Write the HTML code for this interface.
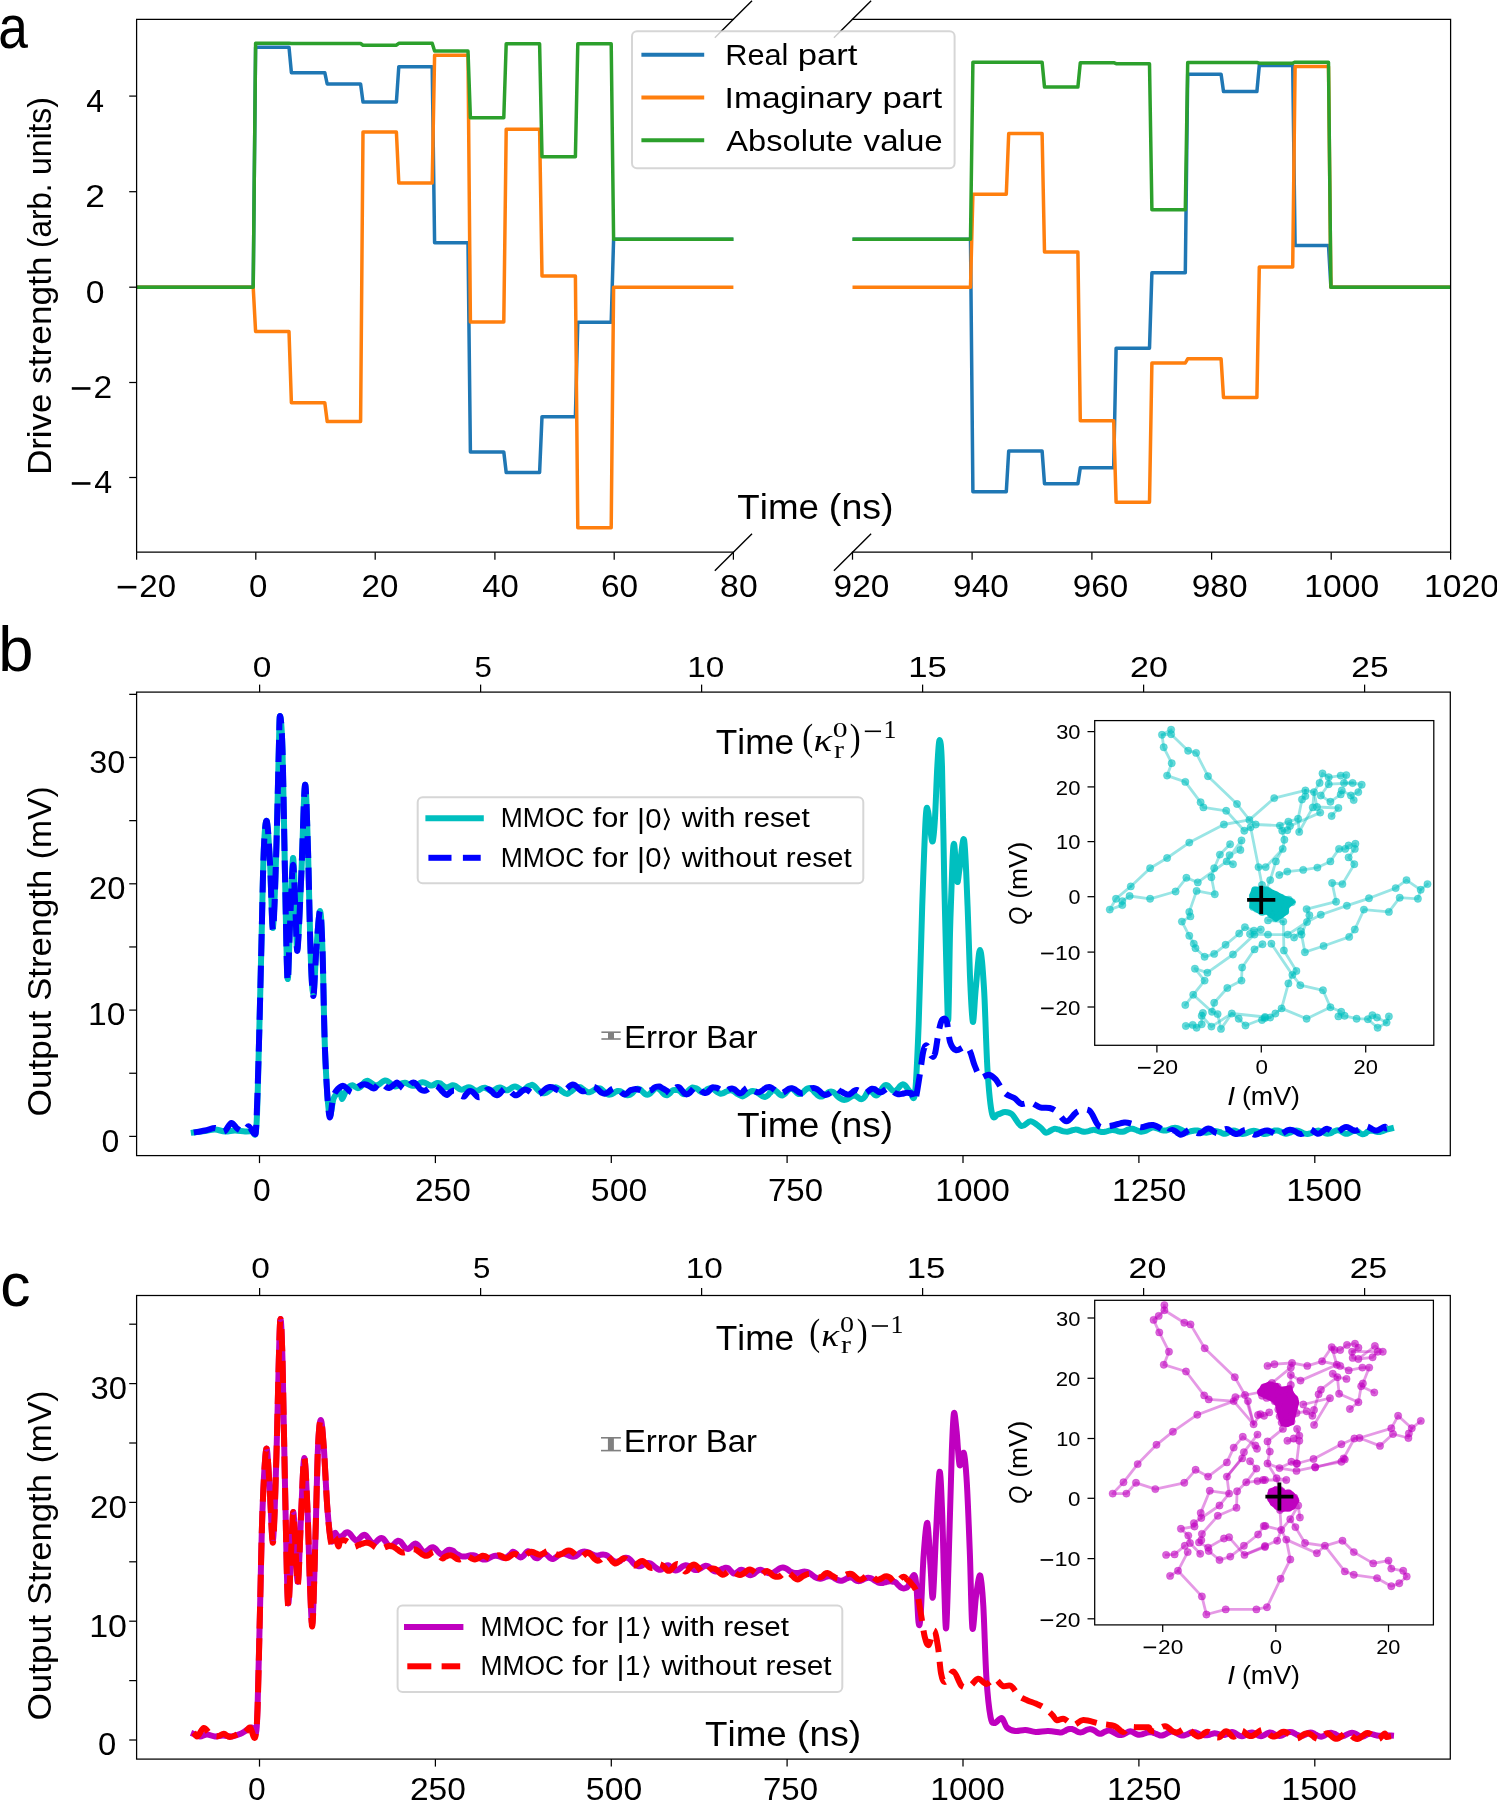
<!DOCTYPE html>
<html><head><meta charset="utf-8"><title>Figure</title><style>html,body{margin:0;padding:0;background:#fff;}svg{display:block;will-change:transform;} text{font-kerning:none;}</style></head><body><svg width="1497" height="1800" viewBox="0 0 1497 1800"><rect width="1497" height="1800" fill="#fff"/><defs><clipPath id="ca1"><rect x="136.6" y="19.3" width="596.8" height="532.9000000000001"/></clipPath><clipPath id="ca2"><rect x="852.5" y="19.3" width="598.0999999999999" height="532.9000000000001"/></clipPath></defs>
<g clip-path="url(#ca1)" fill="none" stroke-width="3.5" stroke-linejoin="round">
<polyline points="131.6,287.2 253.2,287.2 255.6,47.2 289,47.2 291.4,72.7 324.8,72.7 327.2,84 360.6,84 363,102 396.4,102 398.8,66.7 432.2,66.7 434.6,242.7 468,242.7 470.4,452 503.8,452 506.2,472.5 539.6,472.5 542,416.7 575.4,416.7 577.8,322.2 611.2,322.2 613.6,239.2 738.4,239.2" stroke="#1f77b4"/>
<polyline points="131.6,287.2 253.2,287.2 255.6,331.5 289,331.5 291.4,402.7 324.8,402.7 327.2,421.5 360.6,421.5 363,132 396.4,132 398.8,183 432.2,183 434.6,55.2 468,55.2 470.4,322 503.8,322 506.2,129.3 539.6,129.3 542,276 575.4,276 577.8,527.7 611.2,527.7 613.6,287.2 738.4,287.2" stroke="#ff7f0e"/>
<polyline points="131.6,287.2 253.2,287.2 255.6,43.3 289,43.3 291.4,43.5 324.8,43.5 327.2,43.5 360.6,43.5 363,45.2 396.4,45.2 398.8,43.3 432.2,43.3 434.6,51 468,51 470.4,117.7 503.8,117.7 506.2,43.8 539.6,43.8 542,156.7 575.4,156.7 577.8,43.8 611.2,43.8 613.6,239.2 738.4,239.2" stroke="#2ca02c"/>
</g>
<g clip-path="url(#ca2)" fill="none" stroke-width="3.5" stroke-linejoin="round">
<polyline points="847.5,239.2 970.5,239.2 972.9,491.7 1006.3,491.7 1008.7,451 1042.1,451 1044.5,483.7 1077.9,483.7 1080.3,467.7 1113.7,467.7 1116.1,348.3 1149.5,348.3 1151.9,272.7 1185.3,272.7 1187.7,74.2 1221.1,74.2 1223.5,91.5 1256.9,91.5 1259.3,65.5 1292.7,65.5 1295.1,245.5 1328.5,245.5 1330.9,287.2 1455.6,287.2" stroke="#1f77b4"/>
<polyline points="847.5,287.2 970.5,287.2 972.9,194.2 1006.3,194.2 1008.7,133.5 1042.1,133.5 1044.5,252 1077.9,252 1080.3,420.7 1113.7,420.7 1116.1,502.2 1149.5,502.2 1151.9,363 1185.3,363 1187.7,358.8 1221.1,358.8 1223.5,397.5 1256.9,397.5 1259.3,267 1292.7,267 1295.1,66.5 1328.5,66.5 1330.9,287.2 1455.6,287.2" stroke="#ff7f0e"/>
<polyline points="847.5,239.2 970.5,239.2 972.9,62.2 1006.3,62.2 1008.7,62.2 1042.1,62.2 1044.5,87 1077.9,87 1080.3,62.7 1113.7,62.7 1116.1,63.7 1149.5,63.7 1151.9,209.7 1185.3,209.7 1187.7,62.5 1221.1,62.5 1223.5,62.5 1256.9,62.5 1259.3,63.2 1292.7,63.2 1295.1,62.2 1328.5,62.2 1330.9,287.2 1455.6,287.2" stroke="#2ca02c"/>
</g>
<g stroke="#000" stroke-width="1.25" fill="none" stroke-linecap="square">
<polyline points="733.4,19.3 136.6,19.3 136.6,552.2 733.4,552.2"/>
<polyline points="852.5,19.3 1450.6,19.3 1450.6,552.2 852.5,552.2"/>
</g>
<line x1="714.8" y1="37.8" x2="752" y2="0.8" stroke="#000" stroke-width="1.4" />
<line x1="714.8" y1="570.7" x2="752" y2="533.7" stroke="#000" stroke-width="1.4" />
<line x1="833.9" y1="37.8" x2="871.1" y2="0.8" stroke="#000" stroke-width="1.4" />
<line x1="833.9" y1="570.7" x2="871.1" y2="533.7" stroke="#000" stroke-width="1.4" />
<line x1="129.2" y1="96.1" x2="136.6" y2="96.1" stroke="#000" stroke-width="1.25" />
<line x1="129.2" y1="191.7" x2="136.6" y2="191.7" stroke="#000" stroke-width="1.25" />
<line x1="129.2" y1="287.2" x2="136.6" y2="287.2" stroke="#000" stroke-width="1.25" />
<line x1="129.2" y1="382.5" x2="136.6" y2="382.5" stroke="#000" stroke-width="1.25" />
<line x1="129.2" y1="477.5" x2="136.6" y2="477.5" stroke="#000" stroke-width="1.25" />
<line x1="136.6" y1="552.2" x2="136.6" y2="559.7" stroke="#000" stroke-width="1.25" />
<line x1="255.8" y1="552.2" x2="255.8" y2="559.7" stroke="#000" stroke-width="1.25" />
<line x1="375.2" y1="552.2" x2="375.2" y2="559.7" stroke="#000" stroke-width="1.25" />
<line x1="494.9" y1="552.2" x2="494.9" y2="559.7" stroke="#000" stroke-width="1.25" />
<line x1="614.2" y1="552.2" x2="614.2" y2="559.7" stroke="#000" stroke-width="1.25" />
<line x1="733.4" y1="552.2" x2="733.4" y2="559.7" stroke="#000" stroke-width="1.25" />
<line x1="852.5" y1="552.2" x2="852.5" y2="559.7" stroke="#000" stroke-width="1.25" />
<line x1="972.1" y1="552.2" x2="972.1" y2="559.7" stroke="#000" stroke-width="1.25" />
<line x1="1091.9" y1="552.2" x2="1091.9" y2="559.7" stroke="#000" stroke-width="1.25" />
<line x1="1211.6" y1="552.2" x2="1211.6" y2="559.7" stroke="#000" stroke-width="1.25" />
<line x1="1331.2" y1="552.2" x2="1331.2" y2="559.7" stroke="#000" stroke-width="1.25" />
<line x1="1450.6" y1="552.2" x2="1450.6" y2="559.7" stroke="#000" stroke-width="1.25" />
<text x="86.27" y="111.50" textLength="17.77" lengthAdjust="spacingAndGlyphs" style="font-family:'Liberation Sans';font-size:31.80px;" fill="#000" >4</text>
<text x="85.22" y="207.10" textLength="19.65" lengthAdjust="spacingAndGlyphs" style="font-family:'Liberation Sans';font-size:31.80px;" fill="#000" >2</text>
<text x="85.68" y="302.60" textLength="18.73" lengthAdjust="spacingAndGlyphs" style="font-family:'Liberation Sans';font-size:31.80px;" fill="#000" >0</text>
<rect x="71.8" y="387.17" width="18.65" height="2.6" fill="#000"/>
<text x="93.42" y="397.90" textLength="18.67" lengthAdjust="spacingAndGlyphs" style="font-family:'Liberation Sans';font-size:31.80px;" fill="#000" >2</text>
<rect x="71.8" y="482.17" width="18.65" height="2.6" fill="#000"/>
<text x="94.37" y="492.90" textLength="17.87" lengthAdjust="spacingAndGlyphs" style="font-family:'Liberation Sans';font-size:31.80px;" fill="#000" >4</text>
<rect x="117.7" y="585.87" width="18.65" height="2.6" fill="#000"/>
<text x="139.35" y="596.60" textLength="36.74" lengthAdjust="spacingAndGlyphs" style="font-family:'Liberation Sans';font-size:31.80px;" fill="#000" >20</text>
<text x="249.11" y="596.60" textLength="18.38" lengthAdjust="spacingAndGlyphs" style="font-family:'Liberation Sans';font-size:31.80px;" fill="#000" >0</text>
<text x="361.53" y="596.60" textLength="36.86" lengthAdjust="spacingAndGlyphs" style="font-family:'Liberation Sans';font-size:31.80px;" fill="#000" >20</text>
<text x="482.25" y="596.60" textLength="36.54" lengthAdjust="spacingAndGlyphs" style="font-family:'Liberation Sans';font-size:31.80px;" fill="#000" >40</text>
<text x="601.00" y="596.60" textLength="37.21" lengthAdjust="spacingAndGlyphs" style="font-family:'Liberation Sans';font-size:31.80px;" fill="#000" >60</text>
<text x="720.13" y="596.60" textLength="37.59" lengthAdjust="spacingAndGlyphs" style="font-family:'Liberation Sans';font-size:31.80px;" fill="#000" >80</text>
<text x="833.63" y="596.60" textLength="55.77" lengthAdjust="spacingAndGlyphs" style="font-family:'Liberation Sans';font-size:31.80px;" fill="#000" >920</text>
<text x="953.14" y="596.60" textLength="55.67" lengthAdjust="spacingAndGlyphs" style="font-family:'Liberation Sans';font-size:31.80px;" fill="#000" >940</text>
<text x="1072.74" y="596.60" textLength="55.56" lengthAdjust="spacingAndGlyphs" style="font-family:'Liberation Sans';font-size:31.80px;" fill="#000" >960</text>
<text x="1191.73" y="596.60" textLength="55.98" lengthAdjust="spacingAndGlyphs" style="font-family:'Liberation Sans';font-size:31.80px;" fill="#000" >980</text>
<text x="1304.23" y="596.60" textLength="74.98" lengthAdjust="spacingAndGlyphs" style="font-family:'Liberation Sans';font-size:31.80px;" fill="#000" >1000</text>
<text x="1424.13" y="596.60" textLength="74.98" lengthAdjust="spacingAndGlyphs" style="font-family:'Liberation Sans';font-size:31.80px;" fill="#000" >1020</text>
<text x="-1.77" y="47.80" textLength="29.67" lengthAdjust="spacingAndGlyphs" style="font-family:'Liberation Sans';font-size:61.51px;" fill="#000" >a</text>
<text x="737.38" y="518.90" textLength="81.56" lengthAdjust="spacingAndGlyphs" style="font-family:'Liberation Sans';font-size:34.88px;" fill="#000" >Time</text>
<text x="828.87" y="518.90" textLength="64.76" lengthAdjust="spacingAndGlyphs" style="font-family:'Liberation Sans';font-size:34.88px;" fill="#000" >(ns)</text>
<g transform="translate(50.75,0) rotate(-90)"><text x="-474.85" y="0.00" textLength="81.09" lengthAdjust="spacingAndGlyphs" style="font-family:'Liberation Sans';font-size:32.41px;" fill="#000" >Drive</text><text x="-383.98" y="0.00" textLength="127.58" lengthAdjust="spacingAndGlyphs" style="font-family:'Liberation Sans';font-size:32.41px;" fill="#000" >strength</text><text x="-247.95" y="0.00" textLength="64.51" lengthAdjust="spacingAndGlyphs" style="font-family:'Liberation Sans';font-size:32.41px;" fill="#000" >(arb.</text><text x="-175.07" y="0.00" textLength="77.95" lengthAdjust="spacingAndGlyphs" style="font-family:'Liberation Sans';font-size:32.41px;" fill="#000" >units)</text></g>
<rect x="632" y="31.3" width="322.6" height="137" rx="5" ry="5" fill="#fff" fill-opacity="0.8" stroke="#cccccc" stroke-opacity="0.8" stroke-width="2"/>
<line x1="641.4" y1="54.8" x2="704.2" y2="54.8" stroke="#1f77b4" stroke-width="3.9" />
<line x1="641.4" y1="97.5" x2="704.2" y2="97.5" stroke="#ff7f0e" stroke-width="3.9" />
<line x1="641.4" y1="140.3" x2="704.2" y2="140.3" stroke="#2ca02c" stroke-width="3.9" />
<text x="725.18" y="65.20" textLength="63.28" lengthAdjust="spacingAndGlyphs" style="font-family:'Liberation Sans';font-size:29.07px;" fill="#000" >Real</text>
<text x="797.66" y="65.20" textLength="59.79" lengthAdjust="spacingAndGlyphs" style="font-family:'Liberation Sans';font-size:29.07px;" fill="#000" >part</text>
<text x="724.60" y="108.30" textLength="147.57" lengthAdjust="spacingAndGlyphs" style="font-family:'Liberation Sans';font-size:29.07px;" fill="#000" >Imaginary</text>
<text x="882.46" y="108.30" textLength="59.79" lengthAdjust="spacingAndGlyphs" style="font-family:'Liberation Sans';font-size:29.07px;" fill="#000" >part</text>
<text x="726.34" y="150.80" textLength="126.91" lengthAdjust="spacingAndGlyphs" style="font-family:'Liberation Sans';font-size:29.07px;" fill="#000" >Absolute</text>
<text x="863.59" y="150.80" textLength="79.18" lengthAdjust="spacingAndGlyphs" style="font-family:'Liberation Sans';font-size:29.07px;" fill="#000" >value</text>
<defs><clipPath id="cb"><rect x="136.6" y="692.1" width="1313.7" height="463.4999999999999"/></clipPath></defs>
<g clip-path="url(#cb)" fill="none" stroke-width="6.0" stroke-linejoin="round">
<path d="M193.8,1132.5 C195.67,1132.25 201.47,1131.5 205,1131 C208.53,1130.5 211.67,1129.42 215,1129.5 C218.33,1129.58 221.67,1131.33 225,1131.5 C228.33,1131.67 231.67,1130.5 235,1130.5 C238.33,1130.5 242.17,1131.42 245,1131.5 C247.83,1131.58 250.12,1131.58 252,1131 C253.88,1130.42 255.17,1141.5 256.3,1128 C257.43,1114.5 257.97,1079.67 258.8,1050 C259.63,1020.33 260.47,983.33 261.3,950 C262.13,916.67 262.88,871.5 263.8,850 C264.72,828.5 265.77,818.92 266.8,821 C267.83,823.08 268.97,844.67 270,862.5 C271.03,880.33 271.95,930.08 273,928 C274.05,925.92 275.33,879.67 276.3,850 C277.27,820.33 278.18,772.33 278.8,750 C279.42,727.67 279.38,716 280,716 C280.62,716 281.67,723.5 282.5,750 C283.33,776.5 284.17,837 285,875 C285.83,913 286.67,969.67 287.5,978 C288.33,986.33 289.08,945 290,925 C290.92,905 292.08,860.08 293,858 C293.92,855.92 294.75,897.5 295.5,912.5 C296.25,927.5 296.53,954.25 297.5,948 C298.47,941.75 300.05,902.17 301.3,875 C302.55,847.83 303.88,789.17 305,785 C306.12,780.83 307.08,822.5 308,850 C308.92,877.5 309.62,926 310.5,950 C311.38,974 312.33,994 313.3,994 C314.27,994 315.18,963.83 316.3,950 C317.42,936.17 318.97,911 320,911 C321.03,911 321.67,926.83 322.5,950 C323.33,973.17 323.87,1022.67 325,1050 C326.13,1077.33 327.83,1106 329.3,1114 C330.77,1122 332.02,1101.67 333.8,1098 C335.58,1094.33 338.63,1091.83 340,1092 C341.37,1092.17 341.17,1098.83 342,1099 C342.83,1099.17 344.08,1094.64 345,1093.04 C345.92,1091.45 346.67,1090.6 347.5,1089.44 C348.33,1088.28 349.17,1086.79 350,1086.07 C350.83,1085.36 351.67,1085.07 352.5,1085.17 C353.33,1085.26 354.17,1086.14 355,1086.64 C355.83,1087.14 356.67,1088.02 357.5,1088.15 C358.33,1088.28 359.17,1088 360,1087.41 C360.83,1086.81 361.67,1085.54 362.5,1084.58 C363.33,1083.62 364.17,1082.29 365,1081.65 C365.83,1081 366.67,1080.61 367.5,1080.69 C368.33,1080.77 369.17,1081.63 370,1082.15 C370.83,1082.68 371.67,1083.33 372.5,1083.85 C373.33,1084.36 374.17,1085 375,1085.22 C375.83,1085.44 376.67,1085.43 377.5,1085.17 C378.33,1084.92 379.17,1084.28 380,1083.71 C380.83,1083.13 381.67,1082.27 382.5,1081.74 C383.33,1081.21 384.17,1080.62 385,1080.52 C385.83,1080.43 386.67,1080.74 387.5,1081.17 C388.33,1081.6 389.17,1082.41 390,1083.09 C390.83,1083.77 391.67,1084.69 392.5,1085.25 C393.33,1085.81 394.17,1086.33 395,1086.45 C395.83,1086.58 396.67,1086.35 397.5,1086 C398.33,1085.64 399.17,1084.79 400,1084.32 C400.83,1083.85 401.67,1083.41 402.5,1083.17 C403.33,1082.93 404.17,1082.78 405,1082.86 C405.83,1082.93 406.67,1083.29 407.5,1083.64 C408.33,1083.98 409.17,1084.58 410,1084.94 C410.83,1085.31 411.67,1085.71 412.5,1085.82 C413.33,1085.93 414.17,1085.85 415,1085.61 C415.83,1085.37 416.67,1084.84 417.5,1084.4 C418.33,1083.96 419.17,1083.33 420,1082.98 C420.83,1082.62 421.67,1082.32 422.5,1082.29 C423.33,1082.26 424.17,1082.49 425,1082.79 C425.83,1083.09 426.67,1083.66 427.5,1084.1 C428.33,1084.55 429.17,1085.24 430,1085.45 C430.83,1085.67 431.67,1085.61 432.5,1085.38 C433.33,1085.15 434.17,1084.47 435,1084.06 C435.83,1083.66 436.67,1083.07 437.5,1082.95 C438.33,1082.83 439.17,1082.97 440,1083.34 C440.83,1083.71 441.67,1084.54 442.5,1085.14 C443.33,1085.73 444.17,1086.55 445,1086.91 C445.83,1087.27 446.67,1087.4 447.5,1087.29 C448.33,1087.19 449.17,1086.64 450,1086.31 C450.83,1085.98 451.67,1085.42 452.5,1085.32 C453.33,1085.22 454.17,1085.35 455,1085.71 C455.83,1086.06 456.67,1086.88 457.5,1087.47 C458.33,1088.07 459.17,1088.9 460,1089.26 C460.83,1089.62 461.67,1089.77 462.5,1089.65 C463.33,1089.54 464.17,1088.95 465,1088.56 C465.83,1088.17 466.67,1087.51 467.5,1087.3 C468.33,1087.1 469.17,1087.08 470,1087.32 C470.83,1087.57 471.67,1088.27 472.5,1088.78 C473.33,1089.29 474.17,1090.07 475,1090.39 C475.83,1090.71 476.67,1090.84 477.5,1090.69 C478.33,1090.54 479.17,1089.92 480,1089.47 C480.83,1089.02 481.67,1088.27 482.5,1087.98 C483.33,1087.69 484.17,1087.55 485,1087.72 C485.83,1087.88 486.67,1088.49 487.5,1088.95 C488.33,1089.42 489.17,1090.18 490,1090.5 C490.83,1090.81 491.67,1090.97 492.5,1090.82 C493.33,1090.67 494.17,1090.07 495,1089.59 C495.83,1089.12 496.67,1088.32 497.5,1087.96 C498.33,1087.6 499.17,1087.37 500,1087.45 C500.83,1087.54 501.67,1088.06 502.5,1088.47 C503.33,1088.88 504.17,1089.61 505,1089.9 C505.83,1090.18 506.67,1090.35 507.5,1090.19 C508.33,1090.02 509.17,1089.41 510,1088.89 C510.83,1088.38 511.67,1087.52 512.5,1087.1 C513.33,1086.68 514.17,1086.36 515,1086.39 C515.83,1086.43 516.67,1086.91 517.5,1087.32 C518.33,1087.73 519.17,1088.3 520,1088.87 C520.83,1089.44 521.67,1090.71 522.5,1090.75 C523.33,1090.78 524.17,1089.75 525,1089.07 C525.83,1088.4 526.67,1087.26 527.5,1086.69 C528.33,1086.12 529.17,1085.96 530,1085.66 C530.83,1085.36 531.67,1084.7 532.5,1084.88 C533.33,1085.05 534.17,1085.93 535,1086.72 C535.83,1087.5 536.67,1088.73 537.5,1089.57 C538.33,1090.41 539.17,1091.17 540,1091.76 C540.83,1092.35 541.67,1092.88 542.5,1093.1 C543.33,1093.32 544.17,1093.27 545,1093.1 C545.83,1092.93 546.67,1092.6 547.5,1092.08 C548.33,1091.57 549.17,1090.66 550,1090.02 C550.83,1089.37 551.67,1088.63 552.5,1088.19 C553.33,1087.75 554.17,1087.43 555,1087.38 C555.83,1087.33 556.67,1087.55 557.5,1087.92 C558.33,1088.29 559.17,1088.96 560,1089.59 C560.83,1090.22 561.67,1091.07 562.5,1091.7 C563.33,1092.33 564.17,1093.01 565,1093.38 C565.83,1093.74 566.67,1094.08 567.5,1093.88 C568.33,1093.68 569.17,1092.76 570,1092.17 C570.83,1091.57 571.67,1090.97 572.5,1090.31 C573.33,1089.66 574.17,1088.79 575,1088.23 C575.83,1087.68 576.67,1087.16 577.5,1086.98 C578.33,1086.8 579.17,1086.89 580,1087.17 C580.83,1087.44 581.67,1088.08 582.5,1088.65 C583.33,1089.23 584.17,1090.06 585,1090.62 C585.83,1091.17 586.67,1091.76 587.5,1092.01 C588.33,1092.26 589.17,1092.29 590,1092.11 C590.83,1091.94 591.67,1091.44 592.5,1090.98 C593.33,1090.51 594.17,1089.79 595,1089.32 C595.83,1088.86 596.67,1088.36 597.5,1088.21 C598.33,1088.06 599.17,1088.12 600,1088.41 C600.83,1088.71 601.67,1089.35 602.5,1090 C603.33,1090.65 604.17,1091.58 605,1092.31 C605.83,1093.03 606.67,1093.97 607.5,1094.35 C608.33,1094.72 609.17,1094.68 610,1094.57 C610.83,1094.46 611.67,1094.1 612.5,1093.7 C613.33,1093.29 614.17,1092.59 615,1092.15 C615.83,1091.71 616.67,1091.21 617.5,1091.05 C618.33,1090.89 619.17,1090.96 620,1091.21 C620.83,1091.47 621.67,1092.06 622.5,1092.58 C623.33,1093.09 624.17,1093.85 625,1094.29 C625.83,1094.73 626.67,1095.16 627.5,1095.23 C628.33,1095.29 629.17,1095.09 630,1094.71 C630.83,1094.33 631.67,1093.7 632.5,1092.96 C633.33,1092.22 634.17,1090.98 635,1090.27 C635.83,1089.57 636.67,1088.88 637.5,1088.72 C638.33,1088.57 639.17,1088.86 640,1089.33 C640.83,1089.81 641.67,1090.82 642.5,1091.59 C643.33,1092.36 644.17,1093.4 645,1093.94 C645.83,1094.48 646.67,1094.87 647.5,1094.82 C648.33,1094.76 649.17,1094.23 650,1093.6 C650.83,1092.97 651.67,1091.84 652.5,1091.03 C653.33,1090.23 654.17,1089.22 655,1088.75 C655.83,1088.29 656.67,1088.05 657.5,1088.23 C658.33,1088.41 659.17,1089.11 660,1089.83 C660.83,1090.56 661.67,1091.76 662.5,1092.59 C663.33,1093.41 664.17,1094.37 665,1094.79 C665.83,1095.2 666.67,1095.32 667.5,1095.07 C668.33,1094.82 669.17,1094.04 670,1093.28 C670.83,1092.51 671.67,1091.03 672.5,1090.49 C673.33,1089.95 674.17,1090.1 675,1090.03 C675.83,1089.95 676.67,1089.84 677.5,1090.03 C678.33,1090.23 679.17,1090.59 680,1091.21 C680.83,1091.82 681.67,1093.26 682.5,1093.73 C683.33,1094.2 684.17,1094.36 685,1094.01 C685.83,1093.66 686.67,1092.42 687.5,1091.61 C688.33,1090.81 689.17,1089.86 690,1089.17 C690.83,1088.48 691.67,1087.64 692.5,1087.46 C693.33,1087.28 694.17,1087.83 695,1088.08 C695.83,1088.34 696.67,1088.49 697.5,1089.01 C698.33,1089.53 699.17,1090.66 700,1091.21 C700.83,1091.77 701.67,1092.32 702.5,1092.32 C703.33,1092.32 704.17,1091.76 705,1091.22 C705.83,1090.68 706.67,1089.58 707.5,1089.07 C708.33,1088.56 709.17,1088.24 710,1088.17 C710.83,1088.1 711.67,1088.29 712.5,1088.65 C713.33,1089.01 714.17,1089.71 715,1090.32 C715.83,1090.93 716.67,1091.77 717.5,1092.31 C718.33,1092.85 719.17,1093.37 720,1093.56 C720.83,1093.76 721.67,1093.69 722.5,1093.47 C723.33,1093.25 724.17,1092.68 725,1092.26 C725.83,1091.84 726.67,1091.27 727.5,1090.93 C728.33,1090.6 729.17,1090.29 730,1090.24 C730.83,1090.2 731.67,1090.36 732.5,1090.68 C733.33,1091 734.17,1091.59 735,1092.15 C735.83,1092.7 736.67,1093.46 737.5,1094 C738.33,1094.54 739.17,1094.98 740,1095.38 C740.83,1095.79 741.67,1096.44 742.5,1096.42 C743.33,1096.39 744.17,1095.71 745,1095.22 C745.83,1094.73 746.67,1094.04 747.5,1093.47 C748.33,1092.9 749.17,1092.24 750,1091.82 C750.83,1091.41 751.67,1091.07 752.5,1090.98 C753.33,1090.9 754.17,1091.03 755,1091.31 C755.83,1091.6 756.67,1092.16 757.5,1092.7 C758.33,1093.25 759.17,1094.01 760,1094.59 C760.83,1095.18 761.67,1095.83 762.5,1096.22 C763.33,1096.6 764.17,1096.99 765,1096.91 C765.83,1096.82 766.67,1096.37 767.5,1095.72 C768.33,1095.06 769.17,1093.8 770,1092.96 C770.83,1092.11 771.67,1091.07 772.5,1090.65 C773.33,1090.23 774.17,1090.17 775,1090.45 C775.83,1090.73 776.67,1091.63 777.5,1092.33 C778.33,1093.04 779.17,1094.15 780,1094.66 C780.83,1095.18 781.67,1095.57 782.5,1095.43 C783.33,1095.29 784.17,1094.58 785,1093.83 C785.83,1093.08 786.67,1091.77 787.5,1090.92 C788.33,1090.08 789.17,1089.11 790,1088.77 C790.83,1088.42 791.67,1088.5 792.5,1088.87 C793.33,1089.24 794.17,1090.24 795,1090.99 C795.83,1091.74 796.67,1092.85 797.5,1093.36 C798.33,1093.87 799.17,1094.17 800,1094.07 C800.83,1093.97 801.67,1093.4 802.5,1092.78 C803.33,1092.16 804.17,1091.08 805,1090.37 C805.83,1089.66 806.67,1088.93 807.5,1088.53 C808.33,1088.13 809.17,1087.75 810,1087.97 C810.83,1088.19 811.67,1089.07 812.5,1089.83 C813.33,1090.6 814.17,1091.69 815,1092.57 C815.83,1093.45 816.67,1094.46 817.5,1095.12 C818.33,1095.77 819.17,1096.31 820,1096.51 C820.83,1096.71 821.67,1096.6 822.5,1096.32 C823.33,1096.04 824.17,1095.4 825,1094.83 C825.83,1094.26 826.67,1093.44 827.5,1092.91 C828.33,1092.37 829.17,1091.81 830,1091.62 C830.83,1091.43 831.67,1091.45 832.5,1091.76 C833.33,1092.07 834.17,1092.73 835,1093.48 C835.83,1094.23 836.67,1095.44 837.5,1096.25 C838.33,1097.06 839.17,1097.76 840,1098.33 C840.83,1098.9 841.67,1099.4 842.5,1099.65 C843.33,1099.9 844.17,1099.96 845,1099.84 C845.83,1099.73 846.67,1099.35 847.5,1098.95 C848.33,1098.54 849.17,1097.93 850,1097.44 C850.83,1096.95 851.67,1096.35 852.5,1096.01 C853.33,1095.68 854.17,1095.26 855,1095.43 C855.83,1095.6 856.67,1096.43 857.5,1097.02 C858.33,1097.6 859.17,1098.62 860,1098.92 C860.83,1099.23 861.67,1099.23 862.5,1098.84 C863.33,1098.44 864.17,1097.66 865,1096.56 C865.83,1095.46 866.67,1093.24 867.5,1092.25 C868.33,1091.26 869.17,1090.59 870,1090.63 C870.83,1090.66 871.67,1091.72 872.5,1092.46 C873.33,1093.2 874.17,1094.65 875,1095.06 C875.83,1095.48 876.67,1095.48 877.5,1094.95 C878.33,1094.42 879.17,1093.08 880,1091.91 C880.83,1090.74 881.67,1089.01 882.5,1087.91 C883.33,1086.81 884.17,1085.71 885,1085.31 C885.83,1084.91 886.67,1085.07 887.5,1085.51 C888.33,1085.95 889.17,1087.11 890,1087.94 C890.83,1088.78 891.67,1089.99 892.5,1090.52 C893.33,1091.05 894.17,1091.35 895,1091.13 C895.83,1090.92 896.67,1090.05 897.5,1089.23 C898.33,1088.41 899.17,1087.01 900,1086.19 C900.83,1085.38 901.67,1084.49 902.5,1084.34 C903.33,1084.18 904.17,1084.55 905,1085.26 C905.83,1085.98 906.67,1087.56 907.5,1088.62 C908.33,1089.69 908.75,1090.86 910,1091.64 C911.25,1092.42 913.55,1104.69 915,1093.3 C916.45,1081.91 917.5,1054.4 918.7,1023.3 C919.9,992.2 921.03,940.92 922.2,906.7 C923.37,872.48 924.73,833.95 925.7,818 C926.67,802.05 927.23,809.05 928,811 C928.77,812.95 929.52,824.65 930.3,829.7 C931.08,834.75 931.92,843.25 932.7,841.3 C933.48,839.35 934.23,830.43 935,818 C935.77,805.57 936.53,779.7 937.3,766.7 C938.07,753.7 938.82,740 939.6,740 C940.38,740 941.22,742.82 942,766.7 C942.78,790.58 943.53,848.3 944.3,883.3 C945.07,918.3 945.93,954.08 946.6,976.7 C947.27,999.32 947.72,1026.78 948.3,1019 C948.88,1011.22 949.4,956.5 950.1,930 C950.8,903.5 951.8,874.17 952.5,860 C953.2,845.83 953.53,841.5 954.3,845 C955.07,848.5 956.23,876.95 957.1,881 C957.97,885.05 958.33,876.13 959.5,869.3 C960.67,862.47 962.75,833.77 964.1,840 C965.45,846.23 966.62,883.92 967.6,906.7 C968.58,929.48 969.13,957.48 970,976.7 C970.87,995.92 971.83,1020.07 972.8,1022 C973.77,1023.93 974.6,1000.3 975.8,988.3 C977,976.3 978.63,950 980,950 C981.37,950 982.75,968.3 984,988.3 C985.25,1008.3 986.15,1049.05 987.5,1070 C988.85,1090.95 990.35,1106.62 992.1,1114 C993.85,1121.38 995.85,1114.63 998,1114.3 C1000.15,1113.97 1002.67,1112 1005,1112 C1007.33,1112 1009.28,1111.97 1012,1114.3 C1014.72,1116.63 1018.2,1124.83 1021.3,1126 C1024.4,1127.17 1027.48,1121.1 1030.6,1121.3 C1033.72,1121.5 1037.6,1125.38 1040,1127.2 C1042.4,1129.02 1043.75,1131.38 1045,1132.24 C1046.25,1133.1 1046.67,1132.55 1047.5,1132.34 C1048.33,1132.13 1049.17,1131.45 1050,1130.97 C1050.83,1130.5 1051.67,1129.89 1052.5,1129.5 C1053.33,1129.11 1054.17,1128.67 1055,1128.63 C1055.83,1128.6 1056.67,1129.06 1057.5,1129.3 C1058.33,1129.55 1059.17,1129.77 1060,1130.08 C1060.83,1130.4 1061.67,1130.92 1062.5,1131.17 C1063.33,1131.42 1064.17,1131.51 1065,1131.6 C1065.83,1131.69 1066.67,1131.8 1067.5,1131.72 C1068.33,1131.64 1069.17,1131.36 1070,1131.11 C1070.83,1130.86 1071.67,1130.45 1072.5,1130.2 C1073.33,1129.96 1074.17,1129.7 1075,1129.64 C1075.83,1129.58 1076.67,1129.66 1077.5,1129.82 C1078.33,1129.99 1079.17,1130.35 1080,1130.64 C1080.83,1130.92 1081.67,1131.31 1082.5,1131.52 C1083.33,1131.72 1084.17,1131.87 1085,1131.86 C1085.83,1131.85 1086.67,1131.66 1087.5,1131.45 C1088.33,1131.24 1089.17,1130.85 1090,1130.59 C1090.83,1130.34 1091.67,1130.04 1092.5,1129.93 C1093.33,1129.82 1094.17,1129.83 1095,1129.95 C1095.83,1130.08 1096.67,1130.42 1097.5,1130.69 C1098.33,1130.95 1099.17,1131.33 1100,1131.55 C1100.83,1131.78 1101.67,1131.98 1102.5,1132.02 C1103.33,1132.06 1104.17,1131.96 1105,1131.82 C1105.83,1131.68 1106.67,1131.41 1107.5,1131.16 C1108.33,1130.91 1109.17,1130.52 1110,1130.31 C1110.83,1130.11 1111.67,1129.95 1112.5,1129.95 C1113.33,1129.94 1114.17,1130.12 1115,1130.31 C1115.83,1130.5 1116.67,1130.87 1117.5,1131.11 C1118.33,1131.34 1119.17,1131.63 1120,1131.72 C1120.83,1131.81 1121.67,1131.77 1122.5,1131.66 C1123.33,1131.55 1124.17,1131.4 1125,1131.09 C1125.83,1130.78 1126.67,1130.17 1127.5,1129.81 C1128.33,1129.44 1129.17,1129.08 1130,1128.91 C1130.83,1128.75 1131.67,1128.71 1132.5,1128.81 C1133.33,1128.91 1134.17,1129.21 1135,1129.5 C1135.83,1129.8 1136.67,1130.26 1137.5,1130.59 C1138.33,1130.91 1139.17,1131.29 1140,1131.46 C1140.83,1131.63 1141.67,1131.71 1142.5,1131.62 C1143.33,1131.53 1144.17,1131.23 1145,1130.91 C1145.83,1130.6 1146.67,1130.16 1147.5,1129.75 C1148.33,1129.33 1149.17,1128.77 1150,1128.41 C1150.83,1128.06 1151.67,1127.74 1152.5,1127.62 C1153.33,1127.5 1154.17,1127.55 1155,1127.69 C1155.83,1127.83 1156.67,1128.16 1157.5,1128.46 C1158.33,1128.76 1159.17,1129.19 1160,1129.51 C1160.83,1129.82 1161.67,1130.17 1162.5,1130.34 C1163.33,1130.52 1164.17,1130.61 1165,1130.58 C1165.83,1130.54 1166.67,1130.34 1167.5,1130.11 C1168.33,1129.88 1169.17,1129.49 1170,1129.19 C1170.83,1128.88 1171.67,1128.49 1172.5,1128.27 C1173.33,1128.04 1174.17,1127.85 1175,1127.83 C1175.83,1127.81 1176.67,1127.94 1177.5,1128.16 C1178.33,1128.38 1179.17,1128.76 1180,1129.15 C1180.83,1129.53 1181.67,1130.05 1182.5,1130.47 C1183.33,1130.9 1184.17,1131.37 1185,1131.7 C1185.83,1132.02 1186.67,1132.46 1187.5,1132.43 C1188.33,1132.4 1189.17,1131.75 1190,1131.5 C1190.83,1131.26 1191.67,1131.12 1192.5,1130.95 C1193.33,1130.79 1194.17,1130.56 1195,1130.49 C1195.83,1130.42 1196.67,1130.43 1197.5,1130.53 C1198.33,1130.64 1199.17,1130.9 1200,1131.15 C1200.83,1131.39 1201.67,1131.76 1202.5,1132 C1203.33,1132.23 1204.17,1132.48 1205,1132.58 C1205.83,1132.67 1206.67,1132.66 1207.5,1132.56 C1208.33,1132.47 1209.17,1132.22 1210,1132.02 C1210.83,1131.82 1211.67,1131.51 1212.5,1131.36 C1213.33,1131.2 1214.17,1131.06 1215,1131.07 C1215.83,1131.08 1216.67,1131.21 1217.5,1131.39 C1218.33,1131.57 1219.17,1131.8 1220,1132.14 C1220.83,1132.48 1221.67,1133.16 1222.5,1133.44 C1223.33,1133.71 1224.17,1133.85 1225,1133.78 C1225.83,1133.71 1226.67,1133.36 1227.5,1133 C1228.33,1132.65 1229.17,1132.04 1230,1131.65 C1230.83,1131.26 1231.67,1130.81 1232.5,1130.65 C1233.33,1130.48 1234.17,1130.5 1235,1130.68 C1235.83,1130.86 1236.67,1131.33 1237.5,1131.74 C1238.33,1132.15 1239.17,1132.77 1240,1133.14 C1240.83,1133.5 1241.67,1133.86 1242.5,1133.94 C1243.33,1134.02 1244.17,1133.83 1245,1133.63 C1245.83,1133.42 1246.67,1133.03 1247.5,1132.7 C1248.33,1132.36 1249.17,1131.91 1250,1131.61 C1250.83,1131.31 1251.67,1131.01 1252.5,1130.88 C1253.33,1130.75 1254.17,1130.74 1255,1130.85 C1255.83,1130.95 1256.67,1131.24 1257.5,1131.53 C1258.33,1131.83 1259.17,1132.27 1260,1132.62 C1260.83,1132.97 1261.67,1133.37 1262.5,1133.61 C1263.33,1133.84 1264.17,1134.02 1265,1134.03 C1265.83,1134.04 1266.67,1133.89 1267.5,1133.67 C1268.33,1133.44 1269.17,1133.04 1270,1132.68 C1270.83,1132.31 1271.67,1131.82 1272.5,1131.47 C1273.33,1131.11 1274.17,1130.69 1275,1130.53 C1275.83,1130.37 1276.67,1130.37 1277.5,1130.51 C1278.33,1130.65 1279.17,1131.03 1280,1131.38 C1280.83,1131.73 1281.67,1132.27 1282.5,1132.62 C1283.33,1132.98 1284.17,1133.36 1285,1133.51 C1285.83,1133.67 1286.67,1133.68 1287.5,1133.54 C1288.33,1133.4 1289.17,1133.03 1290,1132.69 C1290.83,1132.34 1291.67,1131.82 1292.5,1131.47 C1293.33,1131.12 1294.17,1130.74 1295,1130.6 C1295.83,1130.45 1296.67,1130.46 1297.5,1130.6 C1298.33,1130.75 1299.17,1131.1 1300,1131.45 C1300.83,1131.8 1301.67,1132.31 1302.5,1132.69 C1303.33,1133.07 1304.17,1133.5 1305,1133.72 C1305.83,1133.94 1306.67,1134.07 1307.5,1134.02 C1308.33,1133.98 1309.17,1133.73 1310,1133.45 C1310.83,1133.18 1311.67,1132.73 1312.5,1132.36 C1313.33,1131.99 1314.17,1131.54 1315,1131.25 C1315.83,1130.96 1316.67,1130.69 1317.5,1130.63 C1318.33,1130.56 1319.17,1130.64 1320,1130.86 C1320.83,1131.07 1321.67,1131.52 1322.5,1131.89 C1323.33,1132.27 1324.17,1132.79 1325,1133.09 C1325.83,1133.39 1326.67,1133.67 1327.5,1133.71 C1328.33,1133.75 1329.17,1133.6 1330,1133.36 C1330.83,1133.11 1331.67,1132.62 1332.5,1132.22 C1333.33,1131.82 1334.17,1131.28 1335,1130.97 C1335.83,1130.66 1336.67,1130.39 1337.5,1130.35 C1338.33,1130.31 1339.17,1130.43 1340,1130.73 C1340.83,1131.03 1341.67,1131.7 1342.5,1132.17 C1343.33,1132.64 1344.17,1133.29 1345,1133.55 C1345.83,1133.82 1346.67,1133.91 1347.5,1133.76 C1348.33,1133.61 1349.17,1133.09 1350,1132.66 C1350.83,1132.24 1351.67,1131.54 1352.5,1131.21 C1353.33,1130.87 1354.17,1130.64 1355,1130.64 C1355.83,1130.64 1356.67,1130.79 1357.5,1131.2 C1358.33,1131.61 1359.17,1132.59 1360,1133.1 C1360.83,1133.61 1361.67,1134.17 1362.5,1134.26 C1363.33,1134.36 1364.17,1134.09 1365,1133.66 C1365.83,1133.24 1366.67,1132.17 1367.5,1131.71 C1368.33,1131.26 1369.17,1131.09 1370,1130.92 C1370.83,1130.76 1371.67,1130.66 1372.5,1130.71 C1373.33,1130.77 1374.17,1131.05 1375,1131.25 C1375.83,1131.45 1376.67,1131.79 1377.5,1131.92 C1378.33,1132.05 1379.17,1132.12 1380,1132.01 C1380.83,1131.9 1381.67,1131.59 1382.5,1131.28 C1383.33,1130.98 1384.37,1130.44 1385,1130.18 C1385.63,1129.92 1385.3,1129.98 1386.3,1129.7 C1387.3,1129.42 1390.22,1128.7 1391,1128.5" stroke="#00bfbf" stroke-linecap="square"/>
<path d="M193.8,1132.5 C195.67,1132.17 201.47,1131.25 205,1130.5 C208.53,1129.75 212.5,1127.92 215,1128 C217.5,1128.08 218.33,1130.5 220,1131 C221.67,1131.5 223.12,1132.33 225,1131 C226.88,1129.67 229.22,1123.37 231.3,1123 C233.38,1122.63 235.42,1127.42 237.5,1128.8 C239.58,1130.18 241.92,1131.72 243.8,1131.3 C245.68,1130.88 247.02,1125.88 248.8,1126.3 C250.58,1126.72 253.25,1134.18 254.5,1133.8 C255.75,1133.42 255.58,1137.97 256.3,1124 C257.02,1110.03 257.97,1079 258.8,1050 C259.63,1021 260.47,983.33 261.3,950 C262.13,916.67 262.88,871.5 263.8,850 C264.72,828.5 265.77,818.92 266.8,821 C267.83,823.08 268.97,844.33 270,862.5 C271.03,880.67 271.95,932.08 273,930 C274.05,927.92 275.33,880 276.3,850 C277.27,820 278.18,772.33 278.8,750 C279.42,727.67 279.38,716 280,716 C280.62,716 281.67,723.5 282.5,750 C283.33,776.5 284.17,836.67 285,875 C285.83,913.33 286.67,971.67 287.5,980 C288.33,988.33 289.08,944.17 290,925 C290.92,905.83 292.08,867.08 293,865 C293.92,862.92 294.75,898.33 295.5,912.5 C296.25,926.67 296.53,956.25 297.5,950 C298.47,943.75 300.05,902.5 301.3,875 C302.55,847.5 303.88,789.17 305,785 C306.12,780.83 307.08,822.5 308,850 C308.92,877.5 309.62,925.67 310.5,950 C311.38,974.33 312.33,996 313.3,996 C314.27,996 315.18,964.17 316.3,950 C317.42,935.83 318.97,911 320,911 C321.03,911 321.67,926.83 322.5,950 C323.33,973.17 323.87,1022.33 325,1050 C326.13,1077.67 327.83,1108.5 329.3,1116 C330.77,1123.5 331.68,1100 333.8,1095 C335.92,1090 339.8,1087.09 342,1086 C344.2,1084.91 345.75,1087.63 347,1088.46 C348.25,1089.3 348.67,1090.36 349.5,1091.03 C350.33,1091.69 351.17,1092.43 352,1092.47 C352.83,1092.51 353.67,1092.05 354.5,1091.29 C355.33,1090.54 356.17,1088.85 357,1087.96 C357.83,1087.07 358.67,1086.52 359.5,1085.96 C360.33,1085.4 361.17,1084.9 362,1084.6 C362.83,1084.29 363.67,1084.1 364.5,1084.14 C365.33,1084.19 366.17,1084.53 367,1084.88 C367.83,1085.23 368.67,1085.71 369.5,1086.22 C370.33,1086.73 371.17,1087.56 372,1087.92 C372.83,1088.28 373.67,1088.78 374.5,1088.37 C375.33,1087.96 376.17,1086.37 377,1085.46 C377.83,1084.55 378.67,1083.18 379.5,1082.89 C380.33,1082.61 381.17,1083.32 382,1083.76 C382.83,1084.21 383.67,1084.95 384.5,1085.58 C385.33,1086.22 386.17,1087.18 387,1087.57 C387.83,1087.95 388.67,1088.12 389.5,1087.91 C390.33,1087.7 391.17,1086.93 392,1086.32 C392.83,1085.71 393.67,1084.88 394.5,1084.26 C395.33,1083.64 396.17,1082.53 397,1082.59 C397.83,1082.65 398.67,1083.8 399.5,1084.6 C400.33,1085.4 401.17,1086.66 402,1087.37 C402.83,1088.09 403.67,1088.79 404.5,1088.89 C405.33,1089 406.17,1088.59 407,1088.01 C407.83,1087.42 408.67,1086.24 409.5,1085.38 C410.33,1084.52 411.17,1083.28 412,1082.83 C412.83,1082.37 413.67,1082.27 414.5,1082.64 C415.33,1083.02 416.17,1084.12 417,1085.09 C417.83,1086.06 418.67,1087.63 419.5,1088.49 C420.33,1089.35 421.17,1089.89 422,1090.26 C422.83,1090.63 423.67,1090.78 424.5,1090.7 C425.33,1090.61 426.17,1090.21 427,1089.76 C427.83,1089.31 428.67,1088.57 429.5,1088 C430.33,1087.42 431.17,1086.71 432,1086.3 C432.83,1085.89 433.67,1085.56 434.5,1085.55 C435.33,1085.55 436.17,1085.79 437,1086.25 C437.83,1086.71 438.67,1087.5 439.5,1088.31 C440.33,1089.11 441.17,1090.19 442,1091.08 C442.83,1091.97 443.67,1092.97 444.5,1093.64 C445.33,1094.3 446.17,1095.21 447,1095.08 C447.83,1094.94 448.67,1093.47 449.5,1092.81 C450.33,1092.15 451.17,1091.5 452,1091.13 C452.83,1090.76 453.67,1090.44 454.5,1090.59 C455.33,1090.74 456.17,1091.39 457,1092.04 C457.83,1092.7 458.67,1093.84 459.5,1094.51 C460.33,1095.18 461.17,1095.76 462,1096.06 C462.83,1096.36 463.67,1096.77 464.5,1096.31 C465.33,1095.85 466.17,1094.2 467,1093.33 C467.83,1092.46 468.67,1091.39 469.5,1091.08 C470.33,1090.77 471.17,1091 472,1091.48 C472.83,1091.95 473.67,1093.07 474.5,1093.91 C475.33,1094.75 476.17,1095.96 477,1096.51 C477.83,1097.06 478.67,1097.3 479.5,1097.2 C480.33,1097.1 481.17,1096.66 482,1095.9 C482.83,1095.14 483.67,1093.65 484.5,1092.63 C485.33,1091.62 486.17,1090.34 487,1089.82 C487.83,1089.3 488.67,1089.19 489.5,1089.51 C490.33,1089.82 491.17,1090.89 492,1091.7 C492.83,1092.52 493.67,1093.81 494.5,1094.38 C495.33,1094.95 496.17,1095.24 497,1095.15 C497.83,1095.05 498.67,1094.48 499.5,1093.81 C500.33,1093.14 501.17,1091.95 502,1091.13 C502.83,1090.3 503.67,1089.3 504.5,1088.86 C505.33,1088.41 506.17,1088.21 507,1088.48 C507.83,1088.74 508.67,1089.71 509.5,1090.47 C510.33,1091.23 511.17,1092.28 512,1093.04 C512.83,1093.79 513.67,1094.63 514.5,1094.98 C515.33,1095.33 516.17,1095.38 517,1095.13 C517.83,1094.87 518.67,1094.13 519.5,1093.46 C520.33,1092.79 521.17,1091.76 522,1091.13 C522.83,1090.49 523.67,1089.85 524.5,1089.66 C525.33,1089.48 526.17,1089.74 527,1090.03 C527.83,1090.32 528.67,1090.91 529.5,1091.43 C530.33,1091.95 531.17,1092.67 532,1093.17 C532.83,1093.68 533.67,1094.18 534.5,1094.44 C535.33,1094.7 536.17,1094.83 537,1094.73 C537.83,1094.63 538.67,1094.29 539.5,1093.84 C540.33,1093.38 541.17,1092.67 542,1091.99 C542.83,1091.31 543.67,1090.46 544.5,1089.78 C545.33,1089.1 546.17,1088.38 547,1087.92 C547.83,1087.46 548.67,1087.11 549.5,1086.99 C550.33,1086.88 551.17,1086.99 552,1087.21 C552.83,1087.44 553.67,1087.92 554.5,1088.36 C555.33,1088.8 556.17,1089.41 557,1089.85 C557.83,1090.29 558.67,1090.76 559.5,1090.99 C560.33,1091.22 561.17,1091.33 562,1091.22 C562.83,1091.11 563.67,1090.78 564.5,1090.35 C565.33,1089.92 566.17,1089.32 567,1088.62 C567.83,1087.93 568.67,1086.84 569.5,1086.19 C570.33,1085.54 571.17,1084.9 572,1084.71 C572.83,1084.52 573.67,1084.66 574.5,1085.05 C575.33,1085.43 576.17,1086.28 577,1087.02 C577.83,1087.77 578.67,1088.84 579.5,1089.53 C580.33,1090.21 581.17,1090.88 582,1091.15 C582.83,1091.43 583.67,1091.39 584.5,1091.18 C585.33,1090.96 586.17,1090.39 587,1089.87 C587.83,1089.36 588.67,1088.57 589.5,1088.07 C590.33,1087.57 591.17,1087.04 592,1086.86 C592.83,1086.69 593.67,1086.73 594.5,1087.03 C595.33,1087.32 596.17,1087.97 597,1088.63 C597.83,1089.29 598.67,1090.25 599.5,1090.98 C600.33,1091.71 601.17,1092.54 602,1093 C602.83,1093.46 603.67,1093.76 604.5,1093.75 C605.33,1093.75 606.17,1093.4 607,1092.95 C607.83,1092.51 608.67,1091.71 609.5,1091.08 C610.33,1090.45 611.17,1089.65 612,1089.18 C612.83,1088.71 613.67,1088.33 614.5,1088.28 C615.33,1088.23 616.17,1088.49 617,1088.89 C617.83,1089.29 618.67,1090.02 619.5,1090.7 C620.33,1091.38 621.17,1092.32 622,1092.96 C622.83,1093.59 623.67,1094.44 624.5,1094.52 C625.33,1094.59 626.17,1094.02 627,1093.41 C627.83,1092.8 628.67,1091.45 629.5,1090.85 C630.33,1090.25 631.17,1090.09 632,1089.8 C632.83,1089.51 633.67,1089.22 634.5,1089.12 C635.33,1089.02 636.17,1089.08 637,1089.21 C637.83,1089.33 638.67,1089.62 639.5,1089.88 C640.33,1090.13 641.17,1090.5 642,1090.76 C642.83,1091.01 643.67,1091.28 644.5,1091.39 C645.33,1091.51 646.17,1091.53 647,1091.43 C647.83,1091.33 648.67,1091.08 649.5,1090.78 C650.33,1090.48 651.17,1090.18 652,1089.63 C652.83,1089.08 653.67,1087.96 654.5,1087.46 C655.33,1086.96 656.17,1086.78 657,1086.62 C657.83,1086.46 658.67,1086.26 659.5,1086.49 C660.33,1086.72 661.17,1087.5 662,1087.98 C662.83,1088.47 663.67,1088.94 664.5,1089.42 C665.33,1089.91 666.17,1090.26 667,1090.91 C667.83,1091.56 668.67,1093.11 669.5,1093.31 C670.33,1093.52 671.17,1092.81 672,1092.14 C672.83,1091.48 673.67,1090.13 674.5,1089.3 C675.33,1088.47 676.17,1087.46 677,1087.18 C677.83,1086.89 678.67,1087.07 679.5,1087.6 C680.33,1088.12 681.17,1089.39 682,1090.36 C682.83,1091.32 683.67,1092.71 684.5,1093.38 C685.33,1094.05 686.17,1094.44 687,1094.38 C687.83,1094.32 688.67,1093.73 689.5,1093.02 C690.33,1092.32 691.17,1091.07 692,1090.17 C692.83,1089.27 693.67,1088.16 694.5,1087.63 C695.33,1087.09 696.17,1086.82 697,1086.97 C697.83,1087.12 698.67,1087.82 699.5,1088.52 C700.33,1089.21 701.17,1090.38 702,1091.12 C702.83,1091.86 703.67,1092.69 704.5,1092.96 C705.33,1093.22 706.17,1093.11 707,1092.69 C707.83,1092.26 708.67,1091.26 709.5,1090.39 C710.33,1089.53 711.17,1087.98 712,1087.5 C712.83,1087.01 713.67,1087.42 714.5,1087.48 C715.33,1087.54 716.17,1087.56 717,1087.86 C717.83,1088.16 718.67,1088.77 719.5,1089.27 C720.33,1089.77 721.17,1090.45 722,1090.84 C722.83,1091.23 723.67,1091.63 724.5,1091.6 C725.33,1091.57 726.17,1091.09 727,1090.67 C727.83,1090.25 728.67,1089.44 729.5,1089.06 C730.33,1088.68 731.17,1088.36 732,1088.41 C732.83,1088.46 733.67,1088.84 734.5,1089.37 C735.33,1089.89 736.17,1090.91 737,1091.59 C737.83,1092.26 738.67,1093.24 739.5,1093.42 C740.33,1093.6 741.17,1093.22 742,1092.65 C742.83,1092.07 743.67,1090.74 744.5,1089.95 C745.33,1089.16 746.17,1088.27 747,1087.9 C747.83,1087.53 748.67,1087.47 749.5,1087.72 C750.33,1087.97 751.17,1088.85 752,1089.42 C752.83,1089.99 753.67,1090.68 754.5,1091.15 C755.33,1091.61 756.17,1092.05 757,1092.2 C757.83,1092.35 758.67,1092.29 759.5,1092.05 C760.33,1091.8 761.17,1091.25 762,1090.72 C762.83,1090.19 763.67,1089.42 764.5,1088.86 C765.33,1088.3 766.17,1087.68 767,1087.37 C767.83,1087.06 768.67,1086.9 769.5,1087 C770.33,1087.1 771.17,1087.5 772,1087.98 C772.83,1088.47 773.67,1089.25 774.5,1089.91 C775.33,1090.57 776.17,1091.4 777,1091.94 C777.83,1092.49 778.67,1092.98 779.5,1093.17 C780.33,1093.37 781.17,1093.32 782,1093.09 C782.83,1092.86 783.67,1092.32 784.5,1091.8 C785.33,1091.28 786.17,1090.52 787,1089.97 C787.83,1089.43 788.67,1088.83 789.5,1088.53 C790.33,1088.24 791.17,1088.1 792,1088.2 C792.83,1088.31 793.67,1088.7 794.5,1089.15 C795.33,1089.6 796.17,1090.33 797,1090.92 C797.83,1091.5 798.67,1092.22 799.5,1092.66 C800.33,1093.09 801.17,1093.44 802,1093.51 C802.83,1093.58 803.67,1093.39 804.5,1093.06 C805.33,1092.72 806.17,1092.08 807,1091.5 C807.83,1090.92 808.67,1090.13 809.5,1089.58 C810.33,1089.03 811.17,1088.47 812,1088.22 C812.83,1087.97 813.67,1087.92 814.5,1088.08 C815.33,1088.23 816.17,1088.66 817,1089.14 C817.83,1089.63 818.67,1090.3 819.5,1091 C820.33,1091.7 821.17,1092.7 822,1093.33 C822.83,1093.95 823.67,1094.52 824.5,1094.75 C825.33,1094.98 826.17,1094.95 827,1094.71 C827.83,1094.47 828.67,1093.88 829.5,1093.3 C830.33,1092.72 831.17,1091.86 832,1091.21 C832.83,1090.57 833.67,1089.83 834.5,1089.42 C835.33,1089.02 836.17,1088.57 837,1088.78 C837.83,1088.99 838.67,1090.15 839.5,1090.68 C840.33,1091.21 841.17,1091.49 842,1091.94 C842.83,1092.39 843.67,1092.97 844.5,1093.38 C845.33,1093.79 846.17,1094.24 847,1094.4 C847.83,1094.56 848.67,1094.64 849.5,1094.34 C850.33,1094.04 851.17,1093.22 852,1092.61 C852.83,1092 853.67,1091.08 854.5,1090.66 C855.33,1090.24 856.17,1090 857,1090.1 C857.83,1090.21 858.67,1090.8 859.5,1091.29 C860.33,1091.78 861.17,1092.66 862,1093.04 C862.83,1093.42 863.67,1093.71 864.5,1093.59 C865.33,1093.48 866.17,1092.91 867,1092.34 C867.83,1091.76 868.67,1090.75 869.5,1090.14 C870.33,1089.54 871.17,1088.88 872,1088.71 C872.83,1088.54 873.67,1088.75 874.5,1089.1 C875.33,1089.44 876.17,1090.27 877,1090.78 C877.83,1091.29 878.67,1091.97 879.5,1092.16 C880.33,1092.34 881.17,1092.23 882,1091.91 C882.83,1091.59 883.67,1090.78 884.5,1090.23 C885.33,1089.68 886.17,1088.87 887,1088.59 C887.83,1088.31 888.67,1088.26 889.5,1088.54 C890.33,1088.83 891.17,1089.62 892,1090.3 C892.83,1090.98 893.67,1092.02 894.5,1092.6 C895.33,1093.18 896.17,1093.51 897,1093.77 C897.83,1094.03 898.67,1094.15 899.5,1094.16 C900.33,1094.17 901.17,1094 902,1093.84 C902.83,1093.69 903.67,1093.38 904.5,1093.21 C905.33,1093.04 906.17,1092.84 907,1092.82 C907.83,1092.8 908.67,1092.98 909.5,1093.12 C910.33,1093.27 911.05,1092.51 912,1093.7 C912.95,1094.9 913.9,1103.47 915.2,1100.3 C916.5,1097.13 918.45,1082.87 919.8,1074.7 C921.15,1066.53 922.13,1056.17 923.3,1051.3 C924.47,1046.43 925.43,1044.72 926.8,1045.5 C928.17,1046.28 930.13,1054.63 931.5,1056 C932.87,1057.37 933.83,1057.58 935,1053.7 C936.17,1049.82 937.33,1038.32 938.5,1032.7 C939.67,1027.08 940.65,1021.95 942,1020 C943.35,1018.05 945.25,1017.33 946.6,1021 C947.95,1024.67 948.53,1037.13 950.1,1042 C951.67,1046.87 953.47,1049.42 956,1050.2 C958.53,1050.98 962.97,1046.52 965.3,1046.7 C967.63,1046.88 968.45,1048.2 970,1051.3 C971.55,1054.4 972.85,1061.02 974.6,1065.3 C976.35,1069.58 978.17,1075.43 980.5,1077 C982.83,1078.57 986.08,1074.32 988.6,1074.7 C991.12,1075.08 992.87,1076.2 995.6,1079.3 C998.33,1082.4 1001.88,1090.18 1005,1093.3 C1008.12,1096.42 1011.58,1096.25 1014.3,1098 C1017.02,1099.75 1018.58,1103.02 1021.3,1103.8 C1024.02,1104.58 1027.48,1102.12 1030.6,1102.7 C1033.72,1103.28 1036.83,1106.42 1040,1107.3 C1043.17,1108.18 1046.8,1107.27 1049.6,1108 C1052.4,1108.73 1053.98,1109.48 1056.8,1111.7 C1059.62,1113.92 1063.08,1121.3 1066.5,1121.3 C1069.92,1121.3 1073.5,1113.5 1077.3,1111.7 C1081.1,1109.9 1085.7,1108.1 1089.3,1110.5 C1092.9,1112.9 1095.5,1123.5 1098.9,1126.1 C1102.3,1128.7 1105.48,1126.7 1109.7,1126.1 C1113.92,1125.5 1120.58,1122.9 1124.2,1122.5 C1127.82,1122.1 1128.6,1122.9 1131.4,1123.7 C1134.2,1124.5 1137.4,1127.08 1141,1127.3 C1144.6,1127.52 1148.58,1124.18 1153,1125 C1157.42,1125.82 1164.67,1131.25 1167.5,1132.2 C1170.33,1133.15 1169.17,1131.07 1170,1130.7 C1170.83,1130.33 1171.67,1129.93 1172.5,1129.97 C1173.33,1130.02 1174.17,1130.47 1175,1130.98 C1175.83,1131.48 1176.67,1132.38 1177.5,1132.98 C1178.33,1133.57 1179.17,1134.33 1180,1134.54 C1180.83,1134.76 1181.67,1134.57 1182.5,1134.28 C1183.33,1133.98 1184.17,1133.36 1185,1132.78 C1185.83,1132.2 1186.67,1131.32 1187.5,1130.8 C1188.33,1130.28 1189.17,1129.77 1190,1129.65 C1190.83,1129.52 1191.67,1129.71 1192.5,1130.03 C1193.33,1130.35 1194.17,1131.07 1195,1131.57 C1195.83,1132.08 1196.67,1132.76 1197.5,1133.05 C1198.33,1133.34 1199.17,1133.46 1200,1133.29 C1200.83,1133.11 1201.67,1132.56 1202.5,1132.01 C1203.33,1131.46 1204.17,1130.56 1205,1129.99 C1205.83,1129.42 1206.67,1128.79 1207.5,1128.6 C1208.33,1128.4 1209.17,1128.5 1210,1128.81 C1210.83,1129.12 1211.67,1129.87 1212.5,1130.46 C1213.33,1131.06 1214.17,1131.91 1215,1132.37 C1215.83,1132.83 1216.67,1133.19 1217.5,1133.2 C1218.33,1133.21 1219.17,1132.85 1220,1132.43 C1220.83,1132.01 1221.67,1131.2 1222.5,1130.67 C1223.33,1130.13 1224.17,1129.47 1225,1129.22 C1225.83,1128.98 1226.67,1128.95 1227.5,1129.19 C1228.33,1129.43 1229.17,1130.12 1230,1130.68 C1230.83,1131.23 1231.67,1132.02 1232.5,1132.54 C1233.33,1133.07 1234.17,1133.62 1235,1133.83 C1235.83,1134.05 1236.67,1134.05 1237.5,1133.85 C1238.33,1133.65 1239.17,1133.12 1240,1132.64 C1240.83,1132.16 1241.67,1131.43 1242.5,1130.96 C1243.33,1130.49 1244.17,1129.99 1245,1129.84 C1245.83,1129.7 1246.67,1129.77 1247.5,1130.1 C1248.33,1130.43 1249.17,1131.2 1250,1131.82 C1250.83,1132.44 1251.67,1133.34 1252.5,1133.82 C1253.33,1134.3 1254.17,1134.66 1255,1134.71 C1255.83,1134.76 1256.67,1134.43 1257.5,1134.13 C1258.33,1133.84 1259.17,1133.36 1260,1132.93 C1260.83,1132.51 1261.67,1131.97 1262.5,1131.59 C1263.33,1131.2 1264.17,1130.83 1265,1130.65 C1265.83,1130.47 1266.67,1130.41 1267.5,1130.5 C1268.33,1130.59 1269.17,1130.88 1270,1131.21 C1270.83,1131.55 1271.67,1132.06 1272.5,1132.5 C1273.33,1132.94 1274.17,1133.47 1275,1133.85 C1275.83,1134.23 1276.67,1134.66 1277.5,1134.78 C1278.33,1134.9 1279.17,1134.8 1280,1134.58 C1280.83,1134.35 1281.67,1133.87 1282.5,1133.4 C1283.33,1132.94 1284.17,1132.29 1285,1131.78 C1285.83,1131.27 1286.67,1130.68 1287.5,1130.34 C1288.33,1130 1289.17,1129.75 1290,1129.71 C1290.83,1129.68 1291.67,1129.85 1292.5,1130.13 C1293.33,1130.4 1294.17,1130.91 1295,1131.36 C1295.83,1131.81 1296.67,1132.41 1297.5,1132.83 C1298.33,1133.25 1299.17,1133.71 1300,1133.87 C1300.83,1134.03 1301.67,1134.09 1302.5,1133.79 C1303.33,1133.49 1304.17,1132.7 1305,1132.08 C1305.83,1131.46 1306.67,1130.52 1307.5,1130.06 C1308.33,1129.59 1309.17,1129.24 1310,1129.28 C1310.83,1129.33 1311.67,1129.83 1312.5,1130.35 C1313.33,1130.86 1314.17,1131.81 1315,1132.38 C1315.83,1132.94 1316.67,1133.58 1317.5,1133.74 C1318.33,1133.89 1319.17,1133.71 1320,1133.32 C1320.83,1132.93 1321.67,1132.04 1322.5,1131.4 C1323.33,1130.75 1324.17,1129.84 1325,1129.42 C1325.83,1129 1326.67,1128.76 1327.5,1128.87 C1328.33,1128.98 1329.17,1129.56 1330,1130.07 C1330.83,1130.58 1331.67,1131.48 1332.5,1131.94 C1333.33,1132.39 1334.17,1132.73 1335,1132.78 C1335.83,1132.84 1336.67,1132.64 1337.5,1132.27 C1338.33,1131.9 1339.17,1131.19 1340,1130.56 C1340.83,1129.93 1341.67,1129.06 1342.5,1128.49 C1343.33,1127.92 1344.17,1127.36 1345,1127.13 C1345.83,1126.9 1346.67,1126.92 1347.5,1127.12 C1348.33,1127.31 1349.17,1127.85 1350,1128.31 C1350.83,1128.78 1351.67,1129.47 1352.5,1129.89 C1353.33,1130.3 1354.17,1130.75 1355,1130.8 C1355.83,1130.84 1356.67,1130.49 1357.5,1130.17 C1358.33,1129.85 1359.17,1129.34 1360,1128.86 C1360.83,1128.39 1361.67,1127.72 1362.5,1127.31 C1363.33,1126.9 1364.17,1126.5 1365,1126.38 C1365.83,1126.26 1366.67,1126.36 1367.5,1126.6 C1368.33,1126.85 1369.17,1127.38 1370,1127.86 C1370.83,1128.33 1371.67,1129 1372.5,1129.44 C1373.33,1129.87 1374.17,1130.3 1375,1130.45 C1375.83,1130.6 1376.67,1130.55 1377.5,1130.34 C1378.33,1130.12 1379.17,1129.62 1380,1129.17 C1380.83,1128.72 1381.67,1128.06 1382.5,1127.64 C1383.33,1127.21 1384.37,1126.48 1385,1126.63 C1385.63,1126.77 1385.3,1128.44 1386.3,1128.5 C1387.3,1128.56 1390.22,1127.25 1391,1127" stroke="#0000ff" stroke-dasharray="22.2 9.6" stroke-linecap="butt"/>
</g>
<rect x="136.6" y="692.1" width="1313.7" height="463.5" fill="none" stroke="#000" stroke-width="1.25"/>
<line x1="129.2" y1="1136.4" x2="136.6" y2="1136.4" stroke="#000" stroke-width="1.25" />
<line x1="129.2" y1="1073.25" x2="136.6" y2="1073.25" stroke="#000" stroke-width="1.25" />
<line x1="129.2" y1="1010.1" x2="136.6" y2="1010.1" stroke="#000" stroke-width="1.25" />
<line x1="129.2" y1="946.95" x2="136.6" y2="946.95" stroke="#000" stroke-width="1.25" />
<line x1="129.2" y1="883.8" x2="136.6" y2="883.8" stroke="#000" stroke-width="1.25" />
<line x1="129.2" y1="820.65" x2="136.6" y2="820.65" stroke="#000" stroke-width="1.25" />
<line x1="129.2" y1="757.5" x2="136.6" y2="757.5" stroke="#000" stroke-width="1.25" />
<line x1="129.2" y1="694.35" x2="136.6" y2="694.35" stroke="#000" stroke-width="1.25" />
<text x="101.55" y="1151.70" textLength="17.80" lengthAdjust="spacingAndGlyphs" style="font-family:'Liberation Sans';font-size:31.80px;" fill="#000" >0</text>
<text x="88.04" y="1025.40" textLength="37.37" lengthAdjust="spacingAndGlyphs" style="font-family:'Liberation Sans';font-size:31.80px;" fill="#000" >10</text>
<text x="88.95" y="899.10" textLength="36.43" lengthAdjust="spacingAndGlyphs" style="font-family:'Liberation Sans';font-size:31.80px;" fill="#000" >20</text>
<text x="89.37" y="772.80" textLength="36.00" lengthAdjust="spacingAndGlyphs" style="font-family:'Liberation Sans';font-size:31.80px;" fill="#000" >30</text>
<line x1="259.5" y1="1155.6" x2="259.5" y2="1163.1" stroke="#000" stroke-width="1.25" />
<text x="253.06" y="1200.60" textLength="17.68" lengthAdjust="spacingAndGlyphs" style="font-family:'Liberation Sans';font-size:31.80px;" fill="#000" >0</text>
<line x1="435.4" y1="1155.6" x2="435.4" y2="1163.1" stroke="#000" stroke-width="1.25" />
<text x="414.92" y="1200.60" textLength="55.89" lengthAdjust="spacingAndGlyphs" style="font-family:'Liberation Sans';font-size:31.80px;" fill="#000" >250</text>
<line x1="611.3" y1="1155.6" x2="611.3" y2="1163.1" stroke="#000" stroke-width="1.25" />
<text x="590.85" y="1200.60" textLength="56.37" lengthAdjust="spacingAndGlyphs" style="font-family:'Liberation Sans';font-size:31.80px;" fill="#000" >500</text>
<line x1="787.1" y1="1155.6" x2="787.1" y2="1163.1" stroke="#000" stroke-width="1.25" />
<text x="768.01" y="1200.60" textLength="55.08" lengthAdjust="spacingAndGlyphs" style="font-family:'Liberation Sans';font-size:31.80px;" fill="#000" >750</text>
<line x1="963" y1="1155.6" x2="963" y2="1163.1" stroke="#000" stroke-width="1.25" />
<text x="935.35" y="1200.60" textLength="74.46" lengthAdjust="spacingAndGlyphs" style="font-family:'Liberation Sans';font-size:31.80px;" fill="#000" >1000</text>
<line x1="1138.9" y1="1155.6" x2="1138.9" y2="1163.1" stroke="#000" stroke-width="1.25" />
<text x="1112.05" y="1200.60" textLength="74.35" lengthAdjust="spacingAndGlyphs" style="font-family:'Liberation Sans';font-size:31.80px;" fill="#000" >1250</text>
<line x1="1314.8" y1="1155.6" x2="1314.8" y2="1163.1" stroke="#000" stroke-width="1.25" />
<text x="1286.21" y="1200.60" textLength="75.72" lengthAdjust="spacingAndGlyphs" style="font-family:'Liberation Sans';font-size:31.80px;" fill="#000" >1500</text>
<line x1="259.6" y1="692.1" x2="259.6" y2="684.6" stroke="#000" stroke-width="1.25" />
<text x="252.79" y="677.30" textLength="18.61" lengthAdjust="spacingAndGlyphs" style="font-family:'Liberation Sans';font-size:29.00px;" fill="#000" >0</text>
<line x1="480.6" y1="692.1" x2="480.6" y2="684.6" stroke="#000" stroke-width="1.25" />
<text x="474.55" y="677.30" textLength="17.36" lengthAdjust="spacingAndGlyphs" style="font-family:'Liberation Sans';font-size:29.00px;" fill="#000" >5</text>
<line x1="701.6" y1="692.1" x2="701.6" y2="684.6" stroke="#000" stroke-width="1.25" />
<text x="687.26" y="677.30" textLength="37.04" lengthAdjust="spacingAndGlyphs" style="font-family:'Liberation Sans';font-size:29.00px;" fill="#000" >10</text>
<line x1="922.6" y1="692.1" x2="922.6" y2="684.6" stroke="#000" stroke-width="1.25" />
<text x="908.26" y="677.30" textLength="38.60" lengthAdjust="spacingAndGlyphs" style="font-family:'Liberation Sans';font-size:29.00px;" fill="#000" >15</text>
<line x1="1143.6" y1="692.1" x2="1143.6" y2="684.6" stroke="#000" stroke-width="1.25" />
<text x="1130.09" y="677.30" textLength="37.84" lengthAdjust="spacingAndGlyphs" style="font-family:'Liberation Sans';font-size:29.00px;" fill="#000" >20</text>
<line x1="1364.6" y1="692.1" x2="1364.6" y2="684.6" stroke="#000" stroke-width="1.25" />
<text x="1351.32" y="677.30" textLength="37.19" lengthAdjust="spacingAndGlyphs" style="font-family:'Liberation Sans';font-size:29.00px;" fill="#000" >25</text>
<text x="-1.88" y="671.39" textLength="35.25" lengthAdjust="spacingAndGlyphs" style="font-family:'Liberation Sans';font-size:62.23px;" fill="#000" >b</text>
<g transform="translate(50.7,0) rotate(-90)"><text x="-1116.42" y="0.00" textLength="105.57" lengthAdjust="spacingAndGlyphs" style="font-family:'Liberation Sans';font-size:32.41px;" fill="#000" >Output</text><text x="-1000.87" y="0.00" textLength="131.02" lengthAdjust="spacingAndGlyphs" style="font-family:'Liberation Sans';font-size:32.41px;" fill="#000" >Strength</text><text x="-859.19" y="0.00" textLength="72.87" lengthAdjust="spacingAndGlyphs" style="font-family:'Liberation Sans';font-size:32.41px;" fill="#000" >(mV)</text></g>
<defs><clipPath id="cc"><rect x="136.6" y="1295.5" width="1313.7" height="463.5999999999999"/></clipPath></defs>
<g clip-path="url(#cc)" fill="none" stroke-width="6.0" stroke-linejoin="round">
<path d="M193.8,1734 C194.83,1734.42 197.8,1736.42 200,1736.5 C202.2,1736.58 204.5,1734.5 207,1734.5 C209.5,1734.5 212.33,1736.33 215,1736.5 C217.67,1736.67 220.17,1735.5 223,1735.5 C225.83,1735.5 229.17,1736.75 232,1736.5 C234.83,1736.25 237.5,1735.08 240,1734 C242.5,1732.92 245,1731.08 247,1730 C249,1728.92 250.5,1727 252,1727.5 C253.5,1728 255.08,1735.92 256,1733 C256.92,1730.08 256.83,1730.5 257.5,1710 C258.17,1689.5 259.17,1643.33 260,1610 C260.83,1576.67 261.45,1536.83 262.5,1510 C263.55,1483.17 265.13,1453.17 266.3,1449 C267.47,1444.83 268.38,1469.83 269.5,1485 C270.62,1500.17 271.87,1544.17 273,1540 C274.13,1535.83 275.33,1490 276.3,1460 C277.27,1430 278.1,1383.5 278.8,1360 C279.5,1336.5 279.88,1319 280.5,1319 C281.12,1319 281.75,1332.33 282.5,1360 C283.25,1387.67 284.08,1444.67 285,1485 C285.92,1525.33 286.95,1591.58 288,1602 C289.05,1612.42 290.42,1562.5 291.3,1547.5 C292.18,1532.5 292.6,1512 293.3,1512 C294,1512 294.72,1536 295.5,1547.5 C296.28,1559 297.03,1587.25 298,1581 C298.97,1574.75 300.25,1530.5 301.3,1510 C302.35,1489.5 303.27,1458 304.3,1458 C305.33,1458 306.55,1488.83 307.5,1510 C308.45,1531.17 309.17,1566.33 310,1585 C310.83,1603.67 311.58,1630.33 312.5,1622 C313.42,1613.67 314.58,1564.08 315.5,1535 C316.42,1505.92 317.12,1466.67 318,1447.5 C318.88,1428.33 319.83,1420 320.8,1420 C321.77,1420 322.68,1432.5 323.8,1447.5 C324.92,1462.5 326.25,1494.42 327.5,1510 C328.75,1525.58 330.05,1537.17 331.3,1541 C332.55,1544.83 333.88,1533.61 335,1533 C336.12,1532.39 337.08,1536.75 338,1537.35 C338.92,1537.96 339.67,1536.98 340.5,1536.63 C341.33,1536.29 342.17,1535.93 343,1535.3 C343.83,1534.67 344.67,1533.38 345.5,1532.87 C346.33,1532.37 347.17,1532.02 348,1532.28 C348.83,1532.53 349.67,1533.47 350.5,1534.39 C351.33,1535.31 352.17,1536.86 353,1537.82 C353.83,1538.77 354.67,1539.8 355.5,1540.14 C356.33,1540.47 357.17,1540.27 358,1539.82 C358.83,1539.37 359.67,1538.2 360.5,1537.42 C361.33,1536.65 362.17,1535.55 363,1535.17 C363.83,1534.8 364.67,1534.74 365.5,1535.18 C366.33,1535.61 367.17,1536.77 368,1537.78 C368.83,1538.8 369.67,1540.37 370.5,1541.28 C371.33,1542.2 372.17,1543.06 373,1543.27 C373.83,1543.48 374.67,1543.08 375.5,1542.54 C376.33,1542 377.17,1540.77 378,1540.02 C378.83,1539.27 379.67,1538.3 380.5,1538.06 C381.33,1537.81 382.17,1537.98 383,1538.55 C383.83,1539.11 384.67,1540.41 385.5,1541.45 C386.33,1542.49 387.17,1544 388,1544.8 C388.83,1545.61 389.67,1546.25 390.5,1546.29 C391.33,1546.33 392.17,1545.71 393,1545.06 C393.83,1544.41 394.67,1543.12 395.5,1542.4 C396.33,1541.68 397.17,1540.85 398,1540.73 C398.83,1540.61 399.67,1540.99 400.5,1541.67 C401.33,1542.35 402.17,1543.75 403,1544.8 C403.83,1545.85 404.67,1547.27 405.5,1547.96 C406.33,1548.66 407.17,1549.07 408,1548.98 C408.83,1548.88 409.67,1548.08 410.5,1547.38 C411.33,1546.67 412.17,1545.4 413,1544.76 C413.83,1544.13 414.67,1543.5 415.5,1543.55 C416.33,1543.6 417.17,1544.24 418,1545.06 C418.83,1545.88 419.67,1547.41 420.5,1548.47 C421.33,1549.54 422.17,1550.95 423,1551.46 C423.83,1551.98 424.67,1551.81 425.5,1551.56 C426.33,1551.32 427.17,1550.61 428,1550 C428.83,1549.39 429.67,1548.35 430.5,1547.89 C431.33,1547.43 432.17,1547.07 433,1547.23 C433.83,1547.39 434.67,1548.1 435.5,1548.85 C436.33,1549.6 437.17,1550.91 438,1551.75 C438.83,1552.6 439.67,1553.56 440.5,1553.92 C441.33,1554.28 442.17,1554.23 443,1553.91 C443.83,1553.58 444.67,1552.64 445.5,1551.98 C446.33,1551.31 447.17,1550.28 448,1549.93 C448.83,1549.58 449.67,1549.73 450.5,1549.88 C451.33,1550.04 452.17,1550.34 453,1550.87 C453.83,1551.4 454.67,1552.43 455.5,1553.06 C456.33,1553.7 457.17,1554.2 458,1554.68 C458.83,1555.17 459.67,1555.66 460.5,1555.98 C461.33,1556.3 462.17,1556.51 463,1556.59 C463.83,1556.67 464.67,1556.58 465.5,1556.46 C466.33,1556.34 467.17,1556.07 468,1555.88 C468.83,1555.69 469.67,1555.42 470.5,1555.32 C471.33,1555.21 472.17,1555.13 473,1555.23 C473.83,1555.33 474.67,1555.59 475.5,1555.91 C476.33,1556.24 477.17,1556.76 478,1557.2 C478.83,1557.65 479.67,1558.2 480.5,1558.58 C481.33,1558.96 482.17,1559.32 483,1559.47 C483.83,1559.62 484.67,1559.62 485.5,1559.49 C486.33,1559.35 487.17,1559.01 488,1558.66 C488.83,1558.31 489.67,1557.79 490.5,1557.39 C491.33,1556.99 492.17,1556.54 493,1556.27 C493.83,1556 494.67,1555.82 495.5,1555.78 C496.33,1555.75 497.17,1555.89 498,1556.06 C498.83,1556.24 499.67,1556.55 500.5,1556.84 C501.33,1557.13 502.17,1557.66 503,1557.8 C503.83,1557.93 504.67,1557.91 505.5,1557.65 C506.33,1557.38 507.17,1556.78 508,1556.22 C508.83,1555.66 509.67,1555.04 510.5,1554.3 C511.33,1553.55 512.17,1551.95 513,1551.75 C513.83,1551.56 514.67,1552.44 515.5,1553.15 C516.33,1553.86 517.17,1555.28 518,1556.02 C518.83,1556.76 519.67,1557.54 520.5,1557.59 C521.33,1557.64 522.17,1557.04 523,1556.32 C523.83,1555.61 524.67,1554.14 525.5,1553.3 C526.33,1552.45 527.17,1551.44 528,1551.24 C528.83,1551.04 529.67,1551.42 530.5,1552.08 C531.33,1552.74 532.17,1554.21 533,1555.19 C533.83,1556.16 534.67,1557.46 535.5,1557.95 C536.33,1558.43 537.17,1558.47 538,1558.1 C538.83,1557.73 539.67,1556.42 540.5,1555.72 C541.33,1555.03 542.17,1554.24 543,1553.94 C543.83,1553.64 544.67,1553.59 545.5,1553.92 C546.33,1554.25 547.17,1555.18 548,1555.91 C548.83,1556.64 549.67,1557.78 550.5,1558.3 C551.33,1558.82 552.17,1559.18 553,1559.06 C553.83,1558.93 554.67,1558.11 555.5,1557.55 C556.33,1556.99 557.17,1556.26 558,1555.69 C558.83,1555.12 559.67,1554.49 560.5,1554.14 C561.33,1553.79 562.17,1553.6 563,1553.58 C563.83,1553.56 564.67,1553.76 565.5,1554.01 C566.33,1554.27 567.17,1554.75 568,1555.12 C568.83,1555.49 569.67,1555.98 570.5,1556.25 C571.33,1556.52 572.17,1556.75 573,1556.74 C573.83,1556.73 574.67,1556.59 575.5,1556.2 C576.33,1555.82 577.17,1555.04 578,1554.45 C578.83,1553.86 579.67,1553.12 580.5,1552.68 C581.33,1552.24 582.17,1551.97 583,1551.8 C583.83,1551.62 584.67,1551.56 585.5,1551.63 C586.33,1551.71 587.17,1551.95 588,1552.24 C588.83,1552.53 589.67,1552.98 590.5,1553.37 C591.33,1553.76 592.17,1554.24 593,1554.59 C593.83,1554.94 594.67,1555.31 595.5,1555.48 C596.33,1555.65 597.17,1555.68 598,1555.59 C598.83,1555.5 599.67,1555.13 600.5,1554.93 C601.33,1554.74 602.17,1554.44 603,1554.44 C603.83,1554.43 604.67,1554.65 605.5,1554.93 C606.33,1555.21 607.17,1555.52 608,1556.12 C608.83,1556.73 609.67,1557.81 610.5,1558.56 C611.33,1559.3 612.17,1560.09 613,1560.6 C613.83,1561.11 614.67,1561.49 615.5,1561.64 C616.33,1561.8 617.17,1561.7 618,1561.55 C618.83,1561.4 619.67,1561.2 620.5,1560.75 C621.33,1560.31 622.17,1559.4 623,1558.9 C623.83,1558.39 624.67,1557.89 625.5,1557.74 C626.33,1557.59 627.17,1557.63 628,1557.99 C628.83,1558.36 629.67,1559.13 630.5,1559.94 C631.33,1560.74 632.17,1562 633,1562.83 C633.83,1563.66 634.67,1564.39 635.5,1564.94 C636.33,1565.49 637.17,1565.93 638,1566.11 C638.83,1566.29 639.67,1566.21 640.5,1566.01 C641.33,1565.81 642.17,1565.32 643,1564.92 C643.83,1564.52 644.67,1563.94 645.5,1563.62 C646.33,1563.3 647.17,1563 648,1562.99 C648.83,1562.98 649.67,1563.19 650.5,1563.57 C651.33,1563.95 652.17,1564.63 653,1565.27 C653.83,1565.92 654.67,1566.8 655.5,1567.45 C656.33,1568.11 657.17,1568.81 658,1569.2 C658.83,1569.6 659.67,1569.94 660.5,1569.81 C661.33,1569.68 662.17,1569.05 663,1568.44 C663.83,1567.82 664.67,1566.65 665.5,1566.11 C666.33,1565.58 667.17,1565.13 668,1565.24 C668.83,1565.35 669.67,1566.09 670.5,1566.77 C671.33,1567.45 672.17,1568.7 673,1569.33 C673.83,1569.95 674.67,1570.44 675.5,1570.5 C676.33,1570.57 677.17,1570.16 678,1569.74 C678.83,1569.32 679.67,1568.57 680.5,1567.97 C681.33,1567.36 682.17,1566.59 683,1566.13 C683.83,1565.67 684.67,1565.28 685.5,1565.21 C686.33,1565.13 687.17,1565.33 688,1565.68 C688.83,1566.02 689.67,1566.72 690.5,1567.27 C691.33,1567.83 692.17,1568.55 693,1569 C693.83,1569.46 694.67,1569.88 695.5,1570.01 C696.33,1570.15 697.17,1570.06 698,1569.81 C698.83,1569.56 699.67,1569.01 700.5,1568.52 C701.33,1568.04 702.17,1567.35 703,1566.9 C703.83,1566.44 704.67,1565.89 705.5,1565.79 C706.33,1565.69 707.17,1565.91 708,1566.3 C708.83,1566.69 709.67,1567.47 710.5,1568.15 C711.33,1568.84 712.17,1569.87 713,1570.42 C713.83,1570.96 714.67,1571.32 715.5,1571.43 C716.33,1571.54 717.17,1571.34 718,1571.06 C718.83,1570.78 719.67,1570.15 720.5,1569.74 C721.33,1569.34 722.17,1568.95 723,1568.63 C723.83,1568.3 724.67,1567.86 725.5,1567.77 C726.33,1567.69 727.17,1567.64 728,1568.11 C728.83,1568.58 729.67,1569.76 730.5,1570.58 C731.33,1571.4 732.17,1572.57 733,1573.04 C733.83,1573.5 734.67,1573.61 735.5,1573.37 C736.33,1573.13 737.17,1572.18 738,1571.58 C738.83,1570.98 739.67,1570.04 740.5,1569.79 C741.33,1569.54 742.17,1569.65 743,1570.09 C743.83,1570.54 744.67,1571.76 745.5,1572.46 C746.33,1573.16 747.17,1573.84 748,1574.29 C748.83,1574.73 749.67,1575.13 750.5,1575.16 C751.33,1575.19 752.17,1574.93 753,1574.48 C753.83,1574.04 754.67,1573.15 755.5,1572.49 C756.33,1571.83 757.17,1570.96 758,1570.51 C758.83,1570.06 759.67,1569.77 760.5,1569.8 C761.33,1569.84 762.17,1570.35 763,1570.71 C763.83,1571.07 764.67,1571.56 765.5,1571.95 C766.33,1572.33 767.17,1572.78 768,1573.02 C768.83,1573.26 769.67,1573.41 770.5,1573.36 C771.33,1573.31 772.17,1573.06 773,1572.71 C773.83,1572.35 774.67,1571.77 775.5,1571.23 C776.33,1570.69 777.17,1569.98 778,1569.45 C778.83,1568.93 779.67,1568.37 780.5,1568.06 C781.33,1567.75 782.17,1567.56 783,1567.6 C783.83,1567.63 784.67,1567.89 785.5,1568.25 C786.33,1568.61 787.17,1569.21 788,1569.77 C788.83,1570.32 789.67,1571.12 790.5,1571.58 C791.33,1572.04 792.17,1572.29 793,1572.54 C793.83,1572.79 794.67,1573.03 795.5,1573.09 C796.33,1573.16 797.17,1573.06 798,1572.93 C798.83,1572.8 799.67,1572.52 800.5,1572.32 C801.33,1572.12 802.17,1571.84 803,1571.73 C803.83,1571.61 804.67,1571.54 805.5,1571.64 C806.33,1571.74 807.17,1571.98 808,1572.34 C808.83,1572.7 809.67,1573.24 810.5,1573.79 C811.33,1574.34 812.17,1575.05 813,1575.64 C813.83,1576.23 814.67,1576.88 815.5,1577.35 C816.33,1577.82 817.17,1578.23 818,1578.45 C818.83,1578.67 819.67,1578.75 820.5,1578.68 C821.33,1578.61 822.17,1578.31 823,1578.03 C823.83,1577.76 824.67,1577.31 825.5,1577.02 C826.33,1576.73 827.17,1576.41 828,1576.31 C828.83,1576.21 829.67,1576.23 830.5,1576.41 C831.33,1576.59 832.17,1576.98 833,1577.38 C833.83,1577.79 834.67,1578.39 835.5,1578.85 C836.33,1579.31 837.17,1579.84 838,1580.15 C838.83,1580.46 839.67,1580.68 840.5,1580.7 C841.33,1580.73 842.17,1580.55 843,1580.29 C843.83,1580.03 844.67,1579.55 845.5,1579.15 C846.33,1578.76 847.17,1578.24 848,1577.9 C848.83,1577.57 849.67,1577.09 850.5,1577.14 C851.33,1577.18 852.17,1577.67 853,1578.16 C853.83,1578.65 854.67,1579.58 855.5,1580.07 C856.33,1580.56 857.17,1581.01 858,1581.13 C858.83,1581.25 859.67,1581.03 860.5,1580.79 C861.33,1580.56 862.17,1580.09 863,1579.71 C863.83,1579.32 864.67,1578.8 865.5,1578.48 C866.33,1578.16 867.17,1577.85 868,1577.79 C868.83,1577.72 869.67,1577.82 870.5,1578.08 C871.33,1578.33 872.17,1578.82 873,1579.3 C873.83,1579.79 874.67,1580.46 875.5,1580.98 C876.33,1581.5 877.17,1582.07 878,1582.42 C878.83,1582.77 879.67,1583 880.5,1583.09 C881.33,1583.17 882.17,1583.09 883,1582.95 C883.83,1582.81 884.67,1582.49 885.5,1582.25 C886.33,1582 887.17,1581.66 888,1581.49 C888.83,1581.32 889.67,1581.17 890.5,1581.21 C891.33,1581.25 892.17,1581.54 893,1581.72 C893.83,1581.9 894.67,1581.75 895.5,1582.28 C896.33,1582.81 897.17,1584.07 898,1584.89 C898.83,1585.71 899.67,1586.63 900.5,1587.21 C901.33,1587.79 902.17,1588.24 903,1588.37 C903.83,1588.5 904.67,1588.33 905.5,1588 C906.33,1587.68 906.58,1588.57 908,1586.4 C909.42,1584.23 912.58,1574.85 914,1575 C915.42,1575.15 915.75,1579.47 916.5,1587.3 C917.25,1595.13 917.82,1617.22 918.5,1622 C919.18,1626.78 919.73,1627.27 920.6,1616 C921.47,1604.73 922.57,1569.9 923.7,1554.4 C924.83,1538.9 926.28,1521.28 927.4,1523 C928.52,1524.72 929.48,1552.37 930.4,1564.7 C931.32,1577.03 931.97,1602.13 932.9,1597 C933.83,1591.87 934.9,1554.73 936,1533.9 C937.1,1513.07 938.47,1475.43 939.5,1472 C940.53,1468.57 941.42,1494.42 942.2,1513.3 C942.98,1532.18 943.52,1566.35 944.2,1585.3 C944.88,1604.25 945.43,1635.57 946.3,1627 C947.17,1618.43 948.48,1563.12 949.4,1533.9 C950.32,1504.68 951.05,1471.77 951.8,1451.7 C952.55,1431.63 953.1,1416.93 953.9,1413.5 C954.7,1410.07 955.65,1422.52 956.6,1431.1 C957.55,1439.68 958.4,1461.35 959.6,1465 C960.8,1468.65 962.6,1450.08 963.8,1453 C965,1455.92 965.78,1465.6 966.8,1482.5 C967.82,1499.4 968.97,1530.15 969.9,1554.4 C970.83,1578.65 971.37,1621.15 972.4,1628 C973.43,1634.85 974.8,1604.25 976.1,1595.5 C977.4,1586.75 979,1573.78 980.2,1575.5 C981.4,1577.22 982.27,1588.75 983.3,1605.8 C984.33,1622.85 985.2,1659.3 986.4,1677.8 C987.6,1696.3 989.13,1709.27 990.5,1716.8 C991.87,1724.33 992.72,1722.8 994.6,1723 C996.48,1723.2 999.75,1717.25 1001.8,1718 C1003.85,1718.75 1004.67,1725.33 1006.9,1727.5 C1009.13,1729.67 1012.12,1730.58 1015.2,1731 C1018.28,1731.42 1021.98,1729.83 1025.4,1730 C1028.82,1730.17 1031.92,1731.83 1035.7,1732 C1039.48,1732.17 1044.05,1730.92 1048.1,1731 C1052.15,1731.08 1057.68,1732.28 1060,1732.5 C1062.32,1732.72 1061.25,1732.52 1062,1732.3 C1062.75,1732.07 1063.67,1731.57 1064.5,1731.16 C1065.33,1730.75 1066.17,1730.18 1067,1729.82 C1067.83,1729.46 1068.67,1729.14 1069.5,1729 C1070.33,1728.87 1071.17,1728.84 1072,1729.01 C1072.83,1729.18 1073.67,1729.61 1074.5,1730.02 C1075.33,1730.43 1076.17,1731.06 1077,1731.45 C1077.83,1731.84 1078.67,1732.24 1079.5,1732.36 C1080.33,1732.48 1081.17,1732.39 1082,1732.17 C1082.83,1731.96 1083.67,1731.46 1084.5,1731.06 C1085.33,1730.66 1086.17,1730.08 1087,1729.76 C1087.83,1729.43 1088.67,1729.17 1089.5,1729.13 C1090.33,1729.09 1091.17,1729.26 1092,1729.5 C1092.83,1729.75 1093.67,1730.08 1094.5,1730.59 C1095.33,1731.09 1096.17,1732.01 1097,1732.54 C1097.83,1733.06 1098.67,1733.6 1099.5,1733.74 C1100.33,1733.89 1101.17,1733.69 1102,1733.39 C1102.83,1733.08 1103.67,1732.34 1104.5,1731.91 C1105.33,1731.48 1106.17,1731.01 1107,1730.8 C1107.83,1730.59 1108.67,1730.54 1109.5,1730.65 C1110.33,1730.75 1111.17,1731.07 1112,1731.44 C1112.83,1731.81 1113.67,1732.38 1114.5,1732.85 C1115.33,1733.33 1116.17,1733.9 1117,1734.27 C1117.83,1734.63 1118.67,1734.94 1119.5,1735.04 C1120.33,1735.13 1121.17,1735.04 1122,1734.83 C1122.83,1734.63 1123.67,1734.19 1124.5,1733.79 C1125.33,1733.4 1126.17,1732.86 1127,1732.46 C1127.83,1732.07 1128.67,1731.55 1129.5,1731.43 C1130.33,1731.3 1131.17,1731.42 1132,1731.7 C1132.83,1731.98 1133.67,1732.68 1134.5,1733.11 C1135.33,1733.54 1136.17,1734.01 1137,1734.28 C1137.83,1734.55 1138.67,1734.72 1139.5,1734.74 C1140.33,1734.76 1141.17,1734.58 1142,1734.38 C1142.83,1734.18 1143.67,1733.83 1144.5,1733.54 C1145.33,1733.25 1146.17,1732.88 1147,1732.66 C1147.83,1732.43 1148.67,1732.24 1149.5,1732.2 C1150.33,1732.15 1151.17,1732.24 1152,1732.41 C1152.83,1732.58 1153.67,1732.91 1154.5,1733.21 C1155.33,1733.51 1156.17,1733.87 1157,1734.22 C1157.83,1734.57 1158.67,1735.11 1159.5,1735.31 C1160.33,1735.51 1161.17,1735.53 1162,1735.41 C1162.83,1735.3 1163.67,1734.98 1164.5,1734.64 C1165.33,1734.3 1166.17,1733.8 1167,1733.38 C1167.83,1732.95 1168.67,1732.39 1169.5,1732.1 C1170.33,1731.8 1171.17,1731.6 1172,1731.6 C1172.83,1731.6 1173.67,1731.81 1174.5,1732.1 C1175.33,1732.39 1176.17,1732.92 1177,1733.34 C1177.83,1733.77 1178.67,1734.29 1179.5,1734.64 C1180.33,1734.98 1181.17,1735.3 1182,1735.41 C1182.83,1735.52 1183.67,1735.47 1184.5,1735.3 C1185.33,1735.13 1186.17,1734.75 1187,1734.4 C1187.83,1734.04 1188.67,1733.53 1189.5,1733.19 C1190.33,1732.84 1191.17,1732.47 1192,1732.32 C1192.83,1732.17 1193.67,1732.16 1194.5,1732.27 C1195.33,1732.39 1196.17,1732.69 1197,1733.02 C1197.83,1733.35 1198.67,1733.92 1199.5,1734.23 C1200.33,1734.54 1201.17,1734.7 1202,1734.87 C1202.83,1735.04 1203.67,1735.19 1204.5,1735.24 C1205.33,1735.29 1206.17,1735.27 1207,1735.19 C1207.83,1735.11 1208.67,1734.98 1209.5,1734.75 C1210.33,1734.52 1211.17,1734.07 1212,1733.82 C1212.83,1733.58 1213.67,1733.32 1214.5,1733.28 C1215.33,1733.24 1216.17,1733.38 1217,1733.57 C1217.83,1733.77 1218.67,1734.18 1219.5,1734.43 C1220.33,1734.68 1221.17,1734.99 1222,1735.08 C1222.83,1735.16 1223.67,1735.1 1224.5,1734.94 C1225.33,1734.79 1226.17,1734.48 1227,1734.16 C1227.83,1733.83 1228.67,1733.36 1229.5,1733 C1230.33,1732.64 1231.17,1732.06 1232,1732.02 C1232.83,1731.97 1233.67,1732.34 1234.5,1732.72 C1235.33,1733.11 1236.17,1733.8 1237,1734.31 C1237.83,1734.83 1238.67,1735.49 1239.5,1735.83 C1240.33,1736.17 1241.17,1736.41 1242,1736.37 C1242.83,1736.33 1243.67,1735.99 1244.5,1735.6 C1245.33,1735.21 1246.17,1734.49 1247,1734.04 C1247.83,1733.6 1248.67,1733.17 1249.5,1732.92 C1250.33,1732.68 1251.17,1732.53 1252,1732.58 C1252.83,1732.63 1253.67,1732.88 1254.5,1733.22 C1255.33,1733.57 1256.17,1734.19 1257,1734.65 C1257.83,1735.1 1258.67,1735.71 1259.5,1735.95 C1260.33,1736.19 1261.17,1736.24 1262,1736.07 C1262.83,1735.91 1263.67,1735.4 1264.5,1734.94 C1265.33,1734.49 1266.17,1733.78 1267,1733.36 C1267.83,1732.94 1268.67,1732.52 1269.5,1732.43 C1270.33,1732.34 1271.17,1732.51 1272,1732.81 C1272.83,1733.1 1273.67,1733.75 1274.5,1734.2 C1275.33,1734.64 1276.17,1735.17 1277,1735.46 C1277.83,1735.76 1278.67,1735.98 1279.5,1735.98 C1280.33,1735.98 1281.17,1735.75 1282,1735.44 C1282.83,1735.13 1283.67,1734.57 1284.5,1734.11 C1285.33,1733.65 1286.17,1733.05 1287,1732.68 C1287.83,1732.31 1288.67,1731.98 1289.5,1731.9 C1290.33,1731.82 1291.17,1731.94 1292,1732.18 C1292.83,1732.43 1293.67,1732.93 1294.5,1733.37 C1295.33,1733.81 1296.17,1734.42 1297,1734.81 C1297.83,1735.21 1298.67,1735.57 1299.5,1735.73 C1300.33,1735.89 1301.17,1735.89 1302,1735.77 C1302.83,1735.64 1303.67,1735.31 1304.5,1734.95 C1305.33,1734.6 1306.17,1734.01 1307,1733.64 C1307.83,1733.26 1308.67,1732.84 1309.5,1732.69 C1310.33,1732.53 1311.17,1732.54 1312,1732.72 C1312.83,1732.91 1313.67,1733.36 1314.5,1733.79 C1315.33,1734.22 1316.17,1734.86 1317,1735.31 C1317.83,1735.75 1318.67,1736.23 1319.5,1736.44 C1320.33,1736.65 1321.17,1736.7 1322,1736.56 C1322.83,1736.42 1323.67,1736.01 1324.5,1735.6 C1325.33,1735.2 1326.17,1734.57 1327,1734.13 C1327.83,1733.7 1328.67,1733.21 1329.5,1733 C1330.33,1732.78 1331.17,1732.71 1332,1732.84 C1332.83,1732.96 1333.67,1733.35 1334.5,1733.74 C1335.33,1734.12 1336.17,1734.74 1337,1735.16 C1337.83,1735.58 1338.67,1736.05 1339.5,1736.27 C1340.33,1736.48 1341.17,1736.53 1342,1736.44 C1342.83,1736.34 1343.67,1736.03 1344.5,1735.7 C1345.33,1735.36 1346.17,1734.83 1347,1734.42 C1347.83,1734.01 1348.67,1733.53 1349.5,1733.26 C1350.33,1732.99 1351.17,1732.8 1352,1732.81 C1352.83,1732.82 1353.67,1733.02 1354.5,1733.31 C1355.33,1733.6 1356.17,1734.08 1357,1734.53 C1357.83,1734.98 1358.67,1735.64 1359.5,1736 C1360.33,1736.37 1361.17,1736.73 1362,1736.73 C1362.83,1736.73 1363.67,1736.38 1364.5,1736.01 C1365.33,1735.64 1366.17,1734.87 1367,1734.51 C1367.83,1734.15 1368.67,1733.93 1369.5,1733.86 C1370.33,1733.79 1371.17,1733.95 1372,1734.11 C1372.83,1734.26 1373.67,1734.55 1374.5,1734.78 C1375.33,1735.01 1376.17,1735.3 1377,1735.48 C1377.83,1735.66 1378.67,1735.82 1379.5,1735.85 C1380.33,1735.88 1381.17,1735.82 1382,1735.68 C1382.83,1735.55 1383,1735.08 1384.5,1735.05 C1386,1735.02 1389.92,1735.42 1391,1735.5" stroke="#bf00bf" stroke-linecap="square"/>
<path d="M193.8,1732.5 C194.42,1733.13 195.83,1737.05 197.5,1736.3 C199.17,1735.55 201.72,1728.42 203.8,1728 C205.88,1727.58 207.72,1732.42 210,1733.8 C212.28,1735.18 215.2,1736.3 217.5,1736.3 C219.8,1736.3 221.72,1733.68 223.8,1733.8 C225.88,1733.92 227.5,1737 230,1737 C232.5,1737 236.3,1734.55 238.8,1733.8 C241.3,1733.05 243.13,1733.55 245,1732.5 C246.87,1731.45 248.33,1726.67 250,1727.5 C251.67,1728.33 253.75,1740.42 255,1737.5 C256.25,1734.58 256.67,1731.25 257.5,1710 C258.33,1688.75 259.17,1643.33 260,1610 C260.83,1576.67 261.45,1536.83 262.5,1510 C263.55,1483.17 265.13,1453.17 266.3,1449 C267.47,1444.83 268.38,1469.42 269.5,1485 C270.62,1500.58 271.87,1546.67 273,1542.5 C274.13,1538.33 275.33,1490.42 276.3,1460 C277.27,1429.58 278.1,1383.5 278.8,1360 C279.5,1336.5 279.88,1319 280.5,1319 C281.12,1319 281.75,1332.33 282.5,1360 C283.25,1387.67 284.08,1444.17 285,1485 C285.92,1525.83 286.95,1594.58 288,1605 C289.05,1615.42 290.42,1563 291.3,1547.5 C292.18,1532 292.6,1512 293.3,1512 C294,1512 294.72,1535.53 295.5,1547.5 C296.28,1559.47 297.03,1590.05 298,1583.8 C298.97,1577.55 300.25,1530.97 301.3,1510 C302.35,1489.03 303.27,1458 304.3,1458 C305.33,1458 306.55,1488.83 307.5,1510 C308.45,1531.17 309.17,1565.83 310,1585 C310.83,1604.17 311.58,1633.33 312.5,1625 C313.42,1616.67 314.58,1564.58 315.5,1535 C316.42,1505.42 317.12,1466.67 318,1447.5 C318.88,1428.33 319.83,1420 320.8,1420 C321.77,1420 322.68,1432.5 323.8,1447.5 C324.92,1462.5 326.25,1493.95 327.5,1510 C328.75,1526.05 330.05,1539.22 331.3,1543.8 C332.55,1548.38 333.83,1537.1 335,1537.5 C336.17,1537.9 337.47,1545.53 338.3,1546.2 C339.13,1546.87 339.3,1542.5 340,1541.52 C340.7,1540.54 341.67,1540.51 342.5,1540.33 C343.33,1540.14 344.17,1540.19 345,1540.43 C345.83,1540.66 346.67,1541.18 347.5,1541.73 C348.33,1542.28 349.17,1543.07 350,1543.74 C350.83,1544.4 351.67,1545.22 352.5,1545.72 C353.33,1546.23 354.17,1546.84 355,1546.78 C355.83,1546.73 356.67,1545.75 357.5,1545.4 C358.33,1545.04 359.17,1544.95 360,1544.65 C360.83,1544.36 361.67,1543.93 362.5,1543.63 C363.33,1543.33 364.17,1542.99 365,1542.85 C365.83,1542.7 366.67,1542.64 367.5,1542.75 C368.33,1542.86 369.17,1543.14 370,1543.52 C370.83,1543.89 371.67,1544.42 372.5,1544.98 C373.33,1545.55 374.17,1546.37 375,1546.92 C375.83,1547.47 376.67,1547.98 377.5,1548.29 C378.33,1548.61 379.17,1548.79 380,1548.8 C380.83,1548.82 381.67,1548.62 382.5,1548.38 C383.33,1548.14 384.17,1547.7 385,1547.35 C385.83,1547.01 386.67,1546.56 387.5,1546.31 C388.33,1546.05 389.17,1545.84 390,1545.84 C390.83,1545.85 391.67,1546.02 392.5,1546.32 C393.33,1546.63 394.17,1547.16 395,1547.69 C395.83,1548.22 396.67,1548.87 397.5,1549.5 C398.33,1550.12 399.17,1550.94 400,1551.43 C400.83,1551.92 401.67,1552.29 402.5,1552.44 C403.33,1552.59 404.17,1552.51 405,1552.33 C405.83,1552.15 406.67,1551.72 407.5,1551.35 C408.33,1550.97 409.17,1550.43 410,1550.09 C410.83,1549.74 411.67,1549.39 412.5,1549.28 C413.33,1549.17 414.17,1549.22 415,1549.45 C415.83,1549.68 416.67,1550.16 417.5,1550.68 C418.33,1551.21 419.17,1551.96 420,1552.6 C420.83,1553.24 421.67,1554 422.5,1554.52 C423.33,1555.04 424.17,1555.55 425,1555.73 C425.83,1555.92 426.67,1555.9 427.5,1555.64 C428.33,1555.37 429.17,1554.69 430,1554.12 C430.83,1553.56 431.67,1552.59 432.5,1552.24 C433.33,1551.89 434.17,1551.75 435,1552.04 C435.83,1552.33 436.67,1553.21 437.5,1553.99 C438.33,1554.76 439.17,1555.96 440,1556.7 C440.83,1557.45 441.67,1558.44 442.5,1558.47 C443.33,1558.5 444.17,1557.35 445,1556.9 C445.83,1556.46 446.67,1556.09 447.5,1555.8 C448.33,1555.52 449.17,1555.18 450,1555.19 C450.83,1555.21 451.67,1555.49 452.5,1555.89 C453.33,1556.3 454.17,1557.05 455,1557.6 C455.83,1558.16 456.67,1558.91 457.5,1559.2 C458.33,1559.5 459.17,1559.55 460,1559.37 C460.83,1559.19 461.67,1558.57 462.5,1558.11 C463.33,1557.65 464.17,1556.93 465,1556.62 C465.83,1556.3 466.67,1556.11 467.5,1556.22 C468.33,1556.33 469.17,1556.85 470,1557.29 C470.83,1557.73 471.67,1558.49 472.5,1558.87 C473.33,1559.25 474.17,1559.59 475,1559.56 C475.83,1559.53 476.67,1559.13 477.5,1558.7 C478.33,1558.27 479.17,1557.45 480,1556.96 C480.83,1556.47 481.67,1555.91 482.5,1555.77 C483.33,1555.62 484.17,1555.78 485,1556.08 C485.83,1556.38 486.67,1557.09 487.5,1557.56 C488.33,1558.02 489.17,1558.66 490,1558.86 C490.83,1559.06 491.67,1559.03 492.5,1558.74 C493.33,1558.45 494.17,1557.66 495,1557.11 C495.83,1556.57 496.67,1555.77 497.5,1555.47 C498.33,1555.17 499.17,1555.1 500,1555.3 C500.83,1555.5 501.67,1556.19 502.5,1556.64 C503.33,1557.1 504.17,1557.83 505,1558.05 C505.83,1558.27 506.67,1558.27 507.5,1557.98 C508.33,1557.69 509.17,1556.91 510,1556.32 C510.83,1555.73 511.67,1554.85 512.5,1554.46 C513.33,1554.08 514.17,1553.95 515,1554.01 C515.83,1554.07 516.67,1554.5 517.5,1554.83 C518.33,1555.16 519.17,1555.73 520,1556 C520.83,1556.28 521.67,1556.54 522.5,1556.46 C523.33,1556.39 524.17,1556.02 525,1555.55 C525.83,1555.08 526.67,1554.22 527.5,1553.65 C528.33,1553.07 529.17,1552.39 530,1552.11 C530.83,1551.82 531.67,1551.79 532.5,1551.93 C533.33,1552.07 534.17,1552.55 535,1552.93 C535.83,1553.31 536.67,1553.91 537.5,1554.2 C538.33,1554.49 539.17,1554.71 540,1554.65 C540.83,1554.6 541.67,1554.25 542.5,1553.86 C543.33,1553.47 544.17,1552.78 545,1552.33 C545.83,1551.88 546.67,1551.36 547.5,1551.17 C548.33,1550.98 549.17,1551 550,1551.2 C550.83,1551.4 551.67,1551.94 552.5,1552.37 C553.33,1552.8 554.17,1553.39 555,1553.78 C555.83,1554.16 556.67,1554.56 557.5,1554.71 C558.33,1554.85 559.17,1554.83 560,1554.67 C560.83,1554.51 561.67,1554.2 562.5,1553.74 C563.33,1553.28 564.17,1552.42 565,1551.9 C565.83,1551.38 566.67,1550.83 567.5,1550.62 C568.33,1550.41 569.17,1550.41 570,1550.64 C570.83,1550.88 571.67,1551.4 572.5,1552.04 C573.33,1552.68 574.17,1553.64 575,1554.46 C575.83,1555.29 576.67,1556.44 577.5,1556.98 C578.33,1557.52 579.17,1557.81 580,1557.71 C580.83,1557.6 581.67,1556.95 582.5,1556.36 C583.33,1555.76 584.17,1554.71 585,1554.12 C585.83,1553.54 586.67,1552.91 587.5,1552.84 C588.33,1552.78 589.17,1553.12 590,1553.71 C590.83,1554.3 591.67,1555.46 592.5,1556.4 C593.33,1557.34 594.17,1558.6 595,1559.32 C595.83,1560.05 596.67,1560.63 597.5,1560.72 C598.33,1560.82 599.17,1560.41 600,1559.91 C600.83,1559.42 601.67,1558.46 602.5,1557.75 C603.33,1557.05 604.17,1556 605,1555.69 C605.83,1555.38 606.67,1555.44 607.5,1555.88 C608.33,1556.33 609.17,1557.4 610,1558.36 C610.83,1559.31 611.67,1560.74 612.5,1561.61 C613.33,1562.48 614.17,1563.41 615,1563.58 C615.83,1563.74 616.67,1563.08 617.5,1562.61 C618.33,1562.13 619.17,1561.36 620,1560.7 C620.83,1560.05 621.67,1559.04 622.5,1558.68 C623.33,1558.32 624.17,1558.29 625,1558.54 C625.83,1558.79 626.67,1559.51 627.5,1560.2 C628.33,1560.89 629.17,1561.88 630,1562.68 C630.83,1563.48 631.67,1564.55 632.5,1564.98 C633.33,1565.42 634.17,1565.52 635,1565.3 C635.83,1565.09 636.67,1564.29 637.5,1563.68 C638.33,1563.06 639.17,1562.06 640,1561.61 C640.83,1561.16 641.67,1560.81 642.5,1560.96 C643.33,1561.11 644.17,1561.76 645,1562.49 C645.83,1563.22 646.67,1564.48 647.5,1565.33 C648.33,1566.18 649.17,1567.18 650,1567.59 C650.83,1568.01 651.67,1568.08 652.5,1567.84 C653.33,1567.59 654.17,1566.77 655,1566.14 C655.83,1565.51 656.67,1564.37 657.5,1564.04 C658.33,1563.71 659.17,1563.94 660,1564.16 C660.83,1564.38 661.67,1564.72 662.5,1565.34 C663.33,1565.95 664.17,1567 665,1567.86 C665.83,1568.72 666.67,1570.05 667.5,1570.5 C668.33,1570.94 669.17,1570.92 670,1570.51 C670.83,1570.1 671.67,1568.94 672.5,1568.03 C673.33,1567.13 674.17,1565.75 675,1565.07 C675.83,1564.39 676.67,1563.87 677.5,1563.97 C678.33,1564.06 679.17,1564.81 680,1565.63 C680.83,1566.45 681.67,1567.9 682.5,1568.87 C683.33,1569.83 684.17,1571.15 685,1571.43 C685.83,1571.7 686.67,1571.24 687.5,1570.52 C688.33,1569.8 689.17,1568.03 690,1567.1 C690.83,1566.17 691.67,1565.33 692.5,1564.94 C693.33,1564.54 694.17,1564.43 695,1564.72 C695.83,1565.02 696.67,1565.85 697.5,1566.71 C698.33,1567.56 699.17,1568.88 700,1569.83 C700.83,1570.78 701.67,1571.86 702.5,1572.4 C703.33,1572.95 704.17,1573.2 705,1573.08 C705.83,1572.95 706.67,1572.3 707.5,1571.66 C708.33,1571.02 709.17,1569.76 710,1569.24 C710.83,1568.72 711.67,1568.62 712.5,1568.55 C713.33,1568.48 714.17,1568.51 715,1568.84 C715.83,1569.17 716.67,1569.78 717.5,1570.52 C718.33,1571.26 719.17,1572.56 720,1573.27 C720.83,1573.98 721.67,1574.66 722.5,1574.77 C723.33,1574.89 724.17,1574.48 725,1573.99 C725.83,1573.49 726.67,1572.43 727.5,1571.82 C728.33,1571.2 729.17,1570.46 730,1570.3 C730.83,1570.13 731.67,1570.45 732.5,1570.83 C733.33,1571.21 734.17,1571.98 735,1572.57 C735.83,1573.17 736.67,1573.96 737.5,1574.38 C738.33,1574.8 739.17,1575.15 740,1575.11 C740.83,1575.07 741.67,1574.62 742.5,1574.16 C743.33,1573.7 744.17,1573.02 745,1572.37 C745.83,1571.72 746.67,1570.74 747.5,1570.26 C748.33,1569.79 749.17,1569.45 750,1569.5 C750.83,1569.54 751.67,1569.99 752.5,1570.53 C753.33,1571.08 754.17,1572.03 755,1572.75 C755.83,1573.47 756.67,1574.37 757.5,1574.84 C758.33,1575.31 759.17,1575.74 760,1575.59 C760.83,1575.43 761.67,1574.54 762.5,1573.91 C763.33,1573.28 764.17,1572.27 765,1571.8 C765.83,1571.33 766.67,1570.95 767.5,1571.1 C768.33,1571.26 769.17,1572.03 770,1572.75 C770.83,1573.46 771.67,1574.74 772.5,1575.39 C773.33,1576.04 774.17,1576.42 775,1576.65 C775.83,1576.88 776.67,1576.84 777.5,1576.77 C778.33,1576.7 779.17,1576.68 780,1576.24 C780.83,1575.79 781.67,1574.74 782.5,1574.11 C783.33,1573.47 784.17,1572.77 785,1572.44 C785.83,1572.12 786.67,1571.99 787.5,1572.16 C788.33,1572.34 789.17,1572.87 790,1573.49 C790.83,1574.11 791.67,1575.08 792.5,1575.87 C793.33,1576.66 794.17,1577.61 795,1578.2 C795.83,1578.8 796.67,1579.38 797.5,1579.41 C798.33,1579.44 799.17,1578.84 800,1578.36 C800.83,1577.88 801.67,1577.06 802.5,1576.53 C803.33,1576.01 804.17,1575.6 805,1575.21 C805.83,1574.82 806.67,1574.38 807.5,1574.18 C808.33,1573.97 809.17,1573.9 810,1573.98 C810.83,1574.06 811.67,1574.35 812.5,1574.66 C813.33,1574.98 814.17,1575.48 815,1575.86 C815.83,1576.25 816.67,1576.72 817.5,1576.96 C818.33,1577.2 819.17,1577.44 820,1577.31 C820.83,1577.18 821.67,1576.78 822.5,1576.2 C823.33,1575.61 824.17,1574.36 825,1573.81 C825.83,1573.26 826.67,1572.81 827.5,1572.89 C828.33,1572.97 829.17,1573.77 830,1574.27 C830.83,1574.77 831.67,1575.38 832.5,1575.9 C833.33,1576.42 834.17,1577.01 835,1577.38 C835.83,1577.76 836.67,1578.05 837.5,1578.14 C838.33,1578.23 839.17,1578.12 840,1577.9 C840.83,1577.68 841.67,1577.23 842.5,1576.81 C843.33,1576.38 844.17,1575.79 845,1575.35 C845.83,1574.91 846.67,1574.43 847.5,1574.17 C848.33,1573.92 849.17,1573.76 850,1573.81 C850.83,1573.87 851.67,1574.04 852.5,1574.49 C853.33,1574.94 854.17,1575.81 855,1576.51 C855.83,1577.21 856.67,1578.16 857.5,1578.69 C858.33,1579.22 859.17,1579.64 860,1579.68 C860.83,1579.72 861.67,1579.36 862.5,1578.91 C863.33,1578.47 864.17,1577.61 865,1577.01 C865.83,1576.42 866.67,1575.66 867.5,1575.34 C868.33,1575.02 869.17,1574.91 870,1575.1 C870.83,1575.29 871.67,1575.9 872.5,1576.48 C873.33,1577.05 874.17,1577.98 875,1578.56 C875.83,1579.14 876.67,1579.86 877.5,1579.96 C878.33,1580.05 879.17,1579.47 880,1579.12 C880.83,1578.76 881.67,1578.27 882.5,1577.83 C883.33,1577.4 884.17,1576.74 885,1576.49 C885.83,1576.24 886.67,1576.13 887.5,1576.32 C888.33,1576.51 889.17,1576.94 890,1577.63 C890.83,1578.33 891.67,1579.64 892.5,1580.48 C893.33,1581.32 894.17,1582.41 895,1582.65 C895.83,1582.9 896.67,1582.51 897.5,1581.93 C898.33,1581.36 899.17,1580.03 900,1579.19 C900.83,1578.36 901.67,1577.25 902.5,1576.93 C903.33,1576.61 904.17,1576.72 905,1577.25 C905.83,1577.78 906.78,1579.45 907.5,1580.11 C908.22,1580.77 907.8,1579.32 909.3,1581.2 C910.8,1583.08 914.62,1586.27 916.5,1591.4 C918.38,1596.53 919.23,1604.45 920.6,1612 C921.97,1619.55 923.33,1631.22 924.7,1636.7 C926.07,1642.18 927.27,1645.93 928.8,1644.9 C930.33,1643.87 932.37,1630.17 933.9,1630.5 C935.43,1630.83 936.8,1639.7 938,1646.9 C939.2,1654.1 939.9,1667.87 941.1,1673.7 C942.3,1679.53 943.13,1682.25 945.2,1681.9 C947.27,1681.55 950.75,1670.92 953.5,1671.6 C956.25,1672.28 958.97,1683.6 961.7,1686 C964.43,1688.4 967.17,1687.2 969.9,1686 C972.63,1684.8 975.35,1679.15 978.1,1678.8 C980.85,1678.45 983.65,1683.9 986.4,1683.9 C989.15,1683.9 991.87,1678.45 994.6,1678.8 C997.33,1679.15 1000.05,1684.8 1002.8,1686 C1005.55,1687.2 1008.35,1684.28 1011.1,1686 C1013.85,1687.72 1016.57,1693.9 1019.3,1696.3 C1022.03,1698.7 1024.77,1699.2 1027.5,1700.4 C1030.23,1701.6 1032.95,1702.3 1035.7,1703.5 C1038.45,1704.7 1041.25,1705.72 1044,1707.6 C1046.75,1709.48 1050.07,1712.72 1052.2,1714.8 C1054.33,1716.88 1054.83,1719.42 1056.8,1720.1 C1058.77,1720.78 1061.18,1718.1 1064,1718.9 C1066.82,1719.7 1070.48,1724.7 1073.7,1724.9 C1076.92,1725.1 1078.9,1720.3 1083.3,1720.1 C1087.7,1719.9 1094.88,1722.7 1100.1,1723.7 C1105.32,1724.7 1110.78,1724.7 1114.6,1726.1 C1118.42,1727.5 1120.6,1731.9 1123,1732.1 C1125.4,1732.3 1126.4,1728.1 1129,1727.3 C1131.6,1726.5 1135.4,1727.3 1138.6,1727.3 C1141.8,1727.3 1146.3,1726.9 1148.2,1727.3 C1150.1,1727.7 1149.28,1729.04 1150,1729.7 C1150.72,1730.36 1151.67,1730.94 1152.5,1731.24 C1153.33,1731.53 1154.17,1731.62 1155,1731.47 C1155.83,1731.32 1156.67,1730.84 1157.5,1730.35 C1158.33,1729.85 1159.17,1729.07 1160,1728.48 C1160.83,1727.9 1161.67,1727.22 1162.5,1726.85 C1163.33,1726.49 1164.17,1726.25 1165,1726.3 C1165.83,1726.35 1166.67,1726.69 1167.5,1727.15 C1168.33,1727.61 1169.17,1728.38 1170,1729.04 C1170.83,1729.7 1171.67,1730.54 1172.5,1731.11 C1173.33,1731.67 1174.17,1732.2 1175,1732.41 C1175.83,1732.63 1176.67,1732.62 1177.5,1732.42 C1178.33,1732.22 1179.17,1731.71 1180,1731.24 C1180.83,1730.77 1181.67,1730.06 1182.5,1729.59 C1183.33,1729.13 1184.17,1728.63 1185,1728.46 C1185.83,1728.29 1186.67,1728.31 1187.5,1728.6 C1188.33,1728.88 1189.17,1729.48 1190,1730.15 C1190.83,1730.82 1191.67,1731.79 1192.5,1732.6 C1193.33,1733.4 1194.17,1734.35 1195,1734.98 C1195.83,1735.6 1196.67,1736.14 1197.5,1736.36 C1198.33,1736.57 1199.17,1736.56 1200,1736.27 C1200.83,1735.99 1201.67,1735.26 1202.5,1734.66 C1203.33,1734.07 1204.17,1733.18 1205,1732.71 C1205.83,1732.23 1206.67,1731.83 1207.5,1731.81 C1208.33,1731.79 1209.17,1732.1 1210,1732.59 C1210.83,1733.09 1211.67,1734.06 1212.5,1734.75 C1213.33,1735.44 1214.17,1736.25 1215,1736.72 C1215.83,1737.19 1216.67,1737.54 1217.5,1737.55 C1218.33,1737.55 1219.17,1737.34 1220,1736.73 C1220.83,1736.12 1221.67,1734.76 1222.5,1733.88 C1223.33,1732.99 1224.17,1731.82 1225,1731.44 C1225.83,1731.07 1226.67,1731.19 1227.5,1731.64 C1228.33,1732.09 1229.17,1733.35 1230,1734.15 C1230.83,1734.94 1231.67,1736.08 1232.5,1736.42 C1233.33,1736.76 1234.17,1736.65 1235,1736.17 C1235.83,1735.69 1236.67,1734.4 1237.5,1733.53 C1238.33,1732.67 1239.17,1731.41 1240,1730.96 C1240.83,1730.52 1241.67,1730.56 1242.5,1730.85 C1243.33,1731.14 1244.17,1732.02 1245,1732.71 C1245.83,1733.41 1246.67,1734.46 1247.5,1735.01 C1248.33,1735.55 1249.17,1735.85 1250,1735.99 C1250.83,1736.13 1251.67,1736.06 1252.5,1735.82 C1253.33,1735.58 1254.17,1735.1 1255,1734.54 C1255.83,1733.98 1256.67,1733.1 1257.5,1732.45 C1258.33,1731.8 1259.17,1731.04 1260,1730.64 C1260.83,1730.23 1261.67,1729.96 1262.5,1730 C1263.33,1730.04 1264.17,1730.4 1265,1730.88 C1265.83,1731.36 1266.67,1732.18 1267.5,1732.87 C1268.33,1733.56 1269.17,1734.45 1270,1735.04 C1270.83,1735.63 1271.67,1736.19 1272.5,1736.39 C1273.33,1736.6 1274.17,1736.52 1275,1736.29 C1275.83,1736.06 1276.67,1735.52 1277.5,1735.01 C1278.33,1734.51 1279.17,1733.76 1280,1733.25 C1280.83,1732.75 1281.67,1732.22 1282.5,1732.01 C1283.33,1731.8 1284.17,1731.79 1285,1732 C1285.83,1732.2 1286.67,1732.68 1287.5,1733.22 C1288.33,1733.76 1289.17,1734.56 1290,1735.24 C1290.83,1735.91 1291.67,1736.72 1292.5,1737.26 C1293.33,1737.8 1294.17,1738.29 1295,1738.48 C1295.83,1738.67 1296.67,1738.61 1297.5,1738.39 C1298.33,1738.18 1299.17,1737.68 1300,1737.18 C1300.83,1736.68 1301.67,1735.94 1302.5,1735.39 C1303.33,1734.83 1304.17,1734.2 1305,1733.85 C1305.83,1733.5 1306.67,1733.27 1307.5,1733.28 C1308.33,1733.3 1309.17,1733.57 1310,1733.95 C1310.83,1734.33 1311.67,1734.93 1312.5,1735.56 C1313.33,1736.2 1314.17,1737.2 1315,1737.76 C1315.83,1738.31 1316.67,1738.82 1317.5,1738.9 C1318.33,1738.98 1319.17,1738.71 1320,1738.26 C1320.83,1737.81 1321.67,1736.91 1322.5,1736.22 C1323.33,1735.54 1324.17,1734.65 1325,1734.14 C1325.83,1733.63 1326.67,1733.04 1327.5,1733.16 C1328.33,1733.29 1329.17,1734.22 1330,1734.87 C1330.83,1735.52 1331.67,1736.43 1332.5,1737.05 C1333.33,1737.68 1334.17,1738.34 1335,1738.62 C1335.83,1738.9 1336.67,1738.93 1337.5,1738.7 C1338.33,1738.48 1339.17,1737.86 1340,1737.26 C1340.83,1736.65 1341.67,1735.72 1342.5,1735.07 C1343.33,1734.42 1344.17,1733.69 1345,1733.36 C1345.83,1733.02 1346.67,1732.9 1347.5,1733.07 C1348.33,1733.23 1349.17,1733.78 1350,1734.36 C1350.83,1734.94 1351.67,1735.87 1352.5,1736.54 C1353.33,1737.22 1354.17,1738.01 1355,1738.42 C1355.83,1738.82 1356.67,1739.05 1357.5,1738.96 C1358.33,1738.87 1359.17,1738.41 1360,1737.88 C1360.83,1737.35 1361.67,1736.46 1362.5,1735.78 C1363.33,1735.1 1364.17,1734.26 1365,1733.81 C1365.83,1733.36 1366.67,1733.05 1367.5,1733.07 C1368.33,1733.09 1369.17,1733.45 1370,1733.92 C1370.83,1734.39 1371.67,1735.23 1372.5,1735.89 C1373.33,1736.55 1374.17,1737.35 1375,1737.88 C1375.83,1738.4 1376.67,1738.97 1377.5,1739.03 C1378.33,1739.09 1379.17,1738.82 1380,1738.22 C1380.83,1737.62 1381.67,1736.23 1382.5,1735.44 C1383.33,1734.64 1384.37,1733.21 1385,1733.46 C1385.63,1733.7 1385.3,1736.48 1386.3,1736.9 C1387.3,1737.32 1390.22,1736.15 1391,1736" stroke="#ff0000" stroke-dasharray="22.2 9.6" stroke-linecap="butt"/>
</g>
<rect x="136.6" y="1295.5" width="1313.7" height="463.6" fill="none" stroke="#000" stroke-width="1.25"/>
<line x1="129.2" y1="1740" x2="136.6" y2="1740" stroke="#000" stroke-width="1.25" />
<line x1="129.2" y1="1680.6" x2="136.6" y2="1680.6" stroke="#000" stroke-width="1.25" />
<line x1="129.2" y1="1621.2" x2="136.6" y2="1621.2" stroke="#000" stroke-width="1.25" />
<line x1="129.2" y1="1561.8" x2="136.6" y2="1561.8" stroke="#000" stroke-width="1.25" />
<line x1="129.2" y1="1502.4" x2="136.6" y2="1502.4" stroke="#000" stroke-width="1.25" />
<line x1="129.2" y1="1443" x2="136.6" y2="1443" stroke="#000" stroke-width="1.25" />
<line x1="129.2" y1="1383.6" x2="136.6" y2="1383.6" stroke="#000" stroke-width="1.25" />
<line x1="129.2" y1="1324.2" x2="136.6" y2="1324.2" stroke="#000" stroke-width="1.25" />
<text x="97.92" y="1755.30" textLength="18.27" lengthAdjust="spacingAndGlyphs" style="font-family:'Liberation Sans';font-size:31.80px;" fill="#000" >0</text>
<text x="89.21" y="1636.50" textLength="37.82" lengthAdjust="spacingAndGlyphs" style="font-family:'Liberation Sans';font-size:31.80px;" fill="#000" >10</text>
<text x="90.13" y="1517.70" textLength="36.86" lengthAdjust="spacingAndGlyphs" style="font-family:'Liberation Sans';font-size:31.80px;" fill="#000" >20</text>
<text x="90.55" y="1398.90" textLength="36.43" lengthAdjust="spacingAndGlyphs" style="font-family:'Liberation Sans';font-size:31.80px;" fill="#000" >30</text>
<line x1="259.5" y1="1759.1" x2="259.5" y2="1766.6" stroke="#000" stroke-width="1.25" />
<text x="248.06" y="1799.60" textLength="17.68" lengthAdjust="spacingAndGlyphs" style="font-family:'Liberation Sans';font-size:31.80px;" fill="#000" >0</text>
<line x1="435.4" y1="1759.1" x2="435.4" y2="1766.6" stroke="#000" stroke-width="1.25" />
<text x="409.92" y="1799.60" textLength="55.89" lengthAdjust="spacingAndGlyphs" style="font-family:'Liberation Sans';font-size:31.80px;" fill="#000" >250</text>
<line x1="611.3" y1="1759.1" x2="611.3" y2="1766.6" stroke="#000" stroke-width="1.25" />
<text x="585.85" y="1799.60" textLength="56.37" lengthAdjust="spacingAndGlyphs" style="font-family:'Liberation Sans';font-size:31.80px;" fill="#000" >500</text>
<line x1="787.1" y1="1759.1" x2="787.1" y2="1766.6" stroke="#000" stroke-width="1.25" />
<text x="763.01" y="1799.60" textLength="55.08" lengthAdjust="spacingAndGlyphs" style="font-family:'Liberation Sans';font-size:31.80px;" fill="#000" >750</text>
<line x1="963" y1="1759.1" x2="963" y2="1766.6" stroke="#000" stroke-width="1.25" />
<text x="930.35" y="1799.60" textLength="74.46" lengthAdjust="spacingAndGlyphs" style="font-family:'Liberation Sans';font-size:31.80px;" fill="#000" >1000</text>
<line x1="1138.9" y1="1759.1" x2="1138.9" y2="1766.6" stroke="#000" stroke-width="1.25" />
<text x="1107.05" y="1799.60" textLength="74.35" lengthAdjust="spacingAndGlyphs" style="font-family:'Liberation Sans';font-size:31.80px;" fill="#000" >1250</text>
<line x1="1314.8" y1="1759.1" x2="1314.8" y2="1766.6" stroke="#000" stroke-width="1.25" />
<text x="1281.21" y="1799.60" textLength="75.72" lengthAdjust="spacingAndGlyphs" style="font-family:'Liberation Sans';font-size:31.80px;" fill="#000" >1500</text>
<line x1="259.6" y1="1295.5" x2="259.6" y2="1288" stroke="#000" stroke-width="1.25" />
<text x="251.29" y="1278.20" textLength="18.61" lengthAdjust="spacingAndGlyphs" style="font-family:'Liberation Sans';font-size:29.00px;" fill="#000" >0</text>
<line x1="480.6" y1="1295.5" x2="480.6" y2="1288" stroke="#000" stroke-width="1.25" />
<text x="473.05" y="1278.20" textLength="17.36" lengthAdjust="spacingAndGlyphs" style="font-family:'Liberation Sans';font-size:29.00px;" fill="#000" >5</text>
<line x1="701.6" y1="1295.5" x2="701.6" y2="1288" stroke="#000" stroke-width="1.25" />
<text x="685.76" y="1278.20" textLength="37.04" lengthAdjust="spacingAndGlyphs" style="font-family:'Liberation Sans';font-size:29.00px;" fill="#000" >10</text>
<line x1="922.6" y1="1295.5" x2="922.6" y2="1288" stroke="#000" stroke-width="1.25" />
<text x="906.76" y="1278.20" textLength="38.60" lengthAdjust="spacingAndGlyphs" style="font-family:'Liberation Sans';font-size:29.00px;" fill="#000" >15</text>
<line x1="1143.6" y1="1295.5" x2="1143.6" y2="1288" stroke="#000" stroke-width="1.25" />
<text x="1128.59" y="1278.20" textLength="37.84" lengthAdjust="spacingAndGlyphs" style="font-family:'Liberation Sans';font-size:29.00px;" fill="#000" >20</text>
<line x1="1364.6" y1="1295.5" x2="1364.6" y2="1288" stroke="#000" stroke-width="1.25" />
<text x="1349.82" y="1278.20" textLength="37.19" lengthAdjust="spacingAndGlyphs" style="font-family:'Liberation Sans';font-size:29.00px;" fill="#000" >25</text>
<text x="0.33" y="1306.10" textLength="30.27" lengthAdjust="spacingAndGlyphs" style="font-family:'Liberation Sans';font-size:61.33px;" fill="#000" >c</text>
<g transform="translate(50.7,0) rotate(-90)"><text x="-1720.57" y="0.00" textLength="105.57" lengthAdjust="spacingAndGlyphs" style="font-family:'Liberation Sans';font-size:32.41px;" fill="#000" >Output</text><text x="-1605.02" y="0.00" textLength="131.02" lengthAdjust="spacingAndGlyphs" style="font-family:'Liberation Sans';font-size:32.41px;" fill="#000" >Strength</text><text x="-1463.34" y="0.00" textLength="72.87" lengthAdjust="spacingAndGlyphs" style="font-family:'Liberation Sans';font-size:32.41px;" fill="#000" >(mV)</text></g>
<rect x="417.7" y="797.3" width="445.6" height="86" rx="5" ry="5" fill="#fff" fill-opacity="0.8" stroke="#cccccc" stroke-opacity="0.8" stroke-width="2"/>
<line x1="425.4" y1="818.2" x2="483.8" y2="818.2" stroke="#00bfbf" stroke-width="6.0" />
<line x1="428.4" y1="857.8" x2="451.5" y2="857.8" stroke="#0000ff" stroke-width="6.0" />
<line x1="462.9" y1="857.8" x2="480.7" y2="857.8" stroke="#0000ff" stroke-width="6.0" />
<text x="500.73" y="827.40" textLength="83.57" lengthAdjust="spacingAndGlyphs" style="font-family:'Liberation Sans';font-size:27.18px;" fill="#000" >MMOC</text>
<text x="592.66" y="827.40" textLength="35.95" lengthAdjust="spacingAndGlyphs" style="font-family:'Liberation Sans';font-size:27.18px;" fill="#000" >for</text>
<text x="636.94" y="827.82" textLength="8.01" lengthAdjust="spacingAndGlyphs" style="font-family:'Liberation Sans';font-size:27.76px;" fill="#000" >|</text>
<text x="645.26" y="827.53" textLength="16.29" lengthAdjust="spacingAndGlyphs" style="font-family:'Liberation Sans';font-size:27.40px;" fill="#000" >0</text>
<polyline points="664.5,808.3 668.9,819.15 664.5,830" fill="none" stroke="#000" stroke-width="2.0" stroke-linejoin="miter"/>
<text x="681.84" y="827.40" textLength="53.61" lengthAdjust="spacingAndGlyphs" style="font-family:'Liberation Sans';font-size:27.18px;" fill="#000" >with</text>
<text x="743.52" y="827.40" textLength="66.20" lengthAdjust="spacingAndGlyphs" style="font-family:'Liberation Sans';font-size:27.18px;" fill="#000" >reset</text>
<text x="500.73" y="866.60" textLength="83.57" lengthAdjust="spacingAndGlyphs" style="font-family:'Liberation Sans';font-size:27.18px;" fill="#000" >MMOC</text>
<text x="592.66" y="866.60" textLength="35.95" lengthAdjust="spacingAndGlyphs" style="font-family:'Liberation Sans';font-size:27.18px;" fill="#000" >for</text>
<text x="636.94" y="867.02" textLength="8.01" lengthAdjust="spacingAndGlyphs" style="font-family:'Liberation Sans';font-size:27.76px;" fill="#000" >|</text>
<text x="645.26" y="866.73" textLength="16.29" lengthAdjust="spacingAndGlyphs" style="font-family:'Liberation Sans';font-size:27.40px;" fill="#000" >0</text>
<polyline points="664.5,847.5 668.9,858.35 664.5,869.2" fill="none" stroke="#000" stroke-width="2.0" stroke-linejoin="miter"/>
<text x="681.84" y="866.60" textLength="95.28" lengthAdjust="spacingAndGlyphs" style="font-family:'Liberation Sans';font-size:27.18px;" fill="#000" >without</text>
<text x="785.83" y="866.60" textLength="65.99" lengthAdjust="spacingAndGlyphs" style="font-family:'Liberation Sans';font-size:27.18px;" fill="#000" >reset</text>
<rect x="397.6" y="1605.4" width="444.7" height="86.6" rx="5" ry="5" fill="#fff" fill-opacity="0.8" stroke="#cccccc" stroke-opacity="0.8" stroke-width="2"/>
<line x1="404" y1="1626.9" x2="463.4" y2="1626.9" stroke="#bf00bf" stroke-width="6.0" />
<line x1="407.3" y1="1666.3" x2="431.3" y2="1666.3" stroke="#ff0000" stroke-width="6.0" />
<line x1="441.6" y1="1666.3" x2="460.2" y2="1666.3" stroke="#ff0000" stroke-width="6.0" />
<text x="480.43" y="1636.10" textLength="83.57" lengthAdjust="spacingAndGlyphs" style="font-family:'Liberation Sans';font-size:27.18px;" fill="#000" >MMOC</text>
<text x="572.36" y="1636.10" textLength="35.95" lengthAdjust="spacingAndGlyphs" style="font-family:'Liberation Sans';font-size:27.18px;" fill="#000" >for</text>
<text x="616.64" y="1636.52" textLength="8.01" lengthAdjust="spacingAndGlyphs" style="font-family:'Liberation Sans';font-size:27.76px;" fill="#000" >|</text>
<text x="625.00" y="1636.10" textLength="15.35" lengthAdjust="spacingAndGlyphs" style="font-family:'Liberation Sans';font-size:27.04px;" fill="#000" >1</text>
<polyline points="644.2,1617 648.6,1627.85 644.2,1638.7" fill="none" stroke="#000" stroke-width="2.0" stroke-linejoin="miter"/>
<text x="661.54" y="1636.10" textLength="53.61" lengthAdjust="spacingAndGlyphs" style="font-family:'Liberation Sans';font-size:27.18px;" fill="#000" >with</text>
<text x="723.24" y="1636.10" textLength="65.78" lengthAdjust="spacingAndGlyphs" style="font-family:'Liberation Sans';font-size:27.18px;" fill="#000" >reset</text>
<text x="480.43" y="1675.00" textLength="83.57" lengthAdjust="spacingAndGlyphs" style="font-family:'Liberation Sans';font-size:27.18px;" fill="#000" >MMOC</text>
<text x="572.36" y="1675.00" textLength="35.95" lengthAdjust="spacingAndGlyphs" style="font-family:'Liberation Sans';font-size:27.18px;" fill="#000" >for</text>
<text x="616.64" y="1675.42" textLength="8.01" lengthAdjust="spacingAndGlyphs" style="font-family:'Liberation Sans';font-size:27.76px;" fill="#000" >|</text>
<text x="625.00" y="1675.00" textLength="15.35" lengthAdjust="spacingAndGlyphs" style="font-family:'Liberation Sans';font-size:27.04px;" fill="#000" >1</text>
<polyline points="644.2,1655.9 648.6,1666.75 644.2,1677.6" fill="none" stroke="#000" stroke-width="2.0" stroke-linejoin="miter"/>
<text x="661.54" y="1675.00" textLength="95.28" lengthAdjust="spacingAndGlyphs" style="font-family:'Liberation Sans';font-size:27.18px;" fill="#000" >without</text>
<text x="765.53" y="1675.00" textLength="66.09" lengthAdjust="spacingAndGlyphs" style="font-family:'Liberation Sans';font-size:27.18px;" fill="#000" >reset</text>
<line x1="611" y1="1032.2" x2="611" y2="1039" stroke="#808080" stroke-width="6.0" />
<line x1="601.4" y1="1032.2" x2="620.7" y2="1032.2" stroke="#808080" stroke-width="1.6" />
<line x1="601.4" y1="1039" x2="620.7" y2="1039" stroke="#808080" stroke-width="1.6" />
<text x="623.98" y="1048.40" textLength="73.57" lengthAdjust="spacingAndGlyphs" style="font-family:'Liberation Sans';font-size:31.54px;" fill="#000" >Error</text>
<text x="705.98" y="1048.40" textLength="51.68" lengthAdjust="spacingAndGlyphs" style="font-family:'Liberation Sans';font-size:31.54px;" fill="#000" >Bar</text>
<line x1="610.9" y1="1437.8" x2="610.9" y2="1450.6" stroke="#808080" stroke-width="6.0" />
<line x1="601" y1="1437.8" x2="620.9" y2="1437.8" stroke="#808080" stroke-width="1.6" />
<line x1="601" y1="1450.6" x2="620.9" y2="1450.6" stroke="#808080" stroke-width="1.6" />
<text x="623.68" y="1451.70" textLength="73.57" lengthAdjust="spacingAndGlyphs" style="font-family:'Liberation Sans';font-size:31.54px;" fill="#000" >Error</text>
<text x="705.70" y="1451.70" textLength="51.25" lengthAdjust="spacingAndGlyphs" style="font-family:'Liberation Sans';font-size:31.54px;" fill="#000" >Bar</text>
<text x="736.97" y="1136.90" textLength="82.38" lengthAdjust="spacingAndGlyphs" style="font-family:'Liberation Sans';font-size:34.88px;" fill="#000" >Time</text>
<text x="829.41" y="1136.90" textLength="63.58" lengthAdjust="spacingAndGlyphs" style="font-family:'Liberation Sans';font-size:34.88px;" fill="#000" >(ns)</text>
<text x="705.07" y="1745.70" textLength="81.76" lengthAdjust="spacingAndGlyphs" style="font-family:'Liberation Sans';font-size:34.88px;" fill="#000" >Time</text>
<text x="797.10" y="1745.70" textLength="64.01" lengthAdjust="spacingAndGlyphs" style="font-family:'Liberation Sans';font-size:34.88px;" fill="#000" >(ns)</text>
<text x="715.81" y="754.20" textLength="78.36" lengthAdjust="spacingAndGlyphs" style="font-family:'Liberation Sans';font-size:34.88px;" fill="#000" >Time</text>
<text x="802.36" y="750.32" textLength="10.89" lengthAdjust="spacingAndGlyphs" style="font-family:'Liberation Serif';font-size:37.94px;" fill="#000" >(</text>
<text x="813.58" y="750.70" textLength="18.60" lengthAdjust="spacingAndGlyphs" style="font-family:'Liberation Serif';font-size:32.03px;font-style:italic;" fill="#000" >κ</text>
<text x="832.87" y="737.19" textLength="14.86" lengthAdjust="spacingAndGlyphs" style="font-family:'Liberation Serif';font-size:21.93px;" fill="#000" >0</text>
<text x="834.10" y="758.40" textLength="9.96" lengthAdjust="spacingAndGlyphs" style="font-family:'Liberation Serif';font-size:24.62px;" fill="#000" >r</text>
<text x="849.75" y="750.32" textLength="10.89" lengthAdjust="spacingAndGlyphs" style="font-family:'Liberation Serif';font-size:37.94px;" fill="#000" >)</text>
<rect x="864.8" y="730.5" width="16.2" height="1.6" fill="#000"/>
<text x="883.63" y="738.00" textLength="12.92" lengthAdjust="spacingAndGlyphs" style="font-family:'Liberation Serif';font-size:24.39px;" fill="#000" >1</text>
<text x="715.81" y="1350.20" textLength="78.36" lengthAdjust="spacingAndGlyphs" style="font-family:'Liberation Sans';font-size:34.88px;" fill="#000" >Time</text>
<text x="809.36" y="1345.32" textLength="10.89" lengthAdjust="spacingAndGlyphs" style="font-family:'Liberation Serif';font-size:37.94px;" fill="#000" >(</text>
<text x="821.34" y="1345.70" textLength="17.86" lengthAdjust="spacingAndGlyphs" style="font-family:'Liberation Serif';font-size:32.03px;font-style:italic;" fill="#000" >κ</text>
<text x="839.93" y="1332.18" textLength="14.04" lengthAdjust="spacingAndGlyphs" style="font-family:'Liberation Serif';font-size:22.97px;" fill="#000" >0</text>
<text x="841.10" y="1353.40" textLength="9.96" lengthAdjust="spacingAndGlyphs" style="font-family:'Liberation Serif';font-size:24.62px;" fill="#000" >r</text>
<text x="856.75" y="1345.32" textLength="10.89" lengthAdjust="spacingAndGlyphs" style="font-family:'Liberation Serif';font-size:37.94px;" fill="#000" >)</text>
<rect x="871.8" y="1325.2" width="16.2" height="1.6" fill="#000"/>
<text x="890.63" y="1333.00" textLength="12.92" lengthAdjust="spacingAndGlyphs" style="font-family:'Liberation Serif';font-size:24.39px;" fill="#000" >1</text>
<rect x="1094.7" y="720.6" width="339.1" height="324.7" fill="#fff" stroke="none"/>
<defs><clipPath id="ib"><rect x="1094.7" y="720.6" width="339.0999999999999" height="324.69999999999993"/></clipPath></defs>
<g clip-path="url(#ib)">
<g fill="none" stroke="#00bfbf" stroke-opacity="0.4" stroke-width="2.8" stroke-linejoin="round" stroke-linecap="round">
<polyline points="1171.1,729.7 1162,734.8 1163.7,747.3 1171.7,763.2 1167.1,775.6 1185.3,781.9 1200.6,802.3 1203.4,807.4 1226.2,810.8 1244.3,830.7 1250.6,827.3"/>
<polyline points="1162,734.8 1171.1,734.2 1188.1,750.7 1196.1,752.9 1208,776.2 1237,804 1249.4,819.9 1255.7,824.5 1279.9,825.6 1288.4,821.6 1298.1,818.8 1302,799.5 1305.4,796.1 1305.4,790.4"/>
<polyline points="1250.6,827.3 1258.5,867.1 1262,885"/>
<polyline points="1130.8,886.4 1150.1,868.2 1167.1,858 1189.3,842.6 1223.9,824.5 1249.4,819.9 1274.2,798.1 1305.4,790.4"/>
<polyline points="1305.4,790.4 1314,792.1 1319.6,783 1322.5,773.4 1328.7,777.3 1340.7,775.6 1346.3,775.1 1344,783 1352.6,783 1361.7,784.7 1358.3,792.1 1350.9,795.5 1353.7,800.1"/>
<polyline points="1328.7,777.3 1328.7,784.2 1320.8,795.5 1330.4,801.8 1340.7,794.4 1341.8,790.4 1350.9,795.5"/>
<polyline points="1328.7,784.2 1352.6,783"/>
<polyline points="1314,792.1 1317,807 1338.4,808 1331.6,816"/>
<polyline points="1320.2,812.6 1290,826 1287.3,830.2 1282.2,830.7"/>
<polyline points="1299.2,831.9 1312.8,807.4 1314,792.1"/>
<polyline points="1298.1,818.8 1299.2,831.9"/>
<polyline points="1279.9,825.6 1282.2,830.7 1284.4,839.8 1282.7,848.9 1265.7,867.1 1258.5,867.1"/>
<polyline points="1282.7,848.9 1275.9,861.4 1270.2,880.1 1266,890"/>
<polyline points="1279.3,875 1287.3,871.6 1303.2,869.9 1317.4,867.6 1330.4,861.4 1339,848.9 1345.2,848.9 1348.6,845.5 1355.4,843.8 1354.8,848.9 1348.6,857.4 1354.3,864.2 1342.4,884.1 1332.1,883 1336.1,901.7 1306.6,909.1 1309.4,915.3 1301.5,934.6 1304.9,952.2 1323.6,946 1349.2,936.9 1354.8,929.5 1363.9,909.6 1388.9,911.9 1399.7,897.7 1417.9,898.8 1420.7,889.8 1427.5,884.1"/>
<polyline points="1420.7,889.8 1406.5,880.1 1395.7,888.1 1369,898.3 1346.9,905.7 1320.8,914.7 1307,922 1287.8,934.6 1268,934.6 1250,934"/>
<polyline points="1283.3,921.6 1283.9,950.5 1296.4,971 1292.4,974.9 1300.3,985.2 1323,990.3 1330.4,1007.3 1341.2,1011.8 1338.4,1016.4 1344.6,1015.8 1356.6,1018.7 1367.9,1019.2 1372.4,1015.2 1377,1017.5 1386.6,1022.6 1388.9,1016.4"/>
<polyline points="1367.9,1019.2 1377.6,1027.7 1386.6,1022.6"/>
<polyline points="1271.4,943.7 1292.4,974.9"/>
<polyline points="1292.4,974.9 1288.4,983.4 1281.6,1008.4 1275.4,1013.5 1270.2,1017.5 1262,1020"/>
<polyline points="1281.6,1008.4 1306.6,1018.7 1330.4,1007.3"/>
<polyline points="1294.1,937.5 1300.9,931.2 1301.5,934.6"/>
<polyline points="1268,920.4 1283.3,921.6"/>
<polyline points="1130.8,886.4 1116,898.8 1109.8,909.6 1122.3,905.1 1122.3,901.1 1129.6,896 1150.1,898.8 1175.6,891.5 1186.4,877.8 1197.8,882.4 1226.7,861.4 1241.5,840.4 1240.4,850 1229.6,855.1 1226.7,861.4 1233,864.2"/>
<polyline points="1230.1,844.3 1219.9,854.6 1214.2,868.2 1211.4,877.3 1214.8,894.3 1196.6,890.9 1189.3,911.9 1190.4,916.4 1181.9,921.6 1189.3,935.8 1193.8,943.7 1195.5,948.2 1204.6,956.8 1214.2,953.9 1225.6,944.8 1239.2,933.5 1244.9,927.2 1254,930.6 1260.8,929.5"/>
<polyline points="1254.5,934.6 1233,954.5 1207.4,972.7 1194.9,968.7 1204.6,980.6 1193.2,994.8 1185.3,1005"/>
<polyline points="1193.2,994.8 1212,1011.8 1217.6,1014.1 1221,1028.9 1231.8,1013.5 1238.7,1018.7 1245.5,1025.5 1265,1018"/>
<polyline points="1262.5,944.3 1254.5,949.4 1242.1,967.5 1241.5,980.6 1227.3,988 1214.2,1002.8 1212,1011.8"/>
<polyline points="1202.9,1013 1201.7,1015.8 1201.7,1024.3 1196.6,1027.7 1192.7,1024.9 1185.8,1026"/>
<polyline points="1201.7,1015.8 1211.4,1026.6 1231.8,1013.5 1265,1017"/>
<polyline points="1262,1020 1265,1018 1270.2,1017.5"/>
</g>
<polygon points="1250.3,895 1253,888.2 1260,887.5 1267.4,888.2 1276.5,892.4 1283.4,896.2 1291.5,898.9 1294.7,902 1288.3,907.4 1287.7,912.8 1282.4,917 1276,920.8 1270.6,917 1267.4,913.8 1260,913.8 1254,909.6 1250.3,907.4" fill="#00bfbf" stroke="#00bfbf" stroke-width="2" stroke-linejoin="round"/>
<g fill="#00bfbf" fill-opacity="0.6" stroke="#00bfbf" stroke-opacity="0.25" stroke-width="1">
<circle cx="1171.1" cy="729.7" r="3.7"/>
<circle cx="1162" cy="734.8" r="3.7"/>
<circle cx="1163.7" cy="747.3" r="3.7"/>
<circle cx="1171.7" cy="763.2" r="3.7"/>
<circle cx="1167.1" cy="775.6" r="3.7"/>
<circle cx="1185.3" cy="781.9" r="3.7"/>
<circle cx="1200.6" cy="802.3" r="3.7"/>
<circle cx="1203.4" cy="807.4" r="3.7"/>
<circle cx="1226.2" cy="810.8" r="3.7"/>
<circle cx="1244.3" cy="830.7" r="3.7"/>
<circle cx="1250.6" cy="827.3" r="3.7"/>
<circle cx="1171.1" cy="734.2" r="3.7"/>
<circle cx="1188.1" cy="750.7" r="3.7"/>
<circle cx="1196.1" cy="752.9" r="3.7"/>
<circle cx="1208" cy="776.2" r="3.7"/>
<circle cx="1237" cy="804" r="3.7"/>
<circle cx="1249.4" cy="819.9" r="3.7"/>
<circle cx="1255.7" cy="824.5" r="3.7"/>
<circle cx="1279.9" cy="825.6" r="3.7"/>
<circle cx="1288.4" cy="821.6" r="3.7"/>
<circle cx="1298.1" cy="818.8" r="3.7"/>
<circle cx="1302" cy="799.5" r="3.7"/>
<circle cx="1305.4" cy="796.1" r="3.7"/>
<circle cx="1305.4" cy="790.4" r="3.7"/>
<circle cx="1258.5" cy="867.1" r="3.7"/>
<circle cx="1262" cy="885" r="3.7"/>
<circle cx="1130.8" cy="886.4" r="3.7"/>
<circle cx="1150.1" cy="868.2" r="3.7"/>
<circle cx="1167.1" cy="858" r="3.7"/>
<circle cx="1189.3" cy="842.6" r="3.7"/>
<circle cx="1223.9" cy="824.5" r="3.7"/>
<circle cx="1274.2" cy="798.1" r="3.7"/>
<circle cx="1314" cy="792.1" r="3.7"/>
<circle cx="1319.6" cy="783" r="3.7"/>
<circle cx="1322.5" cy="773.4" r="3.7"/>
<circle cx="1328.7" cy="777.3" r="3.7"/>
<circle cx="1340.7" cy="775.6" r="3.7"/>
<circle cx="1346.3" cy="775.1" r="3.7"/>
<circle cx="1344" cy="783" r="3.7"/>
<circle cx="1352.6" cy="783" r="3.7"/>
<circle cx="1361.7" cy="784.7" r="3.7"/>
<circle cx="1358.3" cy="792.1" r="3.7"/>
<circle cx="1350.9" cy="795.5" r="3.7"/>
<circle cx="1353.7" cy="800.1" r="3.7"/>
<circle cx="1328.7" cy="784.2" r="3.7"/>
<circle cx="1320.8" cy="795.5" r="3.7"/>
<circle cx="1330.4" cy="801.8" r="3.7"/>
<circle cx="1340.7" cy="794.4" r="3.7"/>
<circle cx="1341.8" cy="790.4" r="3.7"/>
<circle cx="1317" cy="807" r="3.7"/>
<circle cx="1338.4" cy="808" r="3.7"/>
<circle cx="1331.6" cy="816" r="3.7"/>
<circle cx="1320.2" cy="812.6" r="3.7"/>
<circle cx="1290" cy="826" r="3.7"/>
<circle cx="1287.3" cy="830.2" r="3.7"/>
<circle cx="1282.2" cy="830.7" r="3.7"/>
<circle cx="1299.2" cy="831.9" r="3.7"/>
<circle cx="1312.8" cy="807.4" r="3.7"/>
<circle cx="1284.4" cy="839.8" r="3.7"/>
<circle cx="1282.7" cy="848.9" r="3.7"/>
<circle cx="1265.7" cy="867.1" r="3.7"/>
<circle cx="1275.9" cy="861.4" r="3.7"/>
<circle cx="1270.2" cy="880.1" r="3.7"/>
<circle cx="1266" cy="890" r="3.7"/>
<circle cx="1279.3" cy="875" r="3.7"/>
<circle cx="1287.3" cy="871.6" r="3.7"/>
<circle cx="1303.2" cy="869.9" r="3.7"/>
<circle cx="1317.4" cy="867.6" r="3.7"/>
<circle cx="1330.4" cy="861.4" r="3.7"/>
<circle cx="1339" cy="848.9" r="3.7"/>
<circle cx="1345.2" cy="848.9" r="3.7"/>
<circle cx="1348.6" cy="845.5" r="3.7"/>
<circle cx="1355.4" cy="843.8" r="3.7"/>
<circle cx="1354.8" cy="848.9" r="3.7"/>
<circle cx="1348.6" cy="857.4" r="3.7"/>
<circle cx="1354.3" cy="864.2" r="3.7"/>
<circle cx="1342.4" cy="884.1" r="3.7"/>
<circle cx="1332.1" cy="883" r="3.7"/>
<circle cx="1336.1" cy="901.7" r="3.7"/>
<circle cx="1306.6" cy="909.1" r="3.7"/>
<circle cx="1309.4" cy="915.3" r="3.7"/>
<circle cx="1301.5" cy="934.6" r="3.7"/>
<circle cx="1304.9" cy="952.2" r="3.7"/>
<circle cx="1323.6" cy="946" r="3.7"/>
<circle cx="1349.2" cy="936.9" r="3.7"/>
<circle cx="1354.8" cy="929.5" r="3.7"/>
<circle cx="1363.9" cy="909.6" r="3.7"/>
<circle cx="1388.9" cy="911.9" r="3.7"/>
<circle cx="1399.7" cy="897.7" r="3.7"/>
<circle cx="1417.9" cy="898.8" r="3.7"/>
<circle cx="1420.7" cy="889.8" r="3.7"/>
<circle cx="1427.5" cy="884.1" r="3.7"/>
<circle cx="1406.5" cy="880.1" r="3.7"/>
<circle cx="1395.7" cy="888.1" r="3.7"/>
<circle cx="1369" cy="898.3" r="3.7"/>
<circle cx="1346.9" cy="905.7" r="3.7"/>
<circle cx="1320.8" cy="914.7" r="3.7"/>
<circle cx="1307" cy="922" r="3.7"/>
<circle cx="1287.8" cy="934.6" r="3.7"/>
<circle cx="1268" cy="934.6" r="3.7"/>
<circle cx="1250" cy="934" r="3.7"/>
<circle cx="1283.3" cy="921.6" r="3.7"/>
<circle cx="1283.9" cy="950.5" r="3.7"/>
<circle cx="1296.4" cy="971" r="3.7"/>
<circle cx="1292.4" cy="974.9" r="3.7"/>
<circle cx="1300.3" cy="985.2" r="3.7"/>
<circle cx="1323" cy="990.3" r="3.7"/>
<circle cx="1330.4" cy="1007.3" r="3.7"/>
<circle cx="1341.2" cy="1011.8" r="3.7"/>
<circle cx="1338.4" cy="1016.4" r="3.7"/>
<circle cx="1344.6" cy="1015.8" r="3.7"/>
<circle cx="1356.6" cy="1018.7" r="3.7"/>
<circle cx="1367.9" cy="1019.2" r="3.7"/>
<circle cx="1372.4" cy="1015.2" r="3.7"/>
<circle cx="1377" cy="1017.5" r="3.7"/>
<circle cx="1386.6" cy="1022.6" r="3.7"/>
<circle cx="1388.9" cy="1016.4" r="3.7"/>
<circle cx="1377.6" cy="1027.7" r="3.7"/>
<circle cx="1271.4" cy="943.7" r="3.7"/>
<circle cx="1288.4" cy="983.4" r="3.7"/>
<circle cx="1281.6" cy="1008.4" r="3.7"/>
<circle cx="1275.4" cy="1013.5" r="3.7"/>
<circle cx="1270.2" cy="1017.5" r="3.7"/>
<circle cx="1262" cy="1020" r="3.7"/>
<circle cx="1306.6" cy="1018.7" r="3.7"/>
<circle cx="1294.1" cy="937.5" r="3.7"/>
<circle cx="1300.9" cy="931.2" r="3.7"/>
<circle cx="1268" cy="920.4" r="3.7"/>
<circle cx="1116" cy="898.8" r="3.7"/>
<circle cx="1109.8" cy="909.6" r="3.7"/>
<circle cx="1122.3" cy="905.1" r="3.7"/>
<circle cx="1122.3" cy="901.1" r="3.7"/>
<circle cx="1129.6" cy="896" r="3.7"/>
<circle cx="1150.1" cy="898.8" r="3.7"/>
<circle cx="1175.6" cy="891.5" r="3.7"/>
<circle cx="1186.4" cy="877.8" r="3.7"/>
<circle cx="1197.8" cy="882.4" r="3.7"/>
<circle cx="1226.7" cy="861.4" r="3.7"/>
<circle cx="1241.5" cy="840.4" r="3.7"/>
<circle cx="1240.4" cy="850" r="3.7"/>
<circle cx="1229.6" cy="855.1" r="3.7"/>
<circle cx="1233" cy="864.2" r="3.7"/>
<circle cx="1230.1" cy="844.3" r="3.7"/>
<circle cx="1219.9" cy="854.6" r="3.7"/>
<circle cx="1214.2" cy="868.2" r="3.7"/>
<circle cx="1211.4" cy="877.3" r="3.7"/>
<circle cx="1214.8" cy="894.3" r="3.7"/>
<circle cx="1196.6" cy="890.9" r="3.7"/>
<circle cx="1189.3" cy="911.9" r="3.7"/>
<circle cx="1190.4" cy="916.4" r="3.7"/>
<circle cx="1181.9" cy="921.6" r="3.7"/>
<circle cx="1189.3" cy="935.8" r="3.7"/>
<circle cx="1193.8" cy="943.7" r="3.7"/>
<circle cx="1195.5" cy="948.2" r="3.7"/>
<circle cx="1204.6" cy="956.8" r="3.7"/>
<circle cx="1214.2" cy="953.9" r="3.7"/>
<circle cx="1225.6" cy="944.8" r="3.7"/>
<circle cx="1239.2" cy="933.5" r="3.7"/>
<circle cx="1244.9" cy="927.2" r="3.7"/>
<circle cx="1254" cy="930.6" r="3.7"/>
<circle cx="1260.8" cy="929.5" r="3.7"/>
<circle cx="1254.5" cy="934.6" r="3.7"/>
<circle cx="1233" cy="954.5" r="3.7"/>
<circle cx="1207.4" cy="972.7" r="3.7"/>
<circle cx="1194.9" cy="968.7" r="3.7"/>
<circle cx="1204.6" cy="980.6" r="3.7"/>
<circle cx="1193.2" cy="994.8" r="3.7"/>
<circle cx="1185.3" cy="1005" r="3.7"/>
<circle cx="1212" cy="1011.8" r="3.7"/>
<circle cx="1217.6" cy="1014.1" r="3.7"/>
<circle cx="1221" cy="1028.9" r="3.7"/>
<circle cx="1231.8" cy="1013.5" r="3.7"/>
<circle cx="1238.7" cy="1018.7" r="3.7"/>
<circle cx="1245.5" cy="1025.5" r="3.7"/>
<circle cx="1265" cy="1018" r="3.7"/>
<circle cx="1262.5" cy="944.3" r="3.7"/>
<circle cx="1254.5" cy="949.4" r="3.7"/>
<circle cx="1242.1" cy="967.5" r="3.7"/>
<circle cx="1241.5" cy="980.6" r="3.7"/>
<circle cx="1227.3" cy="988" r="3.7"/>
<circle cx="1214.2" cy="1002.8" r="3.7"/>
<circle cx="1202.9" cy="1013" r="3.7"/>
<circle cx="1201.7" cy="1015.8" r="3.7"/>
<circle cx="1201.7" cy="1024.3" r="3.7"/>
<circle cx="1196.6" cy="1027.7" r="3.7"/>
<circle cx="1192.7" cy="1024.9" r="3.7"/>
<circle cx="1185.8" cy="1026" r="3.7"/>
<circle cx="1211.4" cy="1026.6" r="3.7"/>
<circle cx="1265" cy="1017" r="3.7"/>
<circle cx="1252.88" cy="896.1" r="3.7"/>
<circle cx="1255.12" cy="890.03" r="3.7"/>
<circle cx="1261.59" cy="889.8" r="3.7"/>
<circle cx="1268.08" cy="890.92" r="3.7"/>
<circle cx="1275.37" cy="894.96" r="3.7"/>
<circle cx="1281.05" cy="897.72" r="3.7"/>
<circle cx="1288.79" cy="899.59" r="3.7"/>
<circle cx="1291.91" cy="902.24" r="3.7"/>
<circle cx="1285.55" cy="906.85" r="3.7"/>
<circle cx="1285.24" cy="911.47" r="3.7"/>
<circle cx="1280.59" cy="914.86" r="3.7"/>
<circle cx="1275.26" cy="918.1" r="3.7"/>
<circle cx="1270.77" cy="914.21" r="3.7"/>
<circle cx="1268.45" cy="911.21" r="3.7"/>
<circle cx="1262.12" cy="911.97" r="3.7"/>
<circle cx="1256.67" cy="908.74" r="3.7"/>
<circle cx="1253.06" cy="906.95" r="3.7"/>
</g>
<g stroke="#000" stroke-width="3.8" stroke-linecap="butt">
<line x1="1247.1" y1="899.9" x2="1275.3" y2="899.9" stroke="#000" stroke-width="3.8" />
<line x1="1261.2" y1="885.8" x2="1261.2" y2="914" stroke="#000" stroke-width="3.8" />
</g>
</g>
<rect x="1094.7" y="720.6" width="339.1" height="324.7" fill="none" stroke="#000" stroke-width="1.25"/>
<line x1="1156.9" y1="1045.3" x2="1156.9" y2="1052.5" stroke="#000" stroke-width="1.25" />
<rect x="1138" y="1066.9" width="12.52" height="1.74" fill="#000"/>
<text x="1152.49" y="1074.10" textLength="25.61" lengthAdjust="spacingAndGlyphs" style="font-family:'Liberation Sans';font-size:20.76px;" fill="#000" >20</text>
<line x1="1261.3" y1="1045.3" x2="1261.3" y2="1052.5" stroke="#000" stroke-width="1.25" />
<text x="1255.43" y="1074.10" textLength="12.45" lengthAdjust="spacingAndGlyphs" style="font-family:'Liberation Sans';font-size:20.76px;" fill="#000" >0</text>
<line x1="1365.7" y1="1045.3" x2="1365.7" y2="1052.5" stroke="#000" stroke-width="1.25" />
<text x="1353.50" y="1074.10" textLength="24.36" lengthAdjust="spacingAndGlyphs" style="font-family:'Liberation Sans';font-size:20.76px;" fill="#000" >20</text>
<line x1="1087.5" y1="731.6" x2="1094.7" y2="731.6" stroke="#000" stroke-width="1.25" />
<text x="1056.17" y="739.30" textLength="24.28" lengthAdjust="spacingAndGlyphs" style="font-family:'Liberation Sans';font-size:20.76px;" fill="#000" >30</text>
<line x1="1087.5" y1="786.9" x2="1094.7" y2="786.9" stroke="#000" stroke-width="1.25" />
<text x="1055.89" y="794.60" textLength="24.57" lengthAdjust="spacingAndGlyphs" style="font-family:'Liberation Sans';font-size:20.76px;" fill="#000" >20</text>
<line x1="1087.5" y1="841.6" x2="1094.7" y2="841.6" stroke="#000" stroke-width="1.25" />
<text x="1056.03" y="849.30" textLength="24.43" lengthAdjust="spacingAndGlyphs" style="font-family:'Liberation Sans';font-size:20.76px;" fill="#000" >10</text>
<line x1="1087.5" y1="896.7" x2="1094.7" y2="896.7" stroke="#000" stroke-width="1.25" />
<text x="1068.46" y="904.40" textLength="11.98" lengthAdjust="spacingAndGlyphs" style="font-family:'Liberation Sans';font-size:20.76px;" fill="#000" >0</text>
<line x1="1087.5" y1="952.1" x2="1094.7" y2="952.1" stroke="#000" stroke-width="1.25" />
<rect x="1041.1" y="952.6" width="12.52" height="1.74" fill="#000"/>
<text x="1055.00" y="959.80" textLength="25.50" lengthAdjust="spacingAndGlyphs" style="font-family:'Liberation Sans';font-size:20.76px;" fill="#000" >10</text>
<line x1="1087.5" y1="1007" x2="1094.7" y2="1007" stroke="#000" stroke-width="1.25" />
<rect x="1041.1" y="1007.5" width="12.52" height="1.74" fill="#000"/>
<text x="1055.62" y="1014.70" textLength="24.85" lengthAdjust="spacingAndGlyphs" style="font-family:'Liberation Sans';font-size:20.76px;" fill="#000" >20</text>
<text x="1227.39" y="1104.50" textLength="7.83" lengthAdjust="spacingAndGlyphs" style="font-family:'Liberation Sans';font-size:25.29px;font-style:italic;" fill="#000" >I</text>
<text x="1241.94" y="1104.50" textLength="58.13" lengthAdjust="spacingAndGlyphs" style="font-family:'Liberation Sans';font-size:25.29px;" fill="#000" >(mV)</text>
<g transform="translate(1026.8,0) rotate(-90)"><text x="-925.06" y="0.00" textLength="18.22" lengthAdjust="spacingAndGlyphs" style="font-family:'Liberation Sans';font-size:25.58px;font-style:italic;" fill="#000" >Q</text><text x="-898.73" y="0.00" textLength="56.96" lengthAdjust="spacingAndGlyphs" style="font-family:'Liberation Sans';font-size:25.58px;" fill="#000" >(mV)</text></g>
<rect x="1094.7" y="1300.3" width="338.7" height="324.6" fill="#fff" stroke="none"/>
<defs><clipPath id="ic"><rect x="1094.7" y="1300.3" width="338.70000000000005" height="324.60000000000014"/></clipPath></defs>
<g clip-path="url(#ic)">
<g fill="none" stroke="#bf00bf" stroke-opacity="0.4" stroke-width="2.8" stroke-linejoin="round" stroke-linecap="round">
<polyline points="1164.4,1305.1 1164.4,1310.2 1158.7,1315.9 1153.6,1319.9 1159.3,1332.4 1169,1351.7 1163.8,1364.7 1186,1371.5 1204.2,1395.4 1208.7,1399.4 1233.7,1401.1 1235.4,1397.1 1260.9,1392"/>
<polyline points="1164.4,1310.2 1184.3,1322.7 1190.5,1324.4 1204.7,1348.3 1234.8,1377.2 1245,1395 1253.6,1424.3"/>
<polyline points="1233.7,1401.1 1253.6,1424.3 1247.9,1401.1"/>
<polyline points="1233.7,1401.1 1197.3,1414.7 1172.9,1431.7 1156.5,1444.8 1137.7,1464.1 1123.5,1482.3 1112.7,1493.6 1126.4,1493.6 1136,1482.8 1155.3,1489.1 1184.3,1482.8 1195.6,1469.8 1208.1,1476.6 1226.9,1462.4 1233.7,1447.6 1242.8,1436.8 1255.3,1445.4 1257,1448.8"/>
<polyline points="1253.6,1424.3 1260.4,1414.1"/>
<polyline points="1257.5,1434.6 1243.9,1452.2 1242.2,1458.4 1226.9,1476.6 1229.1,1493.6 1209.8,1490.8 1200.7,1512.9 1201.3,1518 1193.9,1523.1 1194.5,1526.5 1180.9,1528.8 1188.3,1535.6 1190,1543 1200.2,1553.8"/>
<polyline points="1241.6,1458.4 1226.9,1476.6"/>
<polyline points="1229.1,1493.6 1219.5,1505.5 1201.3,1518"/>
<polyline points="1250.1,1461.3 1256.4,1468.6 1246.2,1482.3 1237.1,1491.3 1236.5,1507.8 1217.8,1515.8 1201.9,1533.9 1201.3,1540.2 1199,1542.4 1208.1,1547.6 1224,1538.5 1229.1,1537.3 1244.5,1554.9 1265,1547"/>
<polyline points="1246.2,1482.3 1257.5,1481.1 1265,1480"/>
<polyline points="1208.7,1551 1219.5,1560 1230.3,1556.6 1243.9,1545.8 1258.1,1534.5 1263.8,1526 1265.3,1526 1281.2,1530 1277.2,1540.7"/>
<polyline points="1184.8,1545.8 1174.6,1554.4 1166.1,1554.9"/>
<polyline points="1187.7,1552.1 1178,1570.8 1170.1,1575.9"/>
<polyline points="1178,1570.8 1201.9,1596.4 1206.4,1614.5 1225.7,1609.4 1256.4,1609.4 1267,1607.2 1280.6,1578.8 1290.3,1559.5 1286.3,1539.6 1281.2,1530 1280,1510"/>
<polyline points="1277.2,1540.7 1265,1546 1244.5,1554.9"/>
<polyline points="1286.3,1539.6 1316.9,1553.2 1324.9,1545.8 1342.5,1540.7 1353.8,1552.1 1373.2,1563.4 1388.5,1560.6 1391.3,1568.6 1403.2,1570.8 1406.7,1576.5 1399.3,1583.3 1391.3,1586.2 1377.1,1578.2 1353.8,1574.8 1344.8,1571.4 1324.9,1545.8"/>
<polyline points="1299.9,1517.5 1298.2,1505.5 1290.3,1519.2 1295.4,1527.1 1305,1543 1324.9,1545.8"/>
<polyline points="1290.3,1519.2 1281.2,1530"/>
<polyline points="1267.5,1365.9 1274.4,1364.2 1292,1363 1307.3,1365.9 1322.1,1361.3 1331.7,1347.1 1334.5,1350 1340.2,1350 1347,1344.9 1355,1343.7 1358.4,1347.7 1352.1,1351.7 1352.7,1357.9 1358.4,1359 1374.9,1346 1382.8,1351.7 1377.7,1351.7 1372.6,1357.3 1358.4,1359"/>
<polyline points="1352.1,1351.7 1377.7,1351.7"/>
<polyline points="1322.1,1361.3 1336.8,1364.7 1340.2,1365.9 1348.7,1370.4 1362.4,1367.6 1369.2,1367.6 1362.9,1383.5 1361.2,1386.3 1358.4,1402.2 1349.9,1409"/>
<polyline points="1331.7,1347.1 1336.8,1364.7"/>
<polyline points="1292,1363 1290.8,1367.6 1272,1383"/>
<polyline points="1290.8,1375 1300.5,1380.6 1336.8,1364.7"/>
<polyline points="1290.8,1375 1290.8,1385"/>
<polyline points="1332.8,1373.8 1337.4,1377.2 1320.9,1389.7 1318.6,1394.3 1314,1410 1312.4,1415.8"/>
<polyline points="1337.4,1377.2 1339.1,1393.7 1358.4,1402.2"/>
<polyline points="1361.2,1386.3 1374.3,1392.5"/>
<polyline points="1303.3,1404.5 1330,1398.2 1314.1,1424.9"/>
<polyline points="1346.5,1378.9 1337.4,1377.2"/>
<polyline points="1297.1,1428.9 1299.3,1435.7 1293.7,1438.5 1287.4,1440.8 1299.3,1440.8 1296.5,1463.5 1291.4,1461.8"/>
<polyline points="1282.9,1428.9 1267.5,1441.4 1269.8,1451.6 1267.5,1463.5 1279.5,1468.1 1291.4,1462.4 1297.1,1463.5 1313.5,1459 1341.4,1444.2 1354.4,1438.5 1359.5,1438 1391.3,1428.3 1398.1,1415.8 1411.8,1428.3 1420.8,1420.9"/>
<polyline points="1359.5,1438 1380,1445.9 1393,1434 1408.4,1438 1408.9,1433.4 1411.8,1428.3"/>
<polyline points="1354.4,1438.5 1343.6,1458.4 1341.4,1461.8 1315.2,1466.9 1296.5,1470.9 1279.5,1468.1"/>
<polyline points="1344.8,1459.5 1315.2,1467.5"/>
<polyline points="1276.6,1478.3 1286.3,1480 1263,1480"/>
<polyline points="1269.2,1412.4 1264.1,1415.8 1258,1415"/>
<polyline points="1296.5,1413 1306.7,1411.3 1312.4,1415.8"/>
<polyline points="1267.5,1463.5 1276.6,1478.3 1280,1490"/>
</g>
<polygon points="1258.4,1391 1262.2,1385.4 1268.7,1382.6 1277.1,1384 1280.4,1387.8 1290.7,1386.4 1292.6,1392.4 1297.2,1398.1 1298.2,1402.7 1296.3,1409.7 1294.4,1416.8 1293,1423.8 1287.4,1426.1 1281.8,1425.2 1279.5,1419.1 1277.6,1412.1 1276.2,1405.1 1272,1400.9 1264,1397.1 1259.4,1394.8" fill="#bf00bf" stroke="#bf00bf" stroke-width="2" stroke-linejoin="round"/>
<polygon points="1269.4,1490.2 1275,1487.4 1281.5,1488.6 1285.1,1491 1290.3,1491 1293.5,1493.8 1297.1,1497.4 1298.3,1501.1 1294.3,1507.9 1289.9,1510.3 1280.7,1511.1 1275.8,1508.3 1271,1503.9 1268.2,1499 1268.6,1493" fill="#bf00bf" stroke="#bf00bf" stroke-width="2" stroke-linejoin="round"/>
<g fill="#bf00bf" fill-opacity="0.6" stroke="#bf00bf" stroke-opacity="0.25" stroke-width="1">
<circle cx="1164.4" cy="1305.1" r="3.7"/>
<circle cx="1164.4" cy="1310.2" r="3.7"/>
<circle cx="1158.7" cy="1315.9" r="3.7"/>
<circle cx="1153.6" cy="1319.9" r="3.7"/>
<circle cx="1159.3" cy="1332.4" r="3.7"/>
<circle cx="1169" cy="1351.7" r="3.7"/>
<circle cx="1163.8" cy="1364.7" r="3.7"/>
<circle cx="1186" cy="1371.5" r="3.7"/>
<circle cx="1204.2" cy="1395.4" r="3.7"/>
<circle cx="1208.7" cy="1399.4" r="3.7"/>
<circle cx="1233.7" cy="1401.1" r="3.7"/>
<circle cx="1235.4" cy="1397.1" r="3.7"/>
<circle cx="1260.9" cy="1392" r="3.7"/>
<circle cx="1184.3" cy="1322.7" r="3.7"/>
<circle cx="1190.5" cy="1324.4" r="3.7"/>
<circle cx="1204.7" cy="1348.3" r="3.7"/>
<circle cx="1234.8" cy="1377.2" r="3.7"/>
<circle cx="1245" cy="1395" r="3.7"/>
<circle cx="1253.6" cy="1424.3" r="3.7"/>
<circle cx="1247.9" cy="1401.1" r="3.7"/>
<circle cx="1197.3" cy="1414.7" r="3.7"/>
<circle cx="1172.9" cy="1431.7" r="3.7"/>
<circle cx="1156.5" cy="1444.8" r="3.7"/>
<circle cx="1137.7" cy="1464.1" r="3.7"/>
<circle cx="1123.5" cy="1482.3" r="3.7"/>
<circle cx="1112.7" cy="1493.6" r="3.7"/>
<circle cx="1126.4" cy="1493.6" r="3.7"/>
<circle cx="1136" cy="1482.8" r="3.7"/>
<circle cx="1155.3" cy="1489.1" r="3.7"/>
<circle cx="1184.3" cy="1482.8" r="3.7"/>
<circle cx="1195.6" cy="1469.8" r="3.7"/>
<circle cx="1208.1" cy="1476.6" r="3.7"/>
<circle cx="1226.9" cy="1462.4" r="3.7"/>
<circle cx="1233.7" cy="1447.6" r="3.7"/>
<circle cx="1242.8" cy="1436.8" r="3.7"/>
<circle cx="1255.3" cy="1445.4" r="3.7"/>
<circle cx="1257" cy="1448.8" r="3.7"/>
<circle cx="1260.4" cy="1414.1" r="3.7"/>
<circle cx="1257.5" cy="1434.6" r="3.7"/>
<circle cx="1243.9" cy="1452.2" r="3.7"/>
<circle cx="1242.2" cy="1458.4" r="3.7"/>
<circle cx="1226.9" cy="1476.6" r="3.7"/>
<circle cx="1229.1" cy="1493.6" r="3.7"/>
<circle cx="1209.8" cy="1490.8" r="3.7"/>
<circle cx="1200.7" cy="1512.9" r="3.7"/>
<circle cx="1201.3" cy="1518" r="3.7"/>
<circle cx="1193.9" cy="1523.1" r="3.7"/>
<circle cx="1194.5" cy="1526.5" r="3.7"/>
<circle cx="1180.9" cy="1528.8" r="3.7"/>
<circle cx="1188.3" cy="1535.6" r="3.7"/>
<circle cx="1190" cy="1543" r="3.7"/>
<circle cx="1200.2" cy="1553.8" r="3.7"/>
<circle cx="1219.5" cy="1505.5" r="3.7"/>
<circle cx="1250.1" cy="1461.3" r="3.7"/>
<circle cx="1256.4" cy="1468.6" r="3.7"/>
<circle cx="1246.2" cy="1482.3" r="3.7"/>
<circle cx="1237.1" cy="1491.3" r="3.7"/>
<circle cx="1236.5" cy="1507.8" r="3.7"/>
<circle cx="1217.8" cy="1515.8" r="3.7"/>
<circle cx="1201.9" cy="1533.9" r="3.7"/>
<circle cx="1201.3" cy="1540.2" r="3.7"/>
<circle cx="1199" cy="1542.4" r="3.7"/>
<circle cx="1208.1" cy="1547.6" r="3.7"/>
<circle cx="1224" cy="1538.5" r="3.7"/>
<circle cx="1229.1" cy="1537.3" r="3.7"/>
<circle cx="1244.5" cy="1554.9" r="3.7"/>
<circle cx="1265" cy="1547" r="3.7"/>
<circle cx="1257.5" cy="1481.1" r="3.7"/>
<circle cx="1265" cy="1480" r="3.7"/>
<circle cx="1208.7" cy="1551" r="3.7"/>
<circle cx="1219.5" cy="1560" r="3.7"/>
<circle cx="1230.3" cy="1556.6" r="3.7"/>
<circle cx="1243.9" cy="1545.8" r="3.7"/>
<circle cx="1258.1" cy="1534.5" r="3.7"/>
<circle cx="1263.8" cy="1526" r="3.7"/>
<circle cx="1265.3" cy="1526" r="3.7"/>
<circle cx="1281.2" cy="1530" r="3.7"/>
<circle cx="1277.2" cy="1540.7" r="3.7"/>
<circle cx="1184.8" cy="1545.8" r="3.7"/>
<circle cx="1174.6" cy="1554.4" r="3.7"/>
<circle cx="1166.1" cy="1554.9" r="3.7"/>
<circle cx="1187.7" cy="1552.1" r="3.7"/>
<circle cx="1178" cy="1570.8" r="3.7"/>
<circle cx="1170.1" cy="1575.9" r="3.7"/>
<circle cx="1201.9" cy="1596.4" r="3.7"/>
<circle cx="1206.4" cy="1614.5" r="3.7"/>
<circle cx="1225.7" cy="1609.4" r="3.7"/>
<circle cx="1256.4" cy="1609.4" r="3.7"/>
<circle cx="1267" cy="1607.2" r="3.7"/>
<circle cx="1280.6" cy="1578.8" r="3.7"/>
<circle cx="1290.3" cy="1559.5" r="3.7"/>
<circle cx="1286.3" cy="1539.6" r="3.7"/>
<circle cx="1280" cy="1510" r="3.7"/>
<circle cx="1265" cy="1546" r="3.7"/>
<circle cx="1316.9" cy="1553.2" r="3.7"/>
<circle cx="1324.9" cy="1545.8" r="3.7"/>
<circle cx="1342.5" cy="1540.7" r="3.7"/>
<circle cx="1353.8" cy="1552.1" r="3.7"/>
<circle cx="1373.2" cy="1563.4" r="3.7"/>
<circle cx="1388.5" cy="1560.6" r="3.7"/>
<circle cx="1391.3" cy="1568.6" r="3.7"/>
<circle cx="1403.2" cy="1570.8" r="3.7"/>
<circle cx="1406.7" cy="1576.5" r="3.7"/>
<circle cx="1399.3" cy="1583.3" r="3.7"/>
<circle cx="1391.3" cy="1586.2" r="3.7"/>
<circle cx="1377.1" cy="1578.2" r="3.7"/>
<circle cx="1353.8" cy="1574.8" r="3.7"/>
<circle cx="1344.8" cy="1571.4" r="3.7"/>
<circle cx="1299.9" cy="1517.5" r="3.7"/>
<circle cx="1298.2" cy="1505.5" r="3.7"/>
<circle cx="1290.3" cy="1519.2" r="3.7"/>
<circle cx="1295.4" cy="1527.1" r="3.7"/>
<circle cx="1305" cy="1543" r="3.7"/>
<circle cx="1267.5" cy="1365.9" r="3.7"/>
<circle cx="1274.4" cy="1364.2" r="3.7"/>
<circle cx="1292" cy="1363" r="3.7"/>
<circle cx="1307.3" cy="1365.9" r="3.7"/>
<circle cx="1322.1" cy="1361.3" r="3.7"/>
<circle cx="1331.7" cy="1347.1" r="3.7"/>
<circle cx="1334.5" cy="1350" r="3.7"/>
<circle cx="1340.2" cy="1350" r="3.7"/>
<circle cx="1347" cy="1344.9" r="3.7"/>
<circle cx="1355" cy="1343.7" r="3.7"/>
<circle cx="1358.4" cy="1347.7" r="3.7"/>
<circle cx="1352.1" cy="1351.7" r="3.7"/>
<circle cx="1352.7" cy="1357.9" r="3.7"/>
<circle cx="1358.4" cy="1359" r="3.7"/>
<circle cx="1374.9" cy="1346" r="3.7"/>
<circle cx="1382.8" cy="1351.7" r="3.7"/>
<circle cx="1377.7" cy="1351.7" r="3.7"/>
<circle cx="1372.6" cy="1357.3" r="3.7"/>
<circle cx="1336.8" cy="1364.7" r="3.7"/>
<circle cx="1340.2" cy="1365.9" r="3.7"/>
<circle cx="1348.7" cy="1370.4" r="3.7"/>
<circle cx="1362.4" cy="1367.6" r="3.7"/>
<circle cx="1369.2" cy="1367.6" r="3.7"/>
<circle cx="1362.9" cy="1383.5" r="3.7"/>
<circle cx="1361.2" cy="1386.3" r="3.7"/>
<circle cx="1358.4" cy="1402.2" r="3.7"/>
<circle cx="1349.9" cy="1409" r="3.7"/>
<circle cx="1290.8" cy="1367.6" r="3.7"/>
<circle cx="1272" cy="1383" r="3.7"/>
<circle cx="1290.8" cy="1375" r="3.7"/>
<circle cx="1300.5" cy="1380.6" r="3.7"/>
<circle cx="1290.8" cy="1385" r="3.7"/>
<circle cx="1332.8" cy="1373.8" r="3.7"/>
<circle cx="1337.4" cy="1377.2" r="3.7"/>
<circle cx="1320.9" cy="1389.7" r="3.7"/>
<circle cx="1318.6" cy="1394.3" r="3.7"/>
<circle cx="1314" cy="1410" r="3.7"/>
<circle cx="1312.4" cy="1415.8" r="3.7"/>
<circle cx="1339.1" cy="1393.7" r="3.7"/>
<circle cx="1374.3" cy="1392.5" r="3.7"/>
<circle cx="1303.3" cy="1404.5" r="3.7"/>
<circle cx="1330" cy="1398.2" r="3.7"/>
<circle cx="1314.1" cy="1424.9" r="3.7"/>
<circle cx="1346.5" cy="1378.9" r="3.7"/>
<circle cx="1297.1" cy="1428.9" r="3.7"/>
<circle cx="1299.3" cy="1435.7" r="3.7"/>
<circle cx="1293.7" cy="1438.5" r="3.7"/>
<circle cx="1287.4" cy="1440.8" r="3.7"/>
<circle cx="1299.3" cy="1440.8" r="3.7"/>
<circle cx="1296.5" cy="1463.5" r="3.7"/>
<circle cx="1291.4" cy="1461.8" r="3.7"/>
<circle cx="1282.9" cy="1428.9" r="3.7"/>
<circle cx="1267.5" cy="1441.4" r="3.7"/>
<circle cx="1269.8" cy="1451.6" r="3.7"/>
<circle cx="1267.5" cy="1463.5" r="3.7"/>
<circle cx="1279.5" cy="1468.1" r="3.7"/>
<circle cx="1297.1" cy="1463.5" r="3.7"/>
<circle cx="1313.5" cy="1459" r="3.7"/>
<circle cx="1341.4" cy="1444.2" r="3.7"/>
<circle cx="1354.4" cy="1438.5" r="3.7"/>
<circle cx="1359.5" cy="1438" r="3.7"/>
<circle cx="1391.3" cy="1428.3" r="3.7"/>
<circle cx="1398.1" cy="1415.8" r="3.7"/>
<circle cx="1411.8" cy="1428.3" r="3.7"/>
<circle cx="1420.8" cy="1420.9" r="3.7"/>
<circle cx="1380" cy="1445.9" r="3.7"/>
<circle cx="1393" cy="1434" r="3.7"/>
<circle cx="1408.4" cy="1438" r="3.7"/>
<circle cx="1408.9" cy="1433.4" r="3.7"/>
<circle cx="1343.6" cy="1458.4" r="3.7"/>
<circle cx="1341.4" cy="1461.8" r="3.7"/>
<circle cx="1315.2" cy="1466.9" r="3.7"/>
<circle cx="1296.5" cy="1470.9" r="3.7"/>
<circle cx="1344.8" cy="1459.5" r="3.7"/>
<circle cx="1315.2" cy="1467.5" r="3.7"/>
<circle cx="1276.6" cy="1478.3" r="3.7"/>
<circle cx="1286.3" cy="1480" r="3.7"/>
<circle cx="1263" cy="1480" r="3.7"/>
<circle cx="1269.2" cy="1412.4" r="3.7"/>
<circle cx="1264.1" cy="1415.8" r="3.7"/>
<circle cx="1258" cy="1415" r="3.7"/>
<circle cx="1296.5" cy="1413" r="3.7"/>
<circle cx="1306.7" cy="1411.3" r="3.7"/>
<circle cx="1280" cy="1490" r="3.7"/>
<circle cx="1260.9" cy="1392.26" r="3.7"/>
<circle cx="1264.26" cy="1387.29" r="3.7"/>
<circle cx="1270.14" cy="1385" r="3.7"/>
<circle cx="1277.6" cy="1386.76" r="3.7"/>
<circle cx="1280.39" cy="1390.6" r="3.7"/>
<circle cx="1289.16" cy="1388.74" r="3.7"/>
<circle cx="1290.4" cy="1394.13" r="3.7"/>
<circle cx="1294.47" cy="1398.74" r="3.7"/>
<circle cx="1295.4" cy="1402.6" r="3.7"/>
<circle cx="1293.78" cy="1408.49" r="3.7"/>
<circle cx="1292.47" cy="1414.77" r="3.7"/>
<circle cx="1291.59" cy="1421.38" r="3.7"/>
<circle cx="1286.61" cy="1423.41" r="3.7"/>
<circle cx="1281.63" cy="1422.41" r="3.7"/>
<circle cx="1279.64" cy="1416.3" r="3.7"/>
<circle cx="1278.34" cy="1409.4" r="3.7"/>
<circle cx="1278.46" cy="1403.44" r="3.7"/>
<circle cx="1274.77" cy="1401.28" r="3.7"/>
<circle cx="1266.68" cy="1397.91" r="3.7"/>
<circle cx="1262.05" cy="1395.72" r="3.7"/>
<circle cx="1271.79" cy="1491.66" r="3.7"/>
<circle cx="1276.6" cy="1489.7" r="3.7"/>
<circle cx="1281.81" cy="1491.38" r="3.7"/>
<circle cx="1284.18" cy="1493.65" r="3.7"/>
<circle cx="1288.26" cy="1492.92" r="3.7"/>
<circle cx="1290.91" cy="1494.86" r="3.7"/>
<circle cx="1294.3" cy="1497.57" r="3.7"/>
<circle cx="1295.54" cy="1500.6" r="3.7"/>
<circle cx="1292.14" cy="1506.12" r="3.7"/>
<circle cx="1288.44" cy="1507.91" r="3.7"/>
<circle cx="1281.11" cy="1508.33" r="3.7"/>
<circle cx="1277.37" cy="1505.98" r="3.7"/>
<circle cx="1273.52" cy="1502.68" r="3.7"/>
<circle cx="1271" cy="1498.86" r="3.7"/>
<circle cx="1271.22" cy="1493.99" r="3.7"/>
</g>
<g stroke="#000" stroke-width="3.8" stroke-linecap="butt">
<line x1="1265.4" y1="1496.6" x2="1293.4" y2="1496.6" stroke="#000" stroke-width="3.8" />
<line x1="1279.4" y1="1482.6" x2="1279.4" y2="1510.6" stroke="#000" stroke-width="3.8" />
</g>
</g>
<rect x="1094.7" y="1300.3" width="338.7" height="324.6" fill="none" stroke="#000" stroke-width="1.25"/>
<line x1="1162.7" y1="1624.9" x2="1162.7" y2="1632.1" stroke="#000" stroke-width="1.25" />
<rect x="1143.6" y="1646.5" width="12.52" height="1.74" fill="#000"/>
<text x="1158.11" y="1653.70" textLength="25.18" lengthAdjust="spacingAndGlyphs" style="font-family:'Liberation Sans';font-size:20.76px;" fill="#000" >20</text>
<line x1="1275.8" y1="1624.9" x2="1275.8" y2="1632.1" stroke="#000" stroke-width="1.25" />
<text x="1269.73" y="1653.70" textLength="12.33" lengthAdjust="spacingAndGlyphs" style="font-family:'Liberation Sans';font-size:20.76px;" fill="#000" >0</text>
<line x1="1388.5" y1="1624.9" x2="1388.5" y2="1632.1" stroke="#000" stroke-width="1.25" />
<text x="1376.31" y="1653.70" textLength="24.14" lengthAdjust="spacingAndGlyphs" style="font-family:'Liberation Sans';font-size:20.76px;" fill="#000" >20</text>
<line x1="1087.5" y1="1318" x2="1094.7" y2="1318" stroke="#000" stroke-width="1.25" />
<text x="1056.06" y="1325.70" textLength="24.39" lengthAdjust="spacingAndGlyphs" style="font-family:'Liberation Sans';font-size:20.76px;" fill="#000" >30</text>
<line x1="1087.5" y1="1378.3" x2="1094.7" y2="1378.3" stroke="#000" stroke-width="1.25" />
<text x="1055.78" y="1386.00" textLength="24.68" lengthAdjust="spacingAndGlyphs" style="font-family:'Liberation Sans';font-size:20.76px;" fill="#000" >20</text>
<line x1="1087.5" y1="1438.5" x2="1094.7" y2="1438.5" stroke="#000" stroke-width="1.25" />
<text x="1056.24" y="1446.20" textLength="24.21" lengthAdjust="spacingAndGlyphs" style="font-family:'Liberation Sans';font-size:20.76px;" fill="#000" >10</text>
<line x1="1087.5" y1="1498.3" x2="1094.7" y2="1498.3" stroke="#000" stroke-width="1.25" />
<text x="1068.03" y="1506.00" textLength="12.45" lengthAdjust="spacingAndGlyphs" style="font-family:'Liberation Sans';font-size:20.76px;" fill="#000" >0</text>
<line x1="1087.5" y1="1558.6" x2="1094.7" y2="1558.6" stroke="#000" stroke-width="1.25" />
<rect x="1040.6" y="1559.1" width="12.52" height="1.74" fill="#000"/>
<text x="1054.46" y="1566.30" textLength="26.05" lengthAdjust="spacingAndGlyphs" style="font-family:'Liberation Sans';font-size:20.76px;" fill="#000" >10</text>
<line x1="1087.5" y1="1618.8" x2="1094.7" y2="1618.8" stroke="#000" stroke-width="1.25" />
<rect x="1040.6" y="1619.3" width="12.52" height="1.74" fill="#000"/>
<text x="1055.10" y="1626.50" textLength="25.40" lengthAdjust="spacingAndGlyphs" style="font-family:'Liberation Sans';font-size:20.76px;" fill="#000" >20</text>
<text x="1227.39" y="1683.80" textLength="7.83" lengthAdjust="spacingAndGlyphs" style="font-family:'Liberation Sans';font-size:25.29px;font-style:italic;" fill="#000" >I</text>
<text x="1241.94" y="1683.80" textLength="58.13" lengthAdjust="spacingAndGlyphs" style="font-family:'Liberation Sans';font-size:25.29px;" fill="#000" >(mV)</text>
<g transform="translate(1026.8,0) rotate(-90)"><text x="-1504.06" y="0.00" textLength="18.22" lengthAdjust="spacingAndGlyphs" style="font-family:'Liberation Sans';font-size:25.58px;font-style:italic;" fill="#000" >Q</text><text x="-1477.73" y="0.00" textLength="56.96" lengthAdjust="spacingAndGlyphs" style="font-family:'Liberation Sans';font-size:25.58px;" fill="#000" >(mV)</text></g></svg></body></html>
